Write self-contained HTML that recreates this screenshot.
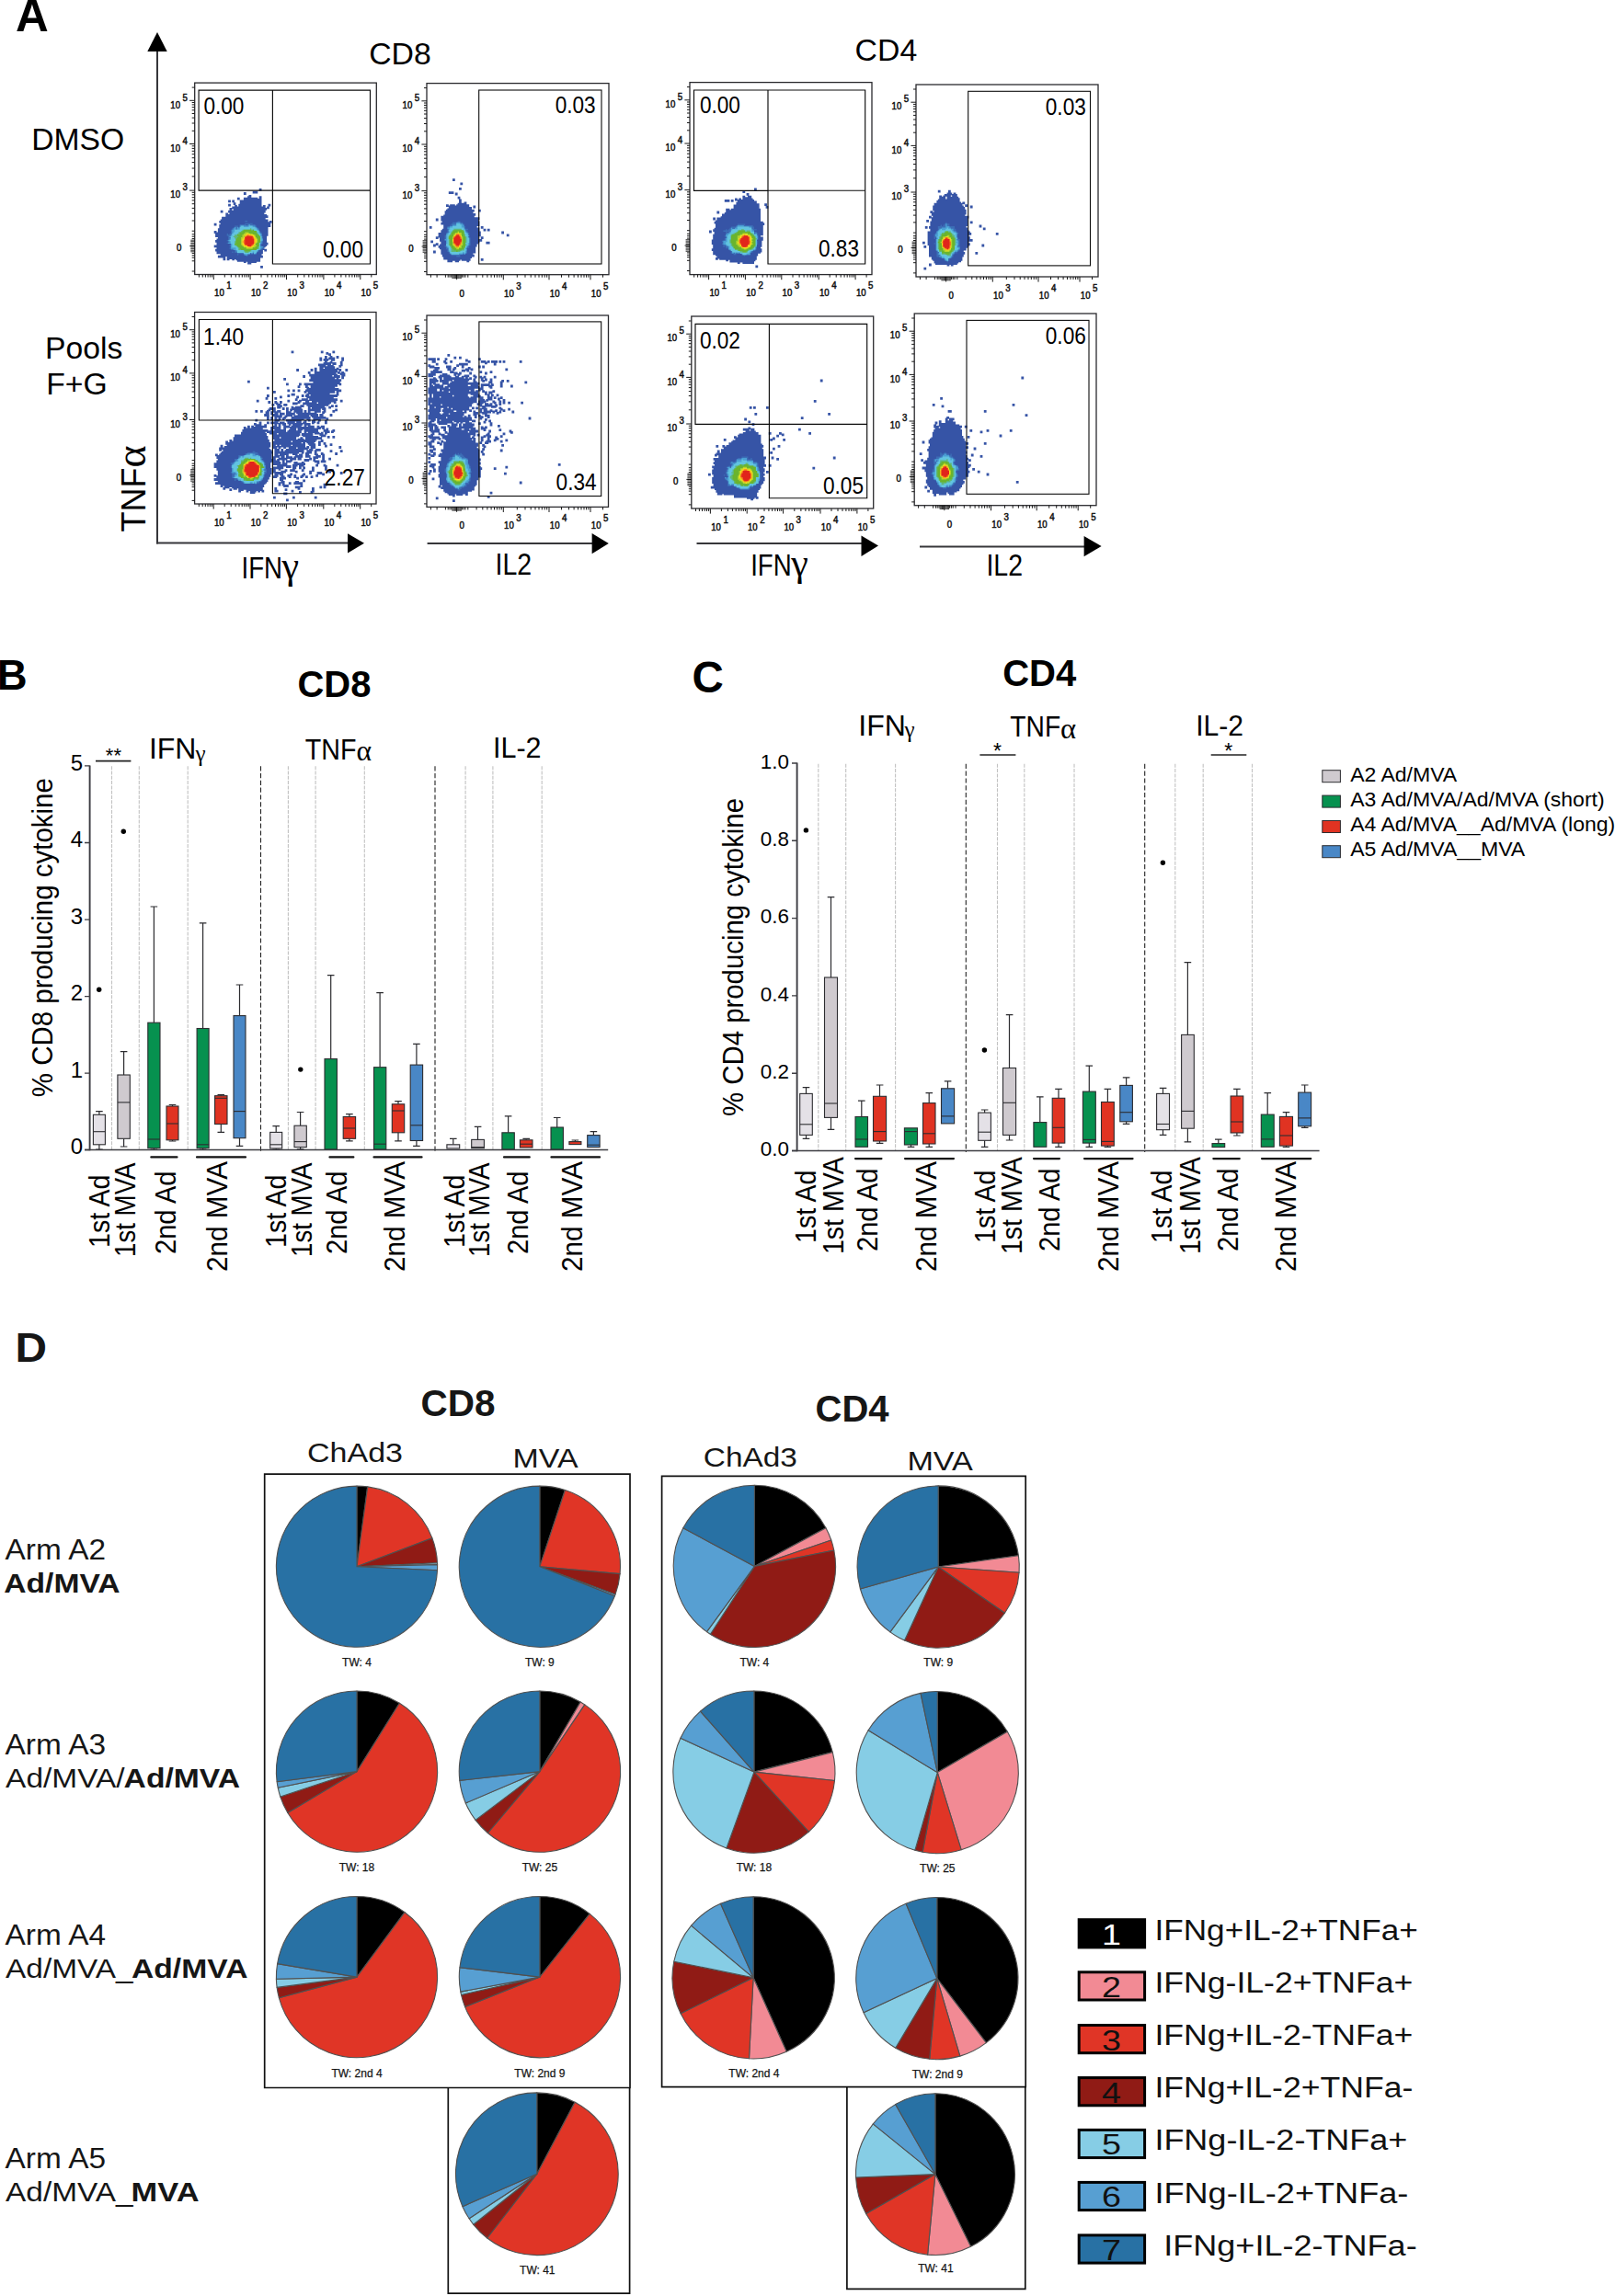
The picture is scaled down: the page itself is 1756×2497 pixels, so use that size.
<!DOCTYPE html>
<html lang="en"><head><meta charset="utf-8"><title>Figure</title>
<style>html,body{margin:0;padding:0;background:#fff}svg{display:block}</style>
</head><body>
<svg width="1756" height="2497" viewBox="0 0 1756 2497" font-family='"Liberation Sans", sans-serif' fill="#000">
<g>
<path fill="#3654a6" d="M281.7 204.9h2.8v2.8h-2.8zM274.7 207.7h5.6v2.8h-5.6zM264.9 209.1h2.8v2.8h-2.8zM270.5 211.9h2.8v1.4h-2.8zM269.1 213.3h4.2v1.4h-4.2zM281.7 213.3h2.8v2.8h-2.8zM257.9 214.7h2.8v2.8h-2.8zM264.9 214.7h15.4v1.4h-15.4zM264.9 216.1h19.6v1.4h-19.6zM248.1 217.5h2.8v2.8h-2.8zM252.3 217.5h2.8v2.8h-2.8zM260.7 217.5h23.8v4.2h-23.8zM253.7 220.3h2.8v2.8h-2.8zM248.1 221.7h2.8v2.8h-2.8zM259.3 221.7h25.2v2.8h-25.2zM291.5 221.7h2.8v2.8h-2.8zM255.1 223.1h2.8v1.4h-2.8zM285.9 223.1h2.8v1.4h-2.8zM252.3 224.5h36.4v1.4h-36.4zM290.1 224.5h2.8v1.4h-2.8zM249.5 225.9h43.4v1.4h-43.4zM249.5 227.3h2.8v1.4h-2.8zM253.7 227.3h36.4v1.4h-36.4zM239.7 228.7h2.8v2.8h-2.8zM248.1 228.7h40.6v2.8h-40.6zM245.3 231.5h2.8v1.4h-2.8zM249.5 231.5h37.8v1.4h-37.8zM245.3 232.9h44.8v1.4h-44.8zM245.3 234.3h46.2v1.4h-46.2zM241.1 235.7h50.4v1.4h-50.4zM241.1 237.1h47.6v1.4h-47.6zM239.7 238.5h51.8v1.4h-51.8zM238.3 239.9h53.2v1.4h-53.2zM292.9 239.9h2.8v1.4h-2.8zM238.3 241.3h57.4v1.4h-57.4zM232.7 242.7h2.8v2.8h-2.8zM239.7 242.7h54.6v1.4h-54.6zM238.3 244.1h56v2.8h-56zM238.3 246.9h53.2v1.4h-53.2zM236.9 248.3h54.6v4.2h-54.6zM232.7 251.1h2.8v1.4h-2.8zM232.7 252.5h58.8v1.4h-58.8zM234.1 253.9h57.4v2.8h-57.4zM234.1 256.7h56v1.4h-56zM236.9 258.1h53.2v1.4h-53.2zM235.5 259.5h54.6v1.4h-54.6zM234.1 260.9h56v2.8h-56zM235.5 263.7h56v2.8h-56zM232.7 266.5h57.4v1.4h-57.4zM232.7 267.9h56v1.4h-56zM235.5 269.3h51.8v1.4h-51.8zM234.1 270.7h56v1.4h-56zM234.1 272.1h51.8v1.4h-51.8zM287.3 272.1h2.8v1.4h-2.8zM235.5 273.5h50.4v2.8h-50.4zM239.7 276.3h44.8v1.4h-44.8zM236.9 277.7h49v1.4h-49zM236.9 279.1h8.4v1.4h-8.4zM246.7 279.1h39.2v1.4h-39.2zM242.5 280.5h2.8v2.8h-2.8zM246.7 280.5h36.4v1.4h-36.4zM246.7 281.9h2.8v1.4h-2.8zM252.3 281.9h2.8v1.4h-2.8zM256.5 281.9h26.6v1.4h-26.6zM257.9 283.3h25.2v1.4h-25.2zM264.9 284.7h2.8v1.4h-2.8zM269.1 284.7h9.8v1.4h-9.8zM269.1 286.1h4.2v1.4h-4.2zM283.1 288.9h2.8v2.8h-2.8z"/>
<path fill="#3c6db6" d="M266.3 239.9h2.8v1.4h-2.8zM266.3 242.7h8.4v1.4h-8.4zM260.7 244.1h7v1.4h-7zM269.1 244.1h8.4v1.4h-8.4zM255.1 245.5h4.2v1.4h-4.2zM260.7 245.5h18.2v1.4h-18.2zM253.7 246.9h26.6v1.4h-26.6zM252.3 248.3h29.4v1.4h-29.4zM250.9 249.7h30.8v1.4h-30.8zM250.9 251.1h32.2v1.4h-32.2zM250.9 252.5h33.6v1.4h-33.6zM246.7 253.9h1.4v1.4h-1.4zM249.5 253.9h35v1.4h-35zM246.7 255.3h37.8v1.4h-37.8zM248.1 256.7h37.8v4.2h-37.8zM246.7 260.9h39.2v1.4h-39.2zM248.1 262.3h37.8v1.4h-37.8zM246.7 263.7h39.2v1.4h-39.2zM250.9 265.1h33.6v1.4h-33.6zM249.5 266.5h35v1.4h-35zM250.9 267.9h36.4v1.4h-36.4zM249.5 269.3h37.8v1.4h-37.8zM250.9 270.7h33.6v1.4h-33.6zM255.1 272.1h26.6v1.4h-26.6zM252.3 273.5h1.4v1.4h-1.4zM255.1 273.5h25.2v1.4h-25.2zM257.9 274.9h21v1.4h-21zM257.9 276.3h1.4v1.4h-1.4zM264.9 276.3h5.6v1.4h-5.6zM267.7 277.7h1.4v1.4h-1.4z"/>
<path fill="#4a9fd4" d="M270.5 244.1h1.4v1.4h-1.4zM260.7 245.5h16.8v1.4h-16.8zM255.1 246.9h1.4v1.4h-1.4zM257.9 246.9h1.4v1.4h-1.4zM260.7 246.9h18.2v1.4h-18.2zM253.7 248.3h2.8v1.4h-2.8zM257.9 248.3h22.4v1.4h-22.4zM252.3 249.7h29.4v2.8h-29.4zM252.3 252.5h30.8v1.4h-30.8zM252.3 253.9h32.2v1.4h-32.2zM250.9 255.3h33.6v1.4h-33.6zM249.5 256.7h35v1.4h-35zM250.9 258.1h33.6v1.4h-33.6zM249.5 259.5h36.4v1.4h-36.4zM248.1 260.9h37.8v1.4h-37.8zM249.5 262.3h35v1.4h-35zM248.1 263.7h36.4v1.4h-36.4zM250.9 265.1h32.2v2.8h-32.2zM250.9 267.9h35v1.4h-35zM250.9 269.3h33.6v1.4h-33.6zM253.7 270.7h29.4v1.4h-29.4zM256.5 272.1h23.8v1.4h-23.8zM257.9 273.5h21v1.4h-21zM264.9 274.9h7v1.4h-7zM273.3 274.9h1.4v1.4h-1.4zM276.1 274.9h2.8v1.4h-2.8zM266.3 276.3h2.8v1.4h-2.8z"/>
<path fill="#62c4e0" d="M262.1 245.5h2.8v1.4h-2.8zM270.5 245.5h4.2v1.4h-4.2zM260.7 246.9h16.8v1.4h-16.8zM260.7 248.3h18.2v1.4h-18.2zM255.1 249.7h25.2v1.4h-25.2zM255.1 251.1h26.6v1.4h-26.6zM253.7 252.5h28v1.4h-28zM252.3 253.9h30.8v2.8h-30.8zM250.9 256.7h33.6v4.2h-33.6zM249.5 260.9h35v1.4h-35zM250.9 262.3h32.2v2.8h-32.2zM252.3 265.1h30.8v4.2h-30.8zM256.5 269.3h26.6v1.4h-26.6zM256.5 270.7h25.2v1.4h-25.2zM257.9 272.1h22.4v1.4h-22.4zM257.9 273.5h16.8v1.4h-16.8zM276.1 273.5h2.8v1.4h-2.8zM264.9 274.9h7v1.4h-7zM276.1 274.9h1.4v1.4h-1.4z"/>
<path fill="#5fb878" d="M271.9 248.3h1.4v1.4h-1.4zM263.5 249.7h12.6v1.4h-12.6zM262.1 251.1h16.8v1.4h-16.8zM259.3 252.5h21v1.4h-21zM257.9 253.9h22.4v1.4h-22.4zM255.1 255.3h26.6v1.4h-26.6zM253.7 256.7h29.4v1.4h-29.4zM255.1 258.1h28v1.4h-28zM256.5 259.5h26.6v2.8h-26.6zM255.1 262.3h28v1.4h-28zM255.1 263.7h26.6v2.8h-26.6zM256.5 266.5h25.2v1.4h-25.2zM257.9 267.9h23.8v1.4h-23.8zM259.3 269.3h22.4v1.4h-22.4zM259.3 270.7h19.6v1.4h-19.6zM264.9 272.1h8.4v1.4h-8.4zM266.3 273.5h4.2v1.4h-4.2z"/>
<path fill="#6ab42d" d="M264.9 249.7h8.4v1.4h-8.4zM274.7 249.7h1.4v1.4h-1.4zM263.5 251.1h15.4v1.4h-15.4zM260.7 252.5h18.2v1.4h-18.2zM260.7 253.9h19.6v1.4h-19.6zM257.9 255.3h23.8v1.4h-23.8zM259.3 256.7h23.8v1.4h-23.8zM257.9 258.1h25.2v1.4h-25.2zM256.5 259.5h26.6v4.2h-26.6zM256.5 263.7h25.2v1.4h-25.2zM255.1 265.1h26.6v1.4h-26.6zM257.9 266.5h23.8v1.4h-23.8zM259.3 267.9h21v1.4h-21zM260.7 269.3h19.6v1.4h-19.6zM262.1 270.7h16.8v1.4h-16.8zM266.3 272.1h5.6v1.4h-5.6z"/>
<path fill="#b5d22b" d="M266.3 252.5h4.2v1.4h-4.2zM264.9 253.9h9.8v1.4h-9.8zM263.5 255.3h14v2.8h-14zM262.1 258.1h16.8v1.4h-16.8zM262.1 259.5h18.2v4.2h-18.2zM262.1 263.7h16.8v1.4h-16.8zM262.1 265.1h15.4v1.4h-15.4zM263.5 266.5h15.4v1.4h-15.4zM264.9 267.9h12.6v1.4h-12.6zM267.7 269.3h7v1.4h-7z"/>
<path fill="#f6e21c" d="M267.7 253.9h4.2v1.4h-4.2zM266.3 255.3h9.8v1.4h-9.8zM266.3 256.7h11.2v1.4h-11.2zM264.9 258.1h12.6v1.4h-12.6zM263.5 259.5h15.4v4.2h-15.4zM263.5 263.7h14v2.8h-14zM264.9 266.5h11.2v1.4h-11.2zM267.7 267.9h7v1.4h-7z"/>
<path fill="#f5a81e" d="M267.7 255.3h5.6v1.4h-5.6zM266.3 256.7h9.8v2.8h-9.8zM264.9 259.5h12.6v2.8h-12.6zM263.5 262.3h14v1.4h-14zM264.9 263.7h12.6v1.4h-12.6zM264.9 265.1h11.2v1.4h-11.2zM267.7 266.5h7v1.4h-7zM270.5 267.9h2.8v1.4h-2.8z"/>
<path fill="#ee6c1e" d="M269.1 255.3h1.4v1.4h-1.4zM266.3 256.7h8.4v1.4h-8.4zM266.3 258.1h9.8v2.8h-9.8zM264.9 260.9h11.2v4.2h-11.2zM266.3 265.1h9.8v1.4h-9.8zM269.1 266.5h4.2v1.4h-4.2z"/>
<path fill="#e1251b" d="M267.7 256.7h7v1.4h-7zM266.3 258.1h8.4v1.4h-8.4zM266.3 259.5h9.8v5.6h-9.8zM266.3 265.1h8.4v1.4h-8.4zM269.1 266.5h4.2v1.4h-4.2z"/>
</g>
<rect x="211.7" y="90.1" width="197.6" height="208.4" fill="none" stroke="#2a2a2e" stroke-width="1.3" />
<path d="M216.1 98.1H402.5V287H296.4V207.1H216.1Z M296.4 98.1V207.1" fill="none" stroke="#0c0c0c" stroke-width="1.15"/>
<line x1="296.4" y1="207.1" x2="402.5" y2="207.1" stroke="#0c0c0c" stroke-width="1.1" />
<path d="M211.7 109.3h-5.6M211.7 156.5h-5.6M211.7 207.1h-5.6M211.7 142.3h-3M211.7 191.9h-3M211.7 134h-3M211.7 183h-3M211.7 128.1h-3M211.7 176.6h-3M211.7 123.5h-3M211.7 171.7h-3M211.7 119.8h-3M211.7 167.7h-3M211.7 116.6h-3M211.7 164.3h-3M211.7 113.9h-3M211.7 161.4h-3M211.7 111.5h-3M211.7 158.8h-3M211.7 95.1h-3M211.7 251.2h-3M211.7 240h-3M211.7 232.2h-3M211.7 226.4h-3M211.7 221.7h-3M211.7 217.9h-3M211.7 214.7h-3M211.7 211.8h-3M211.7 209.3h-3M211.7 283.8h-3M211.7 295h-3M211.7 259.6h-3M211.7 257.2h-3M211.7 254.8h-3M211.7 275.4h-3M211.7 277.8h-3M211.7 280.2h-3" stroke="#1a1a1a" stroke-width="1" fill="none"/>
<path d="M211.7 273.8h-4.4M211.7 272.3h-4.4M211.7 270.7h-4.4M211.7 269.1h-4.4M211.7 267.5h-4.4M211.7 265.9h-4.4M211.7 264.3h-4.4M211.7 262.7h-4.4M211.7 261.2h-4.4M211.7 267.5h-5.5" stroke="#000" stroke-width="0.8" fill="none"/>
<text x="185.3" y="117.5" font-size="10.8" textLength="10.7" lengthAdjust="spacingAndGlyphs" fill="#111" stroke="#111" stroke-width="0.5">10</text>
<text x="198.5" y="109.5" font-size="10.8" textLength="5.4" lengthAdjust="spacingAndGlyphs" fill="#111" stroke="#111" stroke-width="0.5">5</text>
<text x="185.3" y="164.7" font-size="10.8" textLength="10.7" lengthAdjust="spacingAndGlyphs" fill="#111" stroke="#111" stroke-width="0.5">10</text>
<text x="198.5" y="156.7" font-size="10.8" textLength="5.4" lengthAdjust="spacingAndGlyphs" fill="#111" stroke="#111" stroke-width="0.5">4</text>
<text x="185.3" y="215.3" font-size="10.8" textLength="10.7" lengthAdjust="spacingAndGlyphs" fill="#111" stroke="#111" stroke-width="0.5">10</text>
<text x="198.5" y="207.3" font-size="10.8" textLength="5.4" lengthAdjust="spacingAndGlyphs" fill="#111" stroke="#111" stroke-width="0.5">3</text>
<text x="191.9" y="273.4" font-size="10.8" textLength="5.4" lengthAdjust="spacingAndGlyphs" fill="#111" stroke="#111" stroke-width="0.5">0</text>
<path d="M232.3 298.5v5.6M272.1 298.5v5.6M311.5 298.5v5.6M351.9 298.5v5.6M391.8 298.5v5.6M244.3 298.5v3M251.3 298.5v3M256.3 298.5v3M260.1 298.5v3M263.3 298.5v3M265.9 298.5v3M268.2 298.5v3M270.3 298.5v3M284 298.5v3M290.9 298.5v3M295.8 298.5v3M299.6 298.5v3M302.8 298.5v3M305.4 298.5v3M307.7 298.5v3M309.7 298.5v3M323.7 298.5v3M330.8 298.5v3M335.8 298.5v3M339.7 298.5v3M342.9 298.5v3M345.6 298.5v3M348 298.5v3M350.1 298.5v3M363.9 298.5v3M370.9 298.5v3M375.9 298.5v3M379.8 298.5v3M382.9 298.5v3M385.6 298.5v3M387.9 298.5v3M390 298.5v3M403.8 298.5v3M216.4 298.5v3M220.3 298.5v3M223.4 298.5v3M226.1 298.5v3M228.4 298.5v3M230.5 298.5v3" stroke="#1a1a1a" stroke-width="1" fill="none"/>
<text x="233.1" y="322.1" font-size="10.8" textLength="10.7" lengthAdjust="spacingAndGlyphs" fill="#111" stroke="#111" stroke-width="0.5">10</text>
<text x="246.3" y="314.1" font-size="10.8" textLength="5.4" lengthAdjust="spacingAndGlyphs" fill="#111" stroke="#111" stroke-width="0.5">1</text>
<text x="272.9" y="322.1" font-size="10.8" textLength="10.7" lengthAdjust="spacingAndGlyphs" fill="#111" stroke="#111" stroke-width="0.5">10</text>
<text x="286.1" y="314.1" font-size="10.8" textLength="5.4" lengthAdjust="spacingAndGlyphs" fill="#111" stroke="#111" stroke-width="0.5">2</text>
<text x="312.3" y="322.1" font-size="10.8" textLength="10.7" lengthAdjust="spacingAndGlyphs" fill="#111" stroke="#111" stroke-width="0.5">10</text>
<text x="325.5" y="314.1" font-size="10.8" textLength="5.4" lengthAdjust="spacingAndGlyphs" fill="#111" stroke="#111" stroke-width="0.5">3</text>
<text x="352.7" y="322.1" font-size="10.8" textLength="10.7" lengthAdjust="spacingAndGlyphs" fill="#111" stroke="#111" stroke-width="0.5">10</text>
<text x="365.9" y="314.1" font-size="10.8" textLength="5.4" lengthAdjust="spacingAndGlyphs" fill="#111" stroke="#111" stroke-width="0.5">4</text>
<text x="392.6" y="322.1" font-size="10.8" textLength="10.7" lengthAdjust="spacingAndGlyphs" fill="#111" stroke="#111" stroke-width="0.5">10</text>
<text x="405.8" y="314.1" font-size="10.8" textLength="5.4" lengthAdjust="spacingAndGlyphs" fill="#111" stroke="#111" stroke-width="0.5">5</text>
<text x="221.4" y="123.5" font-size="25.5" textLength="44" lengthAdjust="spacingAndGlyphs">0.00</text>
<text x="395" y="280.3" font-size="25.5" text-anchor="end" textLength="44" lengthAdjust="spacingAndGlyphs">0.00</text>
<g>
<path fill="#3654a6" d="M492 194.2h2.8v2.8h-2.8zM500.4 198.4h2.8v2.8h-2.8zM499 204h2.8v2.8h-2.8zM487.8 208.2h5.6v2.8h-5.6zM494.8 209.6h2.8v2.8h-2.8zM497.6 213.8h2.8v2.8h-2.8zM499 216.6h2.8v4.2h-2.8zM504.6 219.4h2.8v1.4h-2.8zM497.6 220.8h9.8v1.4h-9.8zM485 222.2h2.8v1.4h-2.8zM489.2 222.2h5.6v1.4h-5.6zM496.2 222.2h14v1.4h-14zM485 223.6h25.2v1.4h-25.2zM514.4 223.6h2.8v2.8h-2.8zM487.8 225h25.2v1.4h-25.2zM486.4 226.4h26.6v1.4h-26.6zM485 227.8h30.8v1.4h-30.8zM520 227.8h2.8v2.8h-2.8zM483.6 229.2h32.2v1.4h-32.2zM483.6 230.6h30.8v1.4h-30.8zM483.6 232h33.6v1.4h-33.6zM482.2 233.4h35v1.4h-35zM479.4 234.8h36.4v1.4h-36.4zM479.4 236.2h42v2.8h-42zM473.8 237.6h2.8v2.8h-2.8zM479.4 239h40.6v1.4h-40.6zM480.8 240.4h40.6v1.4h-40.6zM479.4 241.8h42v2.8h-42zM482.2 244.6h39.2v1.4h-39.2zM466.8 246h2.8v2.8h-2.8zM482.2 246h36.4v1.4h-36.4zM522.8 246h2.8v2.8h-2.8zM482.2 247.4h39.2v1.4h-39.2zM480.8 248.8h40.6v1.4h-40.6zM525.6 248.8h2.8v2.8h-2.8zM529.8 248.8h2.8v2.8h-2.8zM479.4 250.2h42v1.4h-42zM479.4 251.6h43.4v1.4h-43.4zM545.2 251.6h2.8v2.8h-2.8zM476.6 253h46.2v4.2h-46.2zM550.8 254.4h2.8v2.8h-2.8zM473.8 257.2h46.2v1.4h-46.2zM522.8 257.2h2.8v2.8h-2.8zM473.8 258.6h2.8v1.4h-2.8zM478 258.6h42v1.4h-42zM478 260h46.2v2.8h-46.2zM468.2 261.4h2.8v2.8h-2.8zM479.4 262.8h42v1.4h-42zM528.4 262.8h4.2v2.8h-4.2zM473.8 264.2h2.8v1.4h-2.8zM479.4 264.2h40.6v1.4h-40.6zM471 265.6h5.6v1.4h-5.6zM478 265.6h40.6v1.4h-40.6zM471 267h2.8v1.4h-2.8zM476.6 267h42v1.4h-42zM476.6 268.4h40.6v1.4h-40.6zM478 269.8h39.2v1.4h-39.2zM479.4 271.2h37.8v4.2h-37.8zM471 272.6h2.8v2.8h-2.8zM479.4 275.4h35v1.4h-35zM480.8 276.8h35v2.8h-35zM482.2 279.6h30.8v1.4h-30.8zM482.2 281h29.4v1.4h-29.4zM522.8 281h2.8v2.8h-2.8zM486.4 282.4h14v1.4h-14zM501.8 282.4h9.8v1.4h-9.8zM486.4 283.8h5.6v1.4h-5.6zM494.8 283.8h4.2v1.4h-4.2zM507.4 283.8h2.8v1.4h-2.8z"/>
<path fill="#3c6db6" d="M497.6 240.4h2.8v1.4h-2.8zM492 241.8h11.2v1.4h-11.2zM490.6 243.2h14v1.4h-14zM489.2 244.6h15.4v1.4h-15.4zM486.4 246h19.6v2.8h-19.6zM486.4 248.8h22.4v1.4h-22.4zM486.4 250.2h21v1.4h-21zM486.4 251.6h22.4v1.4h-22.4zM485 253h25.2v2.8h-25.2zM483.6 255.8h26.6v2.8h-26.6zM483.6 258.6h28v2.8h-28zM485 261.4h26.6v5.6h-26.6zM483.6 267h26.6v1.4h-26.6zM485 268.4h25.2v1.4h-25.2zM485 269.8h22.4v1.4h-22.4zM486.4 271.2h21v2.8h-21zM487.8 274h19.6v1.4h-19.6zM489.2 275.4h16.8v1.4h-16.8zM490.6 276.8h9.8v1.4h-9.8zM496.2 278.2h4.2v1.4h-4.2z"/>
<path fill="#4a9fd4" d="M496.2 241.8h4.2v1.4h-4.2zM496.2 243.2h7v1.4h-7zM492 244.6h12.6v1.4h-12.6zM489.2 246h15.4v1.4h-15.4zM486.4 247.4h18.2v1.4h-18.2zM487.8 248.8h18.2v2.8h-18.2zM487.8 251.6h19.6v1.4h-19.6zM486.4 253h22.4v1.4h-22.4zM485 254.4h23.8v1.4h-23.8zM485 255.8h25.2v1.4h-25.2zM485 257.2h23.8v1.4h-23.8zM485 258.6h25.2v1.4h-25.2zM483.6 260h26.6v1.4h-26.6zM485 261.4h25.2v5.6h-25.2zM485 267h23.8v1.4h-23.8zM486.4 268.4h21v1.4h-21zM487.8 269.8h19.6v4.2h-19.6zM489.2 274h18.2v1.4h-18.2zM490.6 275.4h12.6v1.4h-12.6zM504.6 275.4h1.4v1.4h-1.4z"/>
<path fill="#62c4e0" d="M496.2 243.2h4.2v1.4h-4.2zM496.2 244.6h5.6v1.4h-5.6zM492 246h9.8v1.4h-9.8zM489.2 247.4h15.4v2.8h-15.4zM487.8 250.2h18.2v1.4h-18.2zM489.2 251.6h16.8v1.4h-16.8zM487.8 253h19.6v1.4h-19.6zM486.4 254.4h22.4v4.2h-22.4zM486.4 258.6h23.8v5.6h-23.8zM486.4 264.2h22.4v1.4h-22.4zM485 265.6h23.8v1.4h-23.8zM486.4 267h21v1.4h-21zM487.8 268.4h19.6v1.4h-19.6zM487.8 269.8h18.2v1.4h-18.2zM487.8 271.2h19.6v1.4h-19.6zM489.2 272.6h16.8v1.4h-16.8zM489.2 274h14v1.4h-14zM504.6 274h1.4v1.4h-1.4zM490.6 275.4h8.4v1.4h-8.4z"/>
<path fill="#5fb878" d="M493.4 248.8h8.4v1.4h-8.4zM492 250.2h12.6v1.4h-12.6zM490.6 251.6h14v2.8h-14zM489.2 254.4h16.8v1.4h-16.8zM487.8 255.8h18.2v1.4h-18.2zM487.8 257.2h19.6v7h-19.6zM487.8 264.2h18.2v1.4h-18.2zM487.8 265.6h19.6v1.4h-19.6zM489.2 267h16.8v1.4h-16.8zM490.6 268.4h15.4v1.4h-15.4zM490.6 269.8h14v2.8h-14zM490.6 272.6h9.8v1.4h-9.8z"/>
<path fill="#6ab42d" d="M493.4 250.2h9.8v1.4h-9.8zM492 251.6h12.6v1.4h-12.6zM490.6 253h14v2.8h-14zM489.2 255.8h15.4v1.4h-15.4zM487.8 257.2h18.2v2.8h-18.2zM489.2 260h16.8v7h-16.8zM490.6 267h15.4v1.4h-15.4zM490.6 268.4h14v1.4h-14zM492 269.8h12.6v1.4h-12.6zM493.4 271.2h8.4v1.4h-8.4zM496.2 272.6h1.4v1.4h-1.4z"/>
<path fill="#b5d22b" d="M497.6 251.6h1.4v1.4h-1.4zM494.8 253h7v1.4h-7zM493.4 254.4h8.4v2.8h-8.4zM492 257.2h11.2v9.8h-11.2zM493.4 267h8.4v1.4h-8.4zM494.8 268.4h7v1.4h-7zM496.2 269.8h2.8v1.4h-2.8z"/>
<path fill="#f6e21c" d="M497.6 253h1.4v1.4h-1.4zM494.8 254.4h5.6v1.4h-5.6zM493.4 255.8h8.4v4.2h-8.4zM492 260h9.8v2.8h-9.8zM493.4 262.8h8.4v2.8h-8.4zM493.4 265.6h7v1.4h-7zM494.8 267h5.6v1.4h-5.6zM497.6 268.4h1.4v1.4h-1.4z"/>
<path fill="#f5a81e" d="M496.2 254.4h4.2v1.4h-4.2zM494.8 255.8h5.6v1.4h-5.6zM493.4 257.2h8.4v8.4h-8.4zM494.8 265.6h5.6v1.4h-5.6zM494.8 267h4.2v1.4h-4.2z"/>
<path fill="#ee6c1e" d="M496.2 254.4h2.8v1.4h-2.8zM494.8 255.8h5.6v1.4h-5.6zM493.4 257.2h7v1.4h-7zM493.4 258.6h8.4v5.6h-8.4zM493.4 264.2h7v1.4h-7zM494.8 265.6h5.6v1.4h-5.6zM496.2 267h2.8v1.4h-2.8z"/>
<path fill="#e1251b" d="M496.2 255.8h2.8v1.4h-2.8zM494.8 257.2h5.6v1.4h-5.6zM493.4 258.6h7v1.4h-7zM493.4 260h8.4v2.8h-8.4zM493.4 262.8h7v1.4h-7zM494.8 264.2h5.6v1.4h-5.6zM496.2 265.6h2.8v1.4h-2.8z"/>
</g>
<rect x="464" y="90.6" width="198" height="208.1" fill="none" stroke="#2a2a2e" stroke-width="1.3" />
<rect x="520.7" y="98" width="133.3" height="189" fill="none" stroke="#0c0c0c" stroke-width="1.1" />
<path d="M464 109.8h-5.6M464 157h-5.6M464 207.6h-5.6M464 142.8h-3M464 192.4h-3M464 134.5h-3M464 183.5h-3M464 128.6h-3M464 177.1h-3M464 124h-3M464 172.2h-3M464 120.3h-3M464 168.2h-3M464 117.1h-3M464 164.8h-3M464 114.4h-3M464 161.9h-3M464 112h-3M464 159.3h-3M464 95.6h-3M464 251.7h-3M464 240.5h-3M464 232.7h-3M464 226.9h-3M464 222.2h-3M464 218.4h-3M464 215.2h-3M464 212.3h-3M464 209.8h-3M464 284.3h-3M464 295.5h-3M464 260.1h-3M464 257.7h-3M464 255.3h-3M464 275.9h-3M464 278.3h-3M464 280.7h-3" stroke="#1a1a1a" stroke-width="1" fill="none"/>
<path d="M464 274.3h-4.4M464 272.8h-4.4M464 271.2h-4.4M464 269.6h-4.4M464 268h-4.4M464 266.4h-4.4M464 264.8h-4.4M464 263.2h-4.4M464 261.7h-4.4M464 268h-5.5" stroke="#000" stroke-width="0.8" fill="none"/>
<text x="437.6" y="118" font-size="10.8" textLength="10.7" lengthAdjust="spacingAndGlyphs" fill="#111" stroke="#111" stroke-width="0.5">10</text>
<text x="450.8" y="110" font-size="10.8" textLength="5.4" lengthAdjust="spacingAndGlyphs" fill="#111" stroke="#111" stroke-width="0.5">5</text>
<text x="437.6" y="165.2" font-size="10.8" textLength="10.7" lengthAdjust="spacingAndGlyphs" fill="#111" stroke="#111" stroke-width="0.5">10</text>
<text x="450.8" y="157.2" font-size="10.8" textLength="5.4" lengthAdjust="spacingAndGlyphs" fill="#111" stroke="#111" stroke-width="0.5">4</text>
<text x="437.6" y="215.8" font-size="10.8" textLength="10.7" lengthAdjust="spacingAndGlyphs" fill="#111" stroke="#111" stroke-width="0.5">10</text>
<text x="450.8" y="207.8" font-size="10.8" textLength="5.4" lengthAdjust="spacingAndGlyphs" fill="#111" stroke="#111" stroke-width="0.5">3</text>
<text x="444.2" y="273.9" font-size="10.8" textLength="5.4" lengthAdjust="spacingAndGlyphs" fill="#111" stroke="#111" stroke-width="0.5">0</text>
<path d="M547.3 298.7v5.6M597 298.7v5.6M642 298.7v5.6M562.3 298.7v3M610.5 298.7v3M571 298.7v3M618.5 298.7v3M577.2 298.7v3M624.1 298.7v3M582 298.7v3M628.5 298.7v3M586 298.7v3M632 298.7v3M589.3 298.7v3M635 298.7v3M592.2 298.7v3M637.6 298.7v3M594.7 298.7v3M639.9 298.7v3M655.5 298.7v3M508.8 298.7v3M518.1 298.7v3M524.8 298.7v3M529.9 298.7v3M534.1 298.7v3M537.5 298.7v3M540.4 298.7v3M543 298.7v3M545.3 298.7v3M484.4 298.7v3M475.1 298.7v3M468.4 298.7v3M502.4 298.7v3M504.2 298.7v3M506 298.7v3M490.8 298.7v3M489 298.7v3M487.2 298.7v3" stroke="#1a1a1a" stroke-width="1" fill="none"/>
<path d="M492 298.7v4.4M493.1 298.7v4.4M494.3 298.7v4.4M495.4 298.7v4.4M496.6 298.7v4.4M497.8 298.7v4.4M498.9 298.7v4.4M500.1 298.7v4.4M501.2 298.7v4.4M496.6 298.7v5.5" stroke="#000" stroke-width="0.8" fill="none"/>
<text x="499.6" y="322.5" font-size="10.8" textLength="5.4" lengthAdjust="spacingAndGlyphs" fill="#111" stroke="#111" stroke-width="0.5">0</text>
<text x="548.1" y="322.5" font-size="10.8" textLength="10.7" lengthAdjust="spacingAndGlyphs" fill="#111" stroke="#111" stroke-width="0.5">10</text>
<text x="561.3" y="314.5" font-size="10.8" textLength="5.4" lengthAdjust="spacingAndGlyphs" fill="#111" stroke="#111" stroke-width="0.5">3</text>
<text x="597.8" y="322.5" font-size="10.8" textLength="10.7" lengthAdjust="spacingAndGlyphs" fill="#111" stroke="#111" stroke-width="0.5">10</text>
<text x="611" y="314.5" font-size="10.8" textLength="5.4" lengthAdjust="spacingAndGlyphs" fill="#111" stroke="#111" stroke-width="0.5">4</text>
<text x="642.8" y="322.5" font-size="10.8" textLength="10.7" lengthAdjust="spacingAndGlyphs" fill="#111" stroke="#111" stroke-width="0.5">10</text>
<text x="656" y="314.5" font-size="10.8" textLength="5.4" lengthAdjust="spacingAndGlyphs" fill="#111" stroke="#111" stroke-width="0.5">5</text>
<text x="647.7" y="122.8" font-size="25.5" text-anchor="end" textLength="44" lengthAdjust="spacingAndGlyphs">0.03</text>
<g>
<path fill="#3654a6" d="M316.6 381.5h2.8v2.8h-2.8zM348.8 381.5h2.8v2.8h-2.8zM361.4 381.5h2.8v2.8h-2.8zM354.4 382.9h2.8v1.4h-2.8zM354.4 384.3h5.6v1.4h-5.6zM357.2 385.7h2.8v1.4h-2.8zM353 387.1h2.8v2.8h-2.8zM358.6 387.1h2.8v1.4h-2.8zM365.6 387.1h2.8v2.8h-2.8zM347.4 388.5h2.8v4.2h-2.8zM357.2 388.5h7v1.4h-7zM371.2 388.5h2.8v4.2h-2.8zM351.6 389.9h12.6v1.4h-12.6zM351.6 391.3h5.6v1.4h-5.6zM360 391.3h4.2v1.4h-4.2zM353 392.7h2.8v1.4h-2.8zM358.6 392.7h2.8v1.4h-2.8zM369.8 392.7h2.8v4.2h-2.8zM351.6 394.1h14v1.4h-14zM346 395.5h14v1.4h-14zM361.4 395.5h4.2v1.4h-4.2zM346 396.9h8.4v1.4h-8.4zM355.8 396.9h7v1.4h-7zM368.4 396.9h4.2v1.4h-4.2zM347.4 398.3h16.8v1.4h-16.8zM368.4 398.3h2.8v1.4h-2.8zM341.8 399.7h2.8v4.2h-2.8zM347.4 399.7h4.2v1.4h-4.2zM353 399.7h11.2v1.4h-11.2zM365.6 399.7h2.8v1.4h-2.8zM322.2 401.1h2.8v2.8h-2.8zM337.6 401.1h2.8v2.8h-2.8zM347.4 401.1h23.8v1.4h-23.8zM375.4 401.1h2.8v2.8h-2.8zM347.4 402.5h19.6v1.4h-19.6zM368.4 402.5h2.8v1.4h-2.8zM334.8 403.9h2.8v2.8h-2.8zM341.8 403.9h28v1.4h-28zM371.2 403.9h2.8v1.4h-2.8zM341.8 405.3h23.8v1.4h-23.8zM367 405.3h8.4v1.4h-8.4zM336.2 406.7h30.8v1.4h-30.8zM369.8 406.7h5.6v1.4h-5.6zM329.2 408.1h2.8v2.8h-2.8zM336.2 408.1h25.2v1.4h-25.2zM362.8 408.1h7v1.4h-7zM371.2 408.1h4.2v1.4h-4.2zM337.6 409.5h32.2v1.4h-32.2zM371.2 409.5h2.8v2.8h-2.8zM308.2 410.9h2.8v2.8h-2.8zM337.6 410.9h26.6v1.4h-26.6zM365.6 410.9h2.8v1.4h-2.8zM336.2 412.3h35v2.8h-35zM269 413.7h2.8v2.8h-2.8zM340.4 415.1h29.4v1.4h-29.4zM311 416.5h2.8v2.8h-2.8zM325 416.5h2.8v2.8h-2.8zM330.6 416.5h40.6v1.4h-40.6zM330.6 417.9h36.4v1.4h-36.4zM368.4 417.9h2.8v1.4h-2.8zM323.6 419.3h2.8v2.8h-2.8zM332 419.3h2.8v1.4h-2.8zM337.6 419.3h29.4v1.4h-29.4zM290 420.7h2.8v2.8h-2.8zM332 420.7h4.2v1.4h-4.2zM337.6 420.7h26.6v1.4h-26.6zM333.4 422.1h35v1.4h-35zM312.4 423.5h2.8v2.8h-2.8zM318 423.5h2.8v2.8h-2.8zM323.6 423.5h2.8v2.8h-2.8zM332 423.5h39.2v1.4h-39.2zM297 424.9h2.8v2.8h-2.8zM330.6 424.9h33.6v1.4h-33.6zM365.6 424.9h5.6v1.4h-5.6zM330.6 426.3h2.8v1.4h-2.8zM334.8 426.3h29.4v1.4h-29.4zM365.6 426.3h2.8v2.8h-2.8zM316.6 427.7h4.2v2.8h-4.2zM333.4 427.7h25.2v1.4h-25.2zM290 429.1h2.8v2.8h-2.8zM312.4 429.1h2.8v2.8h-2.8zM327.8 429.1h2.8v2.8h-2.8zM332 429.1h4.2v1.4h-4.2zM337.6 429.1h30.8v1.4h-30.8zM304 430.5h2.8v2.8h-2.8zM322.2 430.5h2.8v2.8h-2.8zM332 430.5h35v1.4h-35zM288.6 431.9h2.8v2.8h-2.8zM298.4 431.9h2.8v2.8h-2.8zM333.4 431.9h29.4v1.4h-29.4zM320.8 433.3h2.8v2.8h-2.8zM327.8 433.3h7v1.4h-7zM336.2 433.3h30.8v1.4h-30.8zM278.8 434.7h2.8v2.8h-2.8zM312.4 434.7h2.8v2.8h-2.8zM325 434.7h42v1.4h-42zM369.8 434.7h2.8v2.8h-2.8zM291.4 436.1h2.8v2.8h-2.8zM298.4 436.1h2.8v1.4h-2.8zM304 436.1h2.8v2.8h-2.8zM323.6 436.1h4.2v1.4h-4.2zM332 436.1h4.2v1.4h-4.2zM339 436.1h26.6v1.4h-26.6zM298.4 437.5h4.2v1.4h-4.2zM318 437.5h8.4v1.4h-8.4zM329.2 437.5h15.4v1.4h-15.4zM346 437.5h14v1.4h-14zM362.8 437.5h2.8v1.4h-2.8zM295.6 438.9h2.8v2.8h-2.8zM299.8 438.9h5.6v1.4h-5.6zM308.2 438.9h4.2v2.8h-4.2zM318 438.9h5.6v1.4h-5.6zM329.2 438.9h29.4v1.4h-29.4zM301.2 440.3h5.6v2.8h-5.6zM326.4 440.3h4.2v1.4h-4.2zM333.4 440.3h23.8v1.4h-23.8zM360 440.3h2.8v1.4h-2.8zM364.2 440.3h2.8v2.8h-2.8zM316.6 441.7h2.8v1.4h-2.8zM320.8 441.7h9.8v1.4h-9.8zM334.8 441.7h18.2v1.4h-18.2zM357.2 441.7h5.6v1.4h-5.6zM292.8 443.1h7v1.4h-7zM301.2 443.1h4.2v1.4h-4.2zM306.8 443.1h2.8v2.8h-2.8zM311 443.1h2.8v4.2h-2.8zM316.6 443.1h11.2v1.4h-11.2zM334.8 443.1h2.8v1.4h-2.8zM339 443.1h15.4v1.4h-15.4zM357.2 443.1h2.8v1.4h-2.8zM291.4 444.5h8.4v1.4h-8.4zM315.2 444.5h14v1.4h-14zM334.8 444.5h14v2.8h-14zM350.2 444.5h4.2v1.4h-4.2zM364.2 444.5h2.8v1.4h-2.8zM277.4 445.9h2.8v2.8h-2.8zM283 445.9h2.8v2.8h-2.8zM290 445.9h4.2v1.4h-4.2zM297 445.9h2.8v1.4h-2.8zM301.2 445.9h4.2v1.4h-4.2zM315.2 445.9h2.8v1.4h-2.8zM319.4 445.9h9.8v2.8h-9.8zM330.6 445.9h2.8v2.8h-2.8zM351.6 445.9h2.8v1.4h-2.8zM361.4 445.9h5.6v1.4h-5.6zM288.6 447.3h4.2v2.8h-4.2zM294.2 447.3h11.2v1.4h-11.2zM311 447.3h5.6v1.4h-5.6zM334.8 447.3h2.8v1.4h-2.8zM341.8 447.3h7v1.4h-7zM350.2 447.3h4.2v1.4h-4.2zM361.4 447.3h2.8v1.4h-2.8zM294.2 448.7h2.8v1.4h-2.8zM298.4 448.7h4.2v1.4h-4.2zM304 448.7h5.6v2.8h-5.6zM311 448.7h9.8v2.8h-9.8zM322.2 448.7h22.4v1.4h-22.4zM350.2 448.7h2.8v1.4h-2.8zM287.2 450.1h5.6v2.8h-5.6zM294.2 450.1h8.4v1.4h-8.4zM323.6 450.1h22.4v1.4h-22.4zM347.4 450.1h4.2v2.8h-4.2zM358.6 450.1h2.8v2.8h-2.8zM297 451.5h9.8v1.4h-9.8zM309.6 451.5h8.4v1.4h-8.4zM319.4 451.5h16.8v1.4h-16.8zM337.6 451.5h8.4v1.4h-8.4zM290 452.9h2.8v4.2h-2.8zM294.2 452.9h2.8v4.2h-2.8zM298.4 452.9h8.4v1.4h-8.4zM308.2 452.9h4.2v1.4h-4.2zM316.6 452.9h21v2.8h-21zM339 452.9h15.4v1.4h-15.4zM298.4 454.3h2.8v1.4h-2.8zM302.6 454.3h2.8v1.4h-2.8zM306.8 454.3h4.2v1.4h-4.2zM340.4 454.3h16.8v1.4h-16.8zM277.4 455.7h2.8v2.8h-2.8zM298.4 455.7h7v1.4h-7zM306.8 455.7h2.8v1.4h-2.8zM311 455.7h19.6v1.4h-19.6zM333.4 455.7h4.2v1.4h-4.2zM340.4 455.7h8.4v1.4h-8.4zM354.4 455.7h2.8v1.4h-2.8zM298.4 457.1h5.6v1.4h-5.6zM311 457.1h16.8v1.4h-16.8zM330.6 457.1h2.8v1.4h-2.8zM334.8 457.1h2.8v1.4h-2.8zM339 457.1h4.2v2.8h-4.2zM346 457.1h2.8v1.4h-2.8zM353 457.1h2.8v4.2h-2.8zM281.6 458.5h2.8v2.8h-2.8zM290 458.5h2.8v2.8h-2.8zM294.2 458.5h8.4v1.4h-8.4zM304 458.5h5.6v1.4h-5.6zM312.4 458.5h8.4v1.4h-8.4zM322.2 458.5h5.6v1.4h-5.6zM329.2 458.5h4.2v1.4h-4.2zM344.6 458.5h2.8v2.8h-2.8zM276 459.9h2.8v1.4h-2.8zM294.2 459.9h16.8v1.4h-16.8zM312.4 459.9h25.2v1.4h-25.2zM339 459.9h2.8v1.4h-2.8zM276 461.3h8.4v1.4h-8.4zM287.2 461.3h2.8v1.4h-2.8zM298.4 461.3h2.8v1.4h-2.8zM302.6 461.3h2.8v2.8h-2.8zM306.8 461.3h4.2v1.4h-4.2zM313.8 461.3h2.8v1.4h-2.8zM318 461.3h11.2v1.4h-11.2zM330.6 461.3h7v1.4h-7zM269 462.7h2.8v2.8h-2.8zM273.2 462.7h2.8v1.4h-2.8zM277.4 462.7h12.6v1.4h-12.6zM297 462.7h4.2v1.4h-4.2zM308.2 462.7h7v1.4h-7zM316.6 462.7h11.2v1.4h-11.2zM330.6 462.7h2.8v1.4h-2.8zM334.8 462.7h7v1.4h-7zM344.6 462.7h2.8v1.4h-2.8zM348.8 462.7h4.2v1.4h-4.2zM264.8 464.1h2.8v1.4h-2.8zM273.2 464.1h16.8v1.4h-16.8zM294.2 464.1h11.2v2.8h-11.2zM308.2 464.1h33.6v1.4h-33.6zM344.6 464.1h8.4v1.4h-8.4zM264.8 465.5h21v1.4h-21zM308.2 465.5h2.8v1.4h-2.8zM315.2 465.5h7v1.4h-7zM323.6 465.5h25.2v1.4h-25.2zM350.2 465.5h2.8v1.4h-2.8zM354.4 465.5h2.8v1.4h-2.8zM263.4 466.9h28v1.4h-28zM294.2 466.9h2.8v1.4h-2.8zM298.4 466.9h12.6v1.4h-12.6zM313.8 466.9h8.4v1.4h-8.4zM323.6 466.9h5.6v1.4h-5.6zM330.6 466.9h15.4v2.8h-15.4zM351.6 466.9h5.6v1.4h-5.6zM361.4 466.9h2.8v1.4h-2.8zM263.4 468.3h47.6v1.4h-47.6zM312.4 468.3h15.4v1.4h-15.4zM351.6 468.3h7v1.4h-7zM360 468.3h4.2v1.4h-4.2zM262 469.7h26.6v1.4h-26.6zM290 469.7h37.8v1.4h-37.8zM330.6 469.7h2.8v1.4h-2.8zM334.8 469.7h12.6v1.4h-12.6zM348.8 469.7h2.8v1.4h-2.8zM353 469.7h5.6v1.4h-5.6zM360 469.7h2.8v1.4h-2.8zM262 471.1h28v1.4h-28zM292.8 471.1h8.4v1.4h-8.4zM302.6 471.1h23.8v1.4h-23.8zM327.8 471.1h12.6v2.8h-12.6zM341.8 471.1h9.8v1.4h-9.8zM353 471.1h2.8v1.4h-2.8zM255 472.5h35v1.4h-35zM297 472.5h29.4v1.4h-29.4zM347.4 472.5h7v1.4h-7zM255 473.9h36.4v1.4h-36.4zM297 473.9h28v1.4h-28zM329.2 473.9h16.8v1.4h-16.8zM348.8 473.9h5.6v1.4h-5.6zM355.8 473.9h2.8v2.8h-2.8zM361.4 473.9h2.8v2.8h-2.8zM253.6 475.3h37.8v2.8h-37.8zM297 475.3h7v1.4h-7zM305.4 475.3h16.8v1.4h-16.8zM326.4 475.3h2.8v1.4h-2.8zM332 475.3h18.2v2.8h-18.2zM297 476.7h25.2v1.4h-25.2zM323.6 476.7h7v1.4h-7zM249.4 478.1h2.8v1.4h-2.8zM253.6 478.1h39.2v1.4h-39.2zM298.4 478.1h46.2v1.4h-46.2zM348.8 478.1h2.8v1.4h-2.8zM245.2 479.5h2.8v1.4h-2.8zM249.4 479.5h43.4v1.4h-43.4zM297 479.5h19.6v1.4h-19.6zM318 479.5h25.2v1.4h-25.2zM346 479.5h5.6v1.4h-5.6zM245.2 480.9h49v2.8h-49zM297 480.9h30.8v1.4h-30.8zM329.2 480.9h2.8v1.4h-2.8zM333.4 480.9h8.4v1.4h-8.4zM346 480.9h2.8v4.2h-2.8zM351.6 480.9h2.8v2.8h-2.8zM297 482.3h35v1.4h-35zM334.8 482.3h8.4v1.4h-8.4zM358.6 482.3h2.8v2.8h-2.8zM239.6 483.7h2.8v2.8h-2.8zM246.6 483.7h47.6v1.4h-47.6zM297 483.7h2.8v1.4h-2.8zM301.2 483.7h2.8v1.4h-2.8zM305.4 483.7h11.2v1.4h-11.2zM318 483.7h14v1.4h-14zM336.2 483.7h7v1.4h-7zM353 483.7h2.8v2.8h-2.8zM243.8 485.1h50.4v1.4h-50.4zM297 485.1h35v1.4h-35zM333.4 485.1h2.8v1.4h-2.8zM337.6 485.1h5.6v2.8h-5.6zM368.4 485.1h2.8v2.8h-2.8zM238.2 486.5h54.6v1.4h-54.6zM297 486.5h4.2v1.4h-4.2zM302.6 486.5h2.8v1.4h-2.8zM308.2 486.5h2.8v1.4h-2.8zM313.8 486.5h8.4v1.4h-8.4zM323.6 486.5h12.6v1.4h-12.6zM238.2 487.9h56v1.4h-56zM298.4 487.9h5.6v2.8h-5.6zM305.4 487.9h2.8v2.8h-2.8zM311 487.9h23.8v1.4h-23.8zM336.2 487.9h4.2v1.4h-4.2zM343.2 487.9h5.6v1.4h-5.6zM238.2 489.3h2.8v1.4h-2.8zM242.4 489.3h53.2v1.4h-53.2zM309.6 489.3h21v1.4h-21zM333.4 489.3h7v1.4h-7zM341.8 489.3h7v1.4h-7zM358.6 489.3h2.8v2.8h-2.8zM369.8 489.3h2.8v2.8h-2.8zM241 490.7h56v1.4h-56zM298.4 490.7h32.2v1.4h-32.2zM333.4 490.7h5.6v1.4h-5.6zM341.8 490.7h2.8v2.8h-2.8zM239.6 492.1h57.4v1.4h-57.4zM298.4 492.1h26.6v1.4h-26.6zM327.8 492.1h2.8v1.4h-2.8zM332 492.1h7v1.4h-7zM348.8 492.1h2.8v1.4h-2.8zM364.2 492.1h2.8v2.8h-2.8zM234 493.5h2.8v1.4h-2.8zM238.2 493.5h57.4v1.4h-57.4zM298.4 493.5h4.2v1.4h-4.2zM304 493.5h9.8v1.4h-9.8zM318 493.5h5.6v1.4h-5.6zM325 493.5h4.2v1.4h-4.2zM332 493.5h4.2v1.4h-4.2zM341.8 493.5h4.2v1.4h-4.2zM348.8 493.5h4.2v1.4h-4.2zM234 494.9h61.6v1.4h-61.6zM298.4 494.9h11.2v1.4h-11.2zM311 494.9h2.8v1.4h-2.8zM320.8 494.9h8.4v1.4h-8.4zM332 494.9h5.6v2.8h-5.6zM343.2 494.9h5.6v1.4h-5.6zM350.2 494.9h2.8v5.6h-2.8zM235.4 496.3h60.2v2.8h-60.2zM297 496.3h7v1.4h-7zM305.4 496.3h4.2v1.4h-4.2zM311 496.3h7v1.4h-7zM319.4 496.3h9.8v1.4h-9.8zM340.4 496.3h8.4v1.4h-8.4zM297 497.7h2.8v1.4h-2.8zM302.6 497.7h19.6v1.4h-19.6zM323.6 497.7h4.2v2.8h-4.2zM336.2 497.7h2.8v1.4h-2.8zM340.4 497.7h5.6v1.4h-5.6zM357.2 497.7h2.8v2.8h-2.8zM236.8 499.1h63v1.4h-63zM301.2 499.1h11.2v1.4h-11.2zM315.2 499.1h7v1.4h-7zM330.6 499.1h8.4v1.4h-8.4zM340.4 499.1h2.8v1.4h-2.8zM235.4 500.5h68.6v1.4h-68.6zM306.8 500.5h2.8v2.8h-2.8zM311 500.5h7v1.4h-7zM330.6 500.5h5.6v1.4h-5.6zM340.4 500.5h7v1.4h-7zM348.8 500.5h5.6v2.8h-5.6zM235.4 501.9h60.2v1.4h-60.2zM297 501.9h8.4v2.8h-8.4zM311 501.9h5.6v1.4h-5.6zM319.4 501.9h4.2v1.4h-4.2zM327.8 501.9h2.8v1.4h-2.8zM341.8 501.9h5.6v1.4h-5.6zM232.6 503.3h61.6v5.6h-61.6zM306.8 503.3h5.6v1.4h-5.6zM319.4 503.3h12.6v1.4h-12.6zM344.6 503.3h2.8v1.4h-2.8zM297 504.7h15.4v1.4h-15.4zM318 504.7h14v1.4h-14zM343.2 504.7h2.8v2.8h-2.8zM351.6 504.7h2.8v1.4h-2.8zM365.6 504.7h2.8v2.8h-2.8zM301.2 506.1h15.4v1.4h-15.4zM318 506.1h5.6v1.4h-5.6zM325 506.1h5.6v1.4h-5.6zM351.6 506.1h4.2v1.4h-4.2zM297 507.5h11.2v2.8h-11.2zM311 507.5h5.6v1.4h-5.6zM318 507.5h4.2v2.8h-4.2zM325 507.5h2.8v2.8h-2.8zM329.2 507.5h2.8v2.8h-2.8zM339 507.5h2.8v4.2h-2.8zM353 507.5h2.8v4.2h-2.8zM235.4 508.9h60.2v2.8h-60.2zM297 510.3h2.8v2.8h-2.8zM302.6 510.3h2.8v1.4h-2.8zM309.6 510.3h2.8v1.4h-2.8zM315.2 510.3h5.6v1.4h-5.6zM327.8 510.3h2.8v2.8h-2.8zM360 510.3h2.8v1.4h-2.8zM236.8 511.7h58.8v4.2h-58.8zM305.4 511.7h7v1.4h-7zM315.2 511.7h8.4v1.4h-8.4zM336.2 511.7h5.6v1.4h-5.6zM357.2 511.7h5.6v1.4h-5.6zM297 513.1h14v1.4h-14zM320.8 513.1h2.8v1.4h-2.8zM336.2 513.1h2.8v2.8h-2.8zM344.6 513.1h5.6v1.4h-5.6zM357.2 513.1h2.8v1.4h-2.8zM369.8 513.1h2.8v2.8h-2.8zM298.4 514.5h9.8v1.4h-9.8zM315.2 514.5h2.8v1.4h-2.8zM329.2 514.5h2.8v1.4h-2.8zM344.6 514.5h8.4v1.4h-8.4zM232.6 515.9h2.8v1.4h-2.8zM236.8 515.9h57.4v1.4h-57.4zM298.4 515.9h4.2v1.4h-4.2zM304 515.9h4.2v1.4h-4.2zM312.4 515.9h5.6v1.4h-5.6zM319.4 515.9h2.8v2.8h-2.8zM327.8 515.9h4.2v1.4h-4.2zM343.2 515.9h2.8v2.8h-2.8zM350.2 515.9h2.8v1.4h-2.8zM232.6 517.3h61.6v1.4h-61.6zM297 517.3h5.6v1.4h-5.6zM305.4 517.3h4.2v1.4h-4.2zM312.4 517.3h4.2v1.4h-4.2zM326.4 517.3h4.2v1.4h-4.2zM332 517.3h2.8v2.8h-2.8zM337.6 517.3h2.8v2.8h-2.8zM235.4 518.7h57.4v1.4h-57.4zM297 518.7h4.2v1.4h-4.2zM304 518.7h7v2.8h-7zM313.8 518.7h2.8v1.4h-2.8zM319.4 518.7h5.6v1.4h-5.6zM326.4 518.7h2.8v1.4h-2.8zM232.6 520.1h60.2v1.4h-60.2zM322.2 520.1h2.8v1.4h-2.8zM232.6 521.5h58.8v1.4h-58.8zM304 521.5h4.2v1.4h-4.2zM329.2 521.5h2.8v2.8h-2.8zM236.8 522.9h54.6v1.4h-54.6zM305.4 522.9h4.2v1.4h-4.2zM320.8 522.9h4.2v1.4h-4.2zM234 524.3h56v1.4h-56zM302.6 524.3h7v1.4h-7zM313.8 524.3h2.8v2.8h-2.8zM319.4 524.3h9.8v2.8h-9.8zM234 525.7h54.6v1.4h-54.6zM302.6 525.7h2.8v2.8h-2.8zM306.8 525.7h2.8v1.4h-2.8zM351.6 525.7h4.2v2.8h-4.2zM239.6 527.1h47.6v1.4h-47.6zM306.8 527.1h7v1.4h-7zM326.4 527.1h2.8v1.4h-2.8zM239.6 528.5h2.8v1.4h-2.8zM243.8 528.5h43.4v1.4h-43.4zM308.2 528.5h5.6v1.4h-5.6zM320.8 528.5h8.4v1.4h-8.4zM347.4 528.5h2.8v2.8h-2.8zM351.6 528.5h2.8v2.8h-2.8zM242.4 529.9h7v1.4h-7zM252.2 529.9h33.6v1.4h-33.6zM298.4 529.9h2.8v2.8h-2.8zM320.8 529.9h5.6v1.4h-5.6zM339 529.9h2.8v4.2h-2.8zM242.4 531.3h2.8v1.4h-2.8zM249.4 531.3h2.8v2.8h-2.8zM253.6 531.3h4.2v1.4h-4.2zM259.2 531.3h26.6v1.4h-26.6zM309.6 531.3h2.8v2.8h-2.8zM323.6 531.3h2.8v1.4h-2.8zM259.2 532.7h5.6v1.4h-5.6zM267.6 532.7h19.6v1.4h-19.6zM298.4 532.7h4.2v2.8h-4.2zM316.6 532.7h2.8v2.8h-2.8zM259.2 534.1h2.8v1.4h-2.8zM267.6 534.1h2.8v1.4h-2.8zM271.8 534.1h7v1.4h-7zM280.2 534.1h2.8v1.4h-2.8zM284.4 534.1h2.8v1.4h-2.8zM325 534.1h2.8v2.8h-2.8zM337.6 534.1h4.2v1.4h-4.2zM271.8 535.5h5.6v1.4h-5.6zM308.2 535.5h4.2v2.8h-4.2zM337.6 535.5h2.8v1.4h-2.8zM297 539.7h2.8v2.8h-2.8zM318 539.7h2.8v2.8h-2.8zM341.8 539.7h2.8v2.8h-2.8zM311 542.5h2.8v2.8h-2.8z"/>
<path fill="#3c6db6" d="M274.6 490.7h2.8v1.4h-2.8zM269 492.1h11.2v1.4h-11.2zM266.2 493.5h15.4v1.4h-15.4zM259.2 494.9h23.8v1.4h-23.8zM259.2 496.3h25.2v1.4h-25.2zM259.2 497.7h26.6v1.4h-26.6zM255 499.1h29.4v1.4h-29.4zM255 500.5h32.2v1.4h-32.2zM253.6 501.9h33.6v1.4h-33.6zM250.8 503.3h37.8v1.4h-37.8zM252.2 504.7h36.4v1.4h-36.4zM250.8 506.1h37.8v2.8h-37.8zM252.2 508.9h36.4v1.4h-36.4zM252.2 510.3h37.8v2.8h-37.8zM250.8 513.1h39.2v1.4h-39.2zM252.2 514.5h36.4v1.4h-36.4zM252.2 515.9h35v4.2h-35zM255 520.1h30.8v1.4h-30.8zM255 521.5h1.4v1.4h-1.4zM259.2 521.5h25.2v1.4h-25.2zM262 522.9h22.4v1.4h-22.4zM264.8 524.3h16.8v1.4h-16.8zM277.4 525.7h1.4v1.4h-1.4z"/>
<path fill="#4a9fd4" d="M267.6 493.5h9.8v1.4h-9.8zM264.8 494.9h16.8v1.4h-16.8zM260.6 496.3h22.4v1.4h-22.4zM259.2 497.7h25.2v1.4h-25.2zM257.8 499.1h26.6v1.4h-26.6zM256.4 500.5h29.4v1.4h-29.4zM255 501.9h32.2v1.4h-32.2zM253.6 503.3h33.6v1.4h-33.6zM252.2 504.7h35v1.4h-35zM252.2 506.1h36.4v4.2h-36.4zM252.2 510.3h35v1.4h-35zM252.2 511.7h36.4v1.4h-36.4zM252.2 513.1h35v1.4h-35zM256.4 514.5h30.8v1.4h-30.8zM255 515.9h32.2v2.8h-32.2zM253.6 518.7h32.2v1.4h-32.2zM257.8 520.1h28v1.4h-28zM259.2 521.5h25.2v1.4h-25.2zM263.4 522.9h18.2v1.4h-18.2zM264.8 524.3h14v1.4h-14z"/>
<path fill="#62c4e0" d="M271.8 493.5h2.8v1.4h-2.8zM266.2 494.9h8.4v1.4h-8.4zM278.8 494.9h1.4v1.4h-1.4zM262 496.3h1.4v1.4h-1.4zM264.8 496.3h18.2v1.4h-18.2zM260.6 497.7h22.4v1.4h-22.4zM259.2 499.1h23.8v1.4h-23.8zM259.2 500.5h25.2v1.4h-25.2zM256.4 501.9h29.4v1.4h-29.4zM255 503.3h32.2v1.4h-32.2zM253.6 504.7h33.6v1.4h-33.6zM252.2 506.1h35v2.8h-35zM253.6 508.9h33.6v1.4h-33.6zM253.6 510.3h32.2v1.4h-32.2zM253.6 511.7h33.6v1.4h-33.6zM256.4 513.1h30.8v1.4h-30.8zM257.8 514.5h29.4v1.4h-29.4zM257.8 515.9h28v1.4h-28zM256.4 517.3h29.4v1.4h-29.4zM255 518.7h30.8v1.4h-30.8zM259.2 520.1h25.2v1.4h-25.2zM262 521.5h21v1.4h-21zM264.8 522.9h14v1.4h-14zM266.2 524.3h5.6v1.4h-5.6zM274.6 524.3h1.4v1.4h-1.4zM277.4 524.3h1.4v1.4h-1.4z"/>
<path fill="#5fb878" d="M266.2 497.7h4.2v1.4h-4.2zM271.8 497.7h1.4v1.4h-1.4zM264.8 499.1h12.6v1.4h-12.6zM262 500.5h18.2v1.4h-18.2zM262 501.9h19.6v1.4h-19.6zM262 503.3h22.4v1.4h-22.4zM260.6 504.7h25.2v1.4h-25.2zM257.8 506.1h28v1.4h-28zM259.2 507.5h28v1.4h-28zM257.8 508.9h26.6v2.8h-26.6zM257.8 511.7h28v1.4h-28zM259.2 513.1h25.2v4.2h-25.2zM259.2 517.3h22.4v1.4h-22.4zM262 518.7h19.6v1.4h-19.6zM264.8 520.1h16.8v1.4h-16.8zM264.8 521.5h11.2v1.4h-11.2z"/>
<path fill="#6ab42d" d="M266.2 499.1h11.2v1.4h-11.2zM264.8 500.5h15.4v1.4h-15.4zM263.4 501.9h18.2v1.4h-18.2zM262 503.3h22.4v1.4h-22.4zM260.6 504.7h25.2v1.4h-25.2zM259.2 506.1h26.6v1.4h-26.6zM259.2 507.5h28v1.4h-28zM259.2 508.9h25.2v1.4h-25.2zM257.8 510.3h26.6v1.4h-26.6zM259.2 511.7h25.2v2.8h-25.2zM260.6 514.5h23.8v1.4h-23.8zM259.2 515.9h25.2v1.4h-25.2zM260.6 517.3h21v1.4h-21zM262 518.7h19.6v1.4h-19.6zM264.8 520.1h12.6v1.4h-12.6zM278.8 520.1h1.4v1.4h-1.4zM267.6 521.5h8.4v1.4h-8.4z"/>
<path fill="#b5d22b" d="M269 500.5h8.4v1.4h-8.4zM267.6 501.9h11.2v1.4h-11.2zM266.2 503.3h14v1.4h-14zM264.8 504.7h16.8v1.4h-16.8zM264.8 506.1h18.2v4.2h-18.2zM263.4 510.3h19.6v4.2h-19.6zM264.8 514.5h16.8v1.4h-16.8zM264.8 515.9h15.4v1.4h-15.4zM264.8 517.3h1.4v1.4h-1.4zM267.6 517.3h12.6v1.4h-12.6zM269 518.7h7v1.4h-7zM271.8 520.1h2.8v1.4h-2.8z"/>
<path fill="#f6e21c" d="M271.8 500.5h4.2v1.4h-4.2zM269 501.9h9.8v1.4h-9.8zM267.6 503.3h12.6v1.4h-12.6zM264.8 504.7h16.8v1.4h-16.8zM264.8 506.1h18.2v7h-18.2zM264.8 513.1h16.8v2.8h-16.8zM266.2 515.9h14v1.4h-14zM267.6 517.3h12.6v1.4h-12.6zM269 518.7h5.6v1.4h-5.6z"/>
<path fill="#f5a81e" d="M270.4 501.9h7v1.4h-7zM269 503.3h9.8v1.4h-9.8zM266.2 504.7h15.4v1.4h-15.4zM264.8 506.1h18.2v2.8h-18.2zM264.8 508.9h16.8v5.6h-16.8zM266.2 514.5h14v1.4h-14zM267.6 515.9h12.6v1.4h-12.6zM269 517.3h9.8v1.4h-9.8zM270.4 518.7h4.2v1.4h-4.2z"/>
<path fill="#ee6c1e" d="M270.4 501.9h7v1.4h-7zM270.4 503.3h8.4v1.4h-8.4zM267.6 504.7h12.6v1.4h-12.6zM266.2 506.1h15.4v4.2h-15.4zM264.8 510.3h16.8v2.8h-16.8zM266.2 513.1h15.4v1.4h-15.4zM267.6 514.5h12.6v2.8h-12.6zM270.4 517.3h7v1.4h-7zM270.4 518.7h2.8v1.4h-2.8z"/>
<path fill="#e1251b" d="M271.8 501.9h4.2v1.4h-4.2zM270.4 503.3h7v1.4h-7zM267.6 504.7h11.2v1.4h-11.2zM267.6 506.1h14v1.4h-14zM266.2 507.5h15.4v5.6h-15.4zM267.6 513.1h12.6v2.8h-12.6zM267.6 515.9h11.2v1.4h-11.2zM270.4 517.3h7v1.4h-7z"/>
</g>
<rect x="211.6" y="339.5" width="197.4" height="208.5" fill="none" stroke="#2a2a2e" stroke-width="1.3" />
<path d="M216.4 347.5H402.5V536.7H296.4V457H216.4Z M296.4 347.5V457" fill="none" stroke="#0c0c0c" stroke-width="1.15"/>
<line x1="296.4" y1="457" x2="402.5" y2="457" stroke="#0c0c0c" stroke-width="1.1" />
<path d="M211.6 358.7h-5.6M211.6 405.9h-5.6M211.6 456.5h-5.6M211.6 391.7h-3M211.6 441.3h-3M211.6 383.4h-3M211.6 432.4h-3M211.6 377.5h-3M211.6 426h-3M211.6 372.9h-3M211.6 421.1h-3M211.6 369.2h-3M211.6 417.1h-3M211.6 366h-3M211.6 413.7h-3M211.6 363.3h-3M211.6 410.8h-3M211.6 360.9h-3M211.6 408.2h-3M211.6 344.5h-3M211.6 500.6h-3M211.6 489.4h-3M211.6 481.6h-3M211.6 475.8h-3M211.6 471.1h-3M211.6 467.3h-3M211.6 464.1h-3M211.6 461.2h-3M211.6 458.7h-3M211.6 533.2h-3M211.6 544.4h-3M211.6 509h-3M211.6 506.6h-3M211.6 504.2h-3M211.6 524.8h-3M211.6 527.2h-3M211.6 529.6h-3" stroke="#1a1a1a" stroke-width="1" fill="none"/>
<path d="M211.6 523.2h-4.4M211.6 521.7h-4.4M211.6 520.1h-4.4M211.6 518.5h-4.4M211.6 516.9h-4.4M211.6 515.3h-4.4M211.6 513.7h-4.4M211.6 512.1h-4.4M211.6 510.6h-4.4M211.6 516.9h-5.5" stroke="#000" stroke-width="0.8" fill="none"/>
<text x="185.2" y="366.9" font-size="10.8" textLength="10.7" lengthAdjust="spacingAndGlyphs" fill="#111" stroke="#111" stroke-width="0.5">10</text>
<text x="198.4" y="358.9" font-size="10.8" textLength="5.4" lengthAdjust="spacingAndGlyphs" fill="#111" stroke="#111" stroke-width="0.5">5</text>
<text x="185.2" y="414.1" font-size="10.8" textLength="10.7" lengthAdjust="spacingAndGlyphs" fill="#111" stroke="#111" stroke-width="0.5">10</text>
<text x="198.4" y="406.1" font-size="10.8" textLength="5.4" lengthAdjust="spacingAndGlyphs" fill="#111" stroke="#111" stroke-width="0.5">4</text>
<text x="185.2" y="464.7" font-size="10.8" textLength="10.7" lengthAdjust="spacingAndGlyphs" fill="#111" stroke="#111" stroke-width="0.5">10</text>
<text x="198.4" y="456.7" font-size="10.8" textLength="5.4" lengthAdjust="spacingAndGlyphs" fill="#111" stroke="#111" stroke-width="0.5">3</text>
<text x="191.8" y="522.8" font-size="10.8" textLength="5.4" lengthAdjust="spacingAndGlyphs" fill="#111" stroke="#111" stroke-width="0.5">0</text>
<path d="M232.2 548v5.6M272 548v5.6M311.4 548v5.6M351.8 548v5.6M391.7 548v5.6M244.2 548v3M251.2 548v3M256.2 548v3M260 548v3M263.2 548v3M265.8 548v3M268.1 548v3M270.2 548v3M283.9 548v3M290.8 548v3M295.7 548v3M299.5 548v3M302.7 548v3M305.3 548v3M307.6 548v3M309.6 548v3M323.6 548v3M330.7 548v3M335.7 548v3M339.6 548v3M342.8 548v3M345.5 548v3M347.9 548v3M350 548v3M363.8 548v3M370.8 548v3M375.8 548v3M379.7 548v3M382.8 548v3M385.5 548v3M387.8 548v3M389.9 548v3M403.7 548v3M216.3 548v3M220.2 548v3M223.3 548v3M226 548v3M228.3 548v3M230.4 548v3" stroke="#1a1a1a" stroke-width="1" fill="none"/>
<text x="233" y="571.6" font-size="10.8" textLength="10.7" lengthAdjust="spacingAndGlyphs" fill="#111" stroke="#111" stroke-width="0.5">10</text>
<text x="246.2" y="563.6" font-size="10.8" textLength="5.4" lengthAdjust="spacingAndGlyphs" fill="#111" stroke="#111" stroke-width="0.5">1</text>
<text x="272.8" y="571.6" font-size="10.8" textLength="10.7" lengthAdjust="spacingAndGlyphs" fill="#111" stroke="#111" stroke-width="0.5">10</text>
<text x="286" y="563.6" font-size="10.8" textLength="5.4" lengthAdjust="spacingAndGlyphs" fill="#111" stroke="#111" stroke-width="0.5">2</text>
<text x="312.2" y="571.6" font-size="10.8" textLength="10.7" lengthAdjust="spacingAndGlyphs" fill="#111" stroke="#111" stroke-width="0.5">10</text>
<text x="325.4" y="563.6" font-size="10.8" textLength="5.4" lengthAdjust="spacingAndGlyphs" fill="#111" stroke="#111" stroke-width="0.5">3</text>
<text x="352.6" y="571.6" font-size="10.8" textLength="10.7" lengthAdjust="spacingAndGlyphs" fill="#111" stroke="#111" stroke-width="0.5">10</text>
<text x="365.8" y="563.6" font-size="10.8" textLength="5.4" lengthAdjust="spacingAndGlyphs" fill="#111" stroke="#111" stroke-width="0.5">4</text>
<text x="392.5" y="571.6" font-size="10.8" textLength="10.7" lengthAdjust="spacingAndGlyphs" fill="#111" stroke="#111" stroke-width="0.5">10</text>
<text x="405.7" y="563.6" font-size="10.8" textLength="5.4" lengthAdjust="spacingAndGlyphs" fill="#111" stroke="#111" stroke-width="0.5">5</text>
<text x="221.1" y="374.6" font-size="25.5" textLength="44" lengthAdjust="spacingAndGlyphs">1.40</text>
<text x="396.8" y="527.9" font-size="25.5" text-anchor="end" textLength="44" lengthAdjust="spacingAndGlyphs">2.27</text>
<g>
<path fill="#3654a6" d="M486.4 385h2.8v2.8h-2.8zM493.4 387.8h2.8v2.8h-2.8zM499 387.8h2.8v2.8h-2.8zM465.4 389.2h8.4v2.8h-8.4zM475.2 389.2h2.8v2.8h-2.8zM483.6 389.2h2.8v2.8h-2.8zM520 389.2h2.8v2.8h-2.8zM506 390.6h2.8v1.4h-2.8zM469.6 392h4.2v2.8h-4.2zM482.2 392h2.8v1.4h-2.8zM489.2 392h2.8v2.8h-2.8zM506 392h5.6v1.4h-5.6zM522.8 392h5.6v1.4h-5.6zM529.8 392h2.8v1.4h-2.8zM534 392h7v2.8h-7zM542.4 392h2.8v2.8h-2.8zM546.6 392h2.8v2.8h-2.8zM564.8 392h2.8v2.8h-2.8zM482.2 393.4h4.2v1.4h-4.2zM508.8 393.4h2.8v1.4h-2.8zM522.8 393.4h9.8v1.4h-9.8zM473.8 394.8h2.8v2.8h-2.8zM483.6 394.8h2.8v1.4h-2.8zM499 394.8h9.8v1.4h-9.8zM527 394.8h2.8v1.4h-2.8zM536.8 394.8h2.8v2.8h-2.8zM465.4 396.2h2.8v1.4h-2.8zM496.2 396.2h12.6v1.4h-12.6zM465.4 397.6h7v1.4h-7zM485 397.6h5.6v2.8h-5.6zM496.2 397.6h2.8v1.4h-2.8zM501.8 397.6h2.8v2.8h-2.8zM520 397.6h2.8v2.8h-2.8zM524.2 397.6h2.8v2.8h-2.8zM466.8 399h11.2v1.4h-11.2zM493.4 399h2.8v1.4h-2.8zM508.8 399h2.8v1.4h-2.8zM472.4 400.4h5.6v1.4h-5.6zM486.4 400.4h4.2v2.8h-4.2zM492 400.4h4.2v1.4h-4.2zM506 400.4h8.4v1.4h-8.4zM549.4 400.4h2.8v2.8h-2.8zM471 401.8h5.6v1.4h-5.6zM492 401.8h2.8v1.4h-2.8zM501.8 401.8h8.4v1.4h-8.4zM511.6 401.8h2.8v1.4h-2.8zM468.2 403.2h12.6v2.8h-12.6zM489.2 403.2h4.2v1.4h-4.2zM501.8 403.2h4.2v1.4h-4.2zM507.4 403.2h2.8v1.4h-2.8zM521.4 403.2h2.8v2.8h-2.8zM532.6 403.2h2.8v2.8h-2.8zM489.2 404.6h8.4v1.4h-8.4zM499 404.6h2.8v1.4h-2.8zM510.2 404.6h2.8v2.8h-2.8zM527 404.6h2.8v2.8h-2.8zM465.4 406h8.4v2.8h-8.4zM480.8 406h5.6v1.4h-5.6zM493.4 406h8.4v1.4h-8.4zM478 407.4h11.2v1.4h-11.2zM493.4 407.4h2.8v1.4h-2.8zM497.6 407.4h2.8v1.4h-2.8zM504.6 407.4h5.6v1.4h-5.6zM514.4 407.4h2.8v1.4h-2.8zM465.4 408.8h5.6v1.4h-5.6zM476.6 408.8h14v1.4h-14zM494.8 408.8h4.2v1.4h-4.2zM501.8 408.8h8.4v1.4h-8.4zM514.4 408.8h4.2v1.4h-4.2zM521.4 408.8h2.8v1.4h-2.8zM525.6 408.8h2.8v1.4h-2.8zM536.8 408.8h2.8v2.8h-2.8zM471 410.2h2.8v1.4h-2.8zM476.6 410.2h4.2v1.4h-4.2zM482.2 410.2h22.4v1.4h-22.4zM506 410.2h2.8v1.4h-2.8zM510.2 410.2h2.8v1.4h-2.8zM515.8 410.2h2.8v1.4h-2.8zM521.4 410.2h7v1.4h-7zM466.8 411.6h8.4v1.4h-8.4zM478 411.6h2.8v1.4h-2.8zM482.2 411.6h30.8v1.4h-30.8zM514.4 411.6h2.8v2.8h-2.8zM522.8 411.6h2.8v1.4h-2.8zM527 411.6h2.8v1.4h-2.8zM532.6 411.6h2.8v2.8h-2.8zM466.8 413h9.8v2.8h-9.8zM478 413h14v1.4h-14zM493.4 413h16.8v1.4h-16.8zM522.8 413h7v1.4h-7zM545.2 413h2.8v1.4h-2.8zM550.8 413h2.8v2.8h-2.8zM478 414.4h9.8v1.4h-9.8zM490.6 414.4h18.2v1.4h-18.2zM514.4 414.4h4.2v1.4h-4.2zM524.2 414.4h2.8v1.4h-2.8zM531.2 414.4h4.2v2.8h-4.2zM543.8 414.4h4.2v1.4h-4.2zM570.4 414.4h2.8v2.8h-2.8zM466.8 415.8h7v1.4h-7zM480.8 415.8h7v1.4h-7zM489.2 415.8h32.2v1.4h-32.2zM543.8 415.8h2.8v5.6h-2.8zM466.8 417.2h2.8v1.4h-2.8zM471 417.2h7v1.4h-7zM480.8 417.2h40.6v1.4h-40.6zM522.8 417.2h9.8v1.4h-9.8zM534 417.2h2.8v1.4h-2.8zM466.8 418.6h4.2v1.4h-4.2zM472.4 418.6h9.8v1.4h-9.8zM486.4 418.6h22.4v1.4h-22.4zM511.6 418.6h8.4v1.4h-8.4zM522.8 418.6h14v1.4h-14zM555 418.6h2.8v2.8h-2.8zM466.8 420h15.4v1.4h-15.4zM483.6 420h37.8v1.4h-37.8zM522.8 420h2.8v1.4h-2.8zM531.2 420h4.2v1.4h-4.2zM465.4 421.4h22.4v1.4h-22.4zM489.2 421.4h36.4v1.4h-36.4zM532.6 421.4h2.8v1.4h-2.8zM465.4 422.8h9.8v2.8h-9.8zM478 422.8h37.8v1.4h-37.8zM520 422.8h5.6v1.4h-5.6zM478 424.2h2.8v1.4h-2.8zM482.2 424.2h28v1.4h-28zM511.6 424.2h4.2v1.4h-4.2zM517.2 424.2h5.6v1.4h-5.6zM524.2 424.2h2.8v1.4h-2.8zM535.4 424.2h2.8v1.4h-2.8zM465.4 425.6h22.4v1.4h-22.4zM489.2 425.6h30.8v1.4h-30.8zM524.2 425.6h5.6v1.4h-5.6zM531.2 425.6h7v1.4h-7zM465.4 427h54.6v1.4h-54.6zM527 427h2.8v1.4h-2.8zM531.2 427h4.2v1.4h-4.2zM466.8 428.4h2.8v4.2h-2.8zM471 428.4h37.8v1.4h-37.8zM511.6 428.4h9.8v1.4h-9.8zM527 428.4h5.6v1.4h-5.6zM534 428.4h2.8v2.8h-2.8zM539.6 428.4h2.8v2.8h-2.8zM471 429.8h21v1.4h-21zM493.4 429.8h15.4v1.4h-15.4zM514.4 429.8h8.4v1.4h-8.4zM529.8 429.8h2.8v1.4h-2.8zM471 431.2h7v1.4h-7zM479.4 431.2h30.8v1.4h-30.8zM511.6 431.2h14v1.4h-14zM529.8 431.2h5.6v2.8h-5.6zM536.8 431.2h2.8v2.8h-2.8zM543.8 431.2h2.8v1.4h-2.8zM465.4 432.6h53.2v5.6h-53.2zM521.4 432.6h4.2v1.4h-4.2zM541 432.6h5.6v1.4h-5.6zM521.4 434h5.6v1.4h-5.6zM528.4 434h7v1.4h-7zM541 434h2.8v1.4h-2.8zM546.6 434h2.8v5.6h-2.8zM520 435.4h11.2v1.4h-11.2zM535.4 435.4h2.8v1.4h-2.8zM542.4 435.4h2.8v5.6h-2.8zM520 436.8h8.4v1.4h-8.4zM535.4 436.8h4.2v1.4h-4.2zM552.2 436.8h2.8v2.8h-2.8zM566.2 436.8h2.8v2.8h-2.8zM465.4 438.2h2.8v1.4h-2.8zM469.6 438.2h44.8v1.4h-44.8zM518.6 438.2h7v1.4h-7zM527 438.2h4.2v1.4h-4.2zM532.6 438.2h2.8v1.4h-2.8zM536.8 438.2h2.8v1.4h-2.8zM465.4 439.6h14v1.4h-14zM480.8 439.6h32.2v1.4h-32.2zM518.6 439.6h5.6v1.4h-5.6zM527 439.6h8.4v1.4h-8.4zM538.2 439.6h2.8v1.4h-2.8zM466.8 441h46.2v1.4h-46.2zM521.4 441h19.6v1.4h-19.6zM466.8 442.4h5.6v1.4h-5.6zM473.8 442.4h12.6v1.4h-12.6zM487.8 442.4h22.4v1.4h-22.4zM513 442.4h2.8v2.8h-2.8zM517.2 442.4h2.8v2.8h-2.8zM524.2 442.4h4.2v1.4h-4.2zM534 442.4h5.6v1.4h-5.6zM542.4 442.4h2.8v1.4h-2.8zM466.8 443.8h12.6v1.4h-12.6zM482.2 443.8h8.4v1.4h-8.4zM492 443.8h18.2v1.4h-18.2zM521.4 443.8h8.4v1.4h-8.4zM542.4 443.8h4.2v1.4h-4.2zM552.2 443.8h2.8v2.8h-2.8zM465.4 445.2h14v2.8h-14zM480.8 445.2h32.2v1.4h-32.2zM521.4 445.2h2.8v2.8h-2.8zM525.6 445.2h4.2v1.4h-4.2zM532.6 445.2h2.8v1.4h-2.8zM538.2 445.2h2.8v1.4h-2.8zM543.8 445.2h5.6v1.4h-5.6zM480.8 446.6h12.6v1.4h-12.6zM496.2 446.6h7v1.4h-7zM504.6 446.6h2.8v1.4h-2.8zM510.2 446.6h2.8v1.4h-2.8zM514.4 446.6h2.8v1.4h-2.8zM525.6 446.6h15.4v1.4h-15.4zM542.4 446.6h2.8v1.4h-2.8zM546.6 446.6h2.8v1.4h-2.8zM556.4 446.6h2.8v2.8h-2.8zM466.8 448h11.2v1.4h-11.2zM482.2 448h25.2v1.4h-25.2zM514.4 448h5.6v2.8h-5.6zM521.4 448h12.6v1.4h-12.6zM535.4 448h2.8v1.4h-2.8zM539.6 448h5.6v1.4h-5.6zM466.8 449.4h12.6v1.4h-12.6zM480.8 449.4h7v1.4h-7zM489.2 449.4h15.4v1.4h-15.4zM524.2 449.4h5.6v1.4h-5.6zM539.6 449.4h2.8v1.4h-2.8zM465.4 450.8h39.2v1.4h-39.2zM508.8 450.8h2.8v2.8h-2.8zM514.4 450.8h4.2v1.4h-4.2zM520 450.8h2.8v1.4h-2.8zM527 450.8h5.6v2.8h-5.6zM465.4 452.2h37.8v1.4h-37.8zM504.6 452.2h2.8v1.4h-2.8zM515.8 452.2h2.8v2.8h-2.8zM520 452.2h5.6v1.4h-5.6zM465.4 453.6h19.6v1.4h-19.6zM486.4 453.6h26.6v1.4h-26.6zM521.4 453.6h4.2v1.4h-4.2zM529.8 453.6h2.8v1.4h-2.8zM574.6 453.6h2.8v2.8h-2.8zM465.4 455h8.4v1.4h-8.4zM475.2 455h37.8v1.4h-37.8zM521.4 455h2.8v1.4h-2.8zM527 455h2.8v2.8h-2.8zM468.2 456.4h5.6v1.4h-5.6zM475.2 456.4h2.8v1.4h-2.8zM479.4 456.4h37.8v1.4h-37.8zM531.2 456.4h2.8v2.8h-2.8zM466.8 457.8h5.6v1.4h-5.6zM475.2 457.8h16.8v1.4h-16.8zM493.4 457.8h16.8v1.4h-16.8zM513 457.8h4.2v1.4h-4.2zM525.6 457.8h2.8v2.8h-2.8zM465.4 459.2h4.2v1.4h-4.2zM475.2 459.2h18.2v1.4h-18.2zM496.2 459.2h2.8v1.4h-2.8zM500.4 459.2h2.8v1.4h-2.8zM506 459.2h7v1.4h-7zM520 459.2h2.8v2.8h-2.8zM532.6 459.2h2.8v4.2h-2.8zM465.4 460.6h8.4v1.4h-8.4zM476.6 460.6h9.8v1.4h-9.8zM490.6 460.6h7v2.8h-7zM499 460.6h2.8v2.8h-2.8zM503.2 460.6h12.6v2.8h-12.6zM465.4 462h9.8v1.4h-9.8zM486.4 462h2.8v1.4h-2.8zM541 462h2.8v2.8h-2.8zM465.4 463.4h5.6v1.4h-5.6zM472.4 463.4h4.2v2.8h-4.2zM479.4 463.4h5.6v2.8h-5.6zM486.4 463.4h9.8v1.4h-9.8zM499 463.4h15.4v1.4h-15.4zM522.8 463.4h2.8v1.4h-2.8zM527 463.4h2.8v1.4h-2.8zM466.8 464.8h4.2v2.8h-4.2zM487.8 464.8h29.4v1.4h-29.4zM522.8 464.8h7v1.4h-7zM472.4 466.2h5.6v1.4h-5.6zM482.2 466.2h2.8v2.8h-2.8zM487.8 466.2h14v1.4h-14zM504.6 466.2h5.6v1.4h-5.6zM511.6 466.2h5.6v1.4h-5.6zM522.8 466.2h5.6v1.4h-5.6zM542.4 466.2h2.8v2.8h-2.8zM466.8 467.6h11.2v1.4h-11.2zM487.8 467.6h32.2v1.4h-32.2zM525.6 467.6h2.8v1.4h-2.8zM531.2 467.6h2.8v2.8h-2.8zM553.6 467.6h2.8v1.4h-2.8zM468.2 469h9.8v1.4h-9.8zM483.6 469h2.8v1.4h-2.8zM487.8 469h21v1.4h-21zM510.2 469h9.8v1.4h-9.8zM553.6 469h4.2v1.4h-4.2zM469.6 470.4h2.8v1.4h-2.8zM476.6 470.4h2.8v1.4h-2.8zM483.6 470.4h33.6v1.4h-33.6zM529.8 470.4h2.8v1.4h-2.8zM546.6 470.4h2.8v2.8h-2.8zM555 470.4h2.8v1.4h-2.8zM468.2 471.8h4.2v1.4h-4.2zM476.6 471.8h7v1.4h-7zM486.4 471.8h30.8v1.4h-30.8zM518.6 471.8h2.8v2.8h-2.8zM528.4 471.8h4.2v1.4h-4.2zM465.4 473.2h5.6v1.4h-5.6zM479.4 473.2h32.2v1.4h-32.2zM514.4 473.2h2.8v1.4h-2.8zM525.6 473.2h8.4v1.4h-8.4zM543.8 473.2h2.8v2.8h-2.8zM465.4 474.6h12.6v1.4h-12.6zM480.8 474.6h30.8v1.4h-30.8zM513 474.6h2.8v1.4h-2.8zM522.8 474.6h5.6v1.4h-5.6zM529.8 474.6h4.2v1.4h-4.2zM538.2 474.6h2.8v1.4h-2.8zM466.8 476h12.6v1.4h-12.6zM480.8 476h36.4v1.4h-36.4zM522.8 476h2.8v4.2h-2.8zM529.8 476h2.8v2.8h-2.8zM538.2 476h4.2v1.4h-4.2zM469.6 477.4h4.2v1.4h-4.2zM476.6 477.4h2.8v1.4h-2.8zM483.6 477.4h29.4v1.4h-29.4zM514.4 477.4h2.8v1.4h-2.8zM536.8 477.4h5.6v1.4h-5.6zM549.4 477.4h2.8v2.8h-2.8zM468.2 478.8h4.2v1.4h-4.2zM479.4 478.8h2.8v1.4h-2.8zM485 478.8h32.2v1.4h-32.2zM528.4 478.8h5.6v1.4h-5.6zM536.8 478.8h2.8v1.4h-2.8zM543.8 478.8h2.8v2.8h-2.8zM465.4 480.2h7v1.4h-7zM475.2 480.2h2.8v1.4h-2.8zM479.4 480.2h37.8v1.4h-37.8zM521.4 480.2h2.8v2.8h-2.8zM527 480.2h7v1.4h-7zM465.4 481.6h4.2v2.8h-4.2zM475.2 481.6h5.6v1.4h-5.6zM482.2 481.6h37.8v4.2h-37.8zM527 481.6h4.2v1.4h-4.2zM478 483h2.8v1.4h-2.8zM524.2 483h2.8v1.4h-2.8zM545.2 483h2.8v2.8h-2.8zM466.8 484.4h5.6v2.8h-5.6zM524.2 484.4h4.2v1.4h-4.2zM482.2 485.8h36.4v1.4h-36.4zM525.6 485.8h2.8v1.4h-2.8zM471 487.2h2.8v1.4h-2.8zM482.2 487.2h37.8v1.4h-37.8zM524.2 487.2h2.8v2.8h-2.8zM466.8 488.6h7v1.4h-7zM479.4 488.6h42v2.8h-42zM543.8 488.6h2.8v2.8h-2.8zM466.8 490h4.2v1.4h-4.2zM522.8 490h2.8v2.8h-2.8zM468.2 491.4h5.6v1.4h-5.6zM480.8 491.4h40.6v1.4h-40.6zM465.4 492.8h2.8v1.4h-2.8zM471 492.8h2.8v1.4h-2.8zM478 492.8h43.4v1.4h-43.4zM524.2 492.8h2.8v2.8h-2.8zM465.4 494.2h8.4v1.4h-8.4zM476.6 494.2h44.8v2.8h-44.8zM468.2 495.6h4.2v1.4h-4.2zM465.4 497h2.8v2.8h-2.8zM479.4 497h42v1.4h-42zM479.4 498.4h43.4v2.8h-43.4zM465.4 501.2h2.8v2.8h-2.8zM476.6 501.2h44.8v1.4h-44.8zM476.6 502.6h46.2v1.4h-46.2zM468.2 504h5.6v1.4h-5.6zM478 504h44.8v1.4h-44.8zM606.8 504h2.8v2.8h-2.8zM466.8 505.4h7v1.4h-7zM478 505.4h43.4v1.4h-43.4zM466.8 506.8h5.6v1.4h-5.6zM476.6 506.8h46.2v1.4h-46.2zM549.4 506.8h2.8v2.8h-2.8zM469.6 508.2h2.8v1.4h-2.8zM476.6 508.2h47.6v2.8h-47.6zM536.8 508.2h2.8v2.8h-2.8zM471 509.6h2.8v4.2h-2.8zM466.8 511h2.8v2.8h-2.8zM476.6 511h46.2v2.8h-46.2zM465.4 513.8h2.8v2.8h-2.8zM478 513.8h44.8v1.4h-44.8zM548 513.8h2.8v2.8h-2.8zM476.6 515.2h46.2v4.2h-46.2zM469.6 519.4h2.8v2.8h-2.8zM478 519.4h42v2.8h-42zM478 522.2h40.6v5.6h-40.6zM564.8 523.6h2.8v2.8h-2.8zM476.6 527.8h2.8v1.4h-2.8zM480.8 527.8h36.4v1.4h-36.4zM476.6 529.2h39.2v1.4h-39.2zM479.4 530.6h36.4v1.4h-36.4zM482.2 532h33.6v1.4h-33.6zM482.2 533.4h30.8v1.4h-30.8zM483.6 534.8h25.2v1.4h-25.2zM532.6 534.8h2.8v2.8h-2.8zM486.4 536.2h22.4v1.4h-22.4zM487.8 537.6h7v1.4h-7zM496.2 537.6h7v1.4h-7zM506 537.6h2.8v1.4h-2.8zM492 539h2.8v1.4h-2.8zM529.8 539h2.8v2.8h-2.8zM473.8 540.4h2.8v2.8h-2.8zM492 543.2h2.8v2.8h-2.8z"/>
<path fill="#3c6db6" d="M494.8 492.8h1.4v1.4h-1.4zM497.6 492.8h1.4v1.4h-1.4zM500.4 492.8h1.4v1.4h-1.4zM493.4 494.2h9.8v1.4h-9.8zM492 495.6h12.6v1.4h-12.6zM489.2 497h16.8v1.4h-16.8zM487.8 498.4h21v1.4h-21zM489.2 499.8h19.6v1.4h-19.6zM487.8 501.2h21v1.4h-21zM486.4 502.6h22.4v1.4h-22.4zM486.4 504h23.8v1.4h-23.8zM485 505.4h25.2v1.4h-25.2zM485 506.8h26.6v2.8h-26.6zM483.6 509.6h28v2.8h-28zM483.6 512.4h29.4v1.4h-29.4zM485 513.8h26.6v9.8h-26.6zM486.4 523.6h23.8v1.4h-23.8zM487.8 525h22.4v1.4h-22.4zM489.2 526.4h18.2v1.4h-18.2zM490.6 527.8h16.8v1.4h-16.8zM493.4 529.2h11.2v1.4h-11.2zM494.8 530.6h7v1.4h-7zM497.6 532h2.8v1.4h-2.8z"/>
<path fill="#4a9fd4" d="M494.8 494.2h1.4v1.4h-1.4zM494.8 495.6h5.6v1.4h-5.6zM492 497h9.8v1.4h-9.8zM492 498.4h15.4v1.4h-15.4zM490.6 499.8h18.2v1.4h-18.2zM489.2 501.2h19.6v1.4h-19.6zM487.8 502.6h21v1.4h-21zM486.4 504h22.4v1.4h-22.4zM486.4 505.4h23.8v2.8h-23.8zM485 508.2h25.2v1.4h-25.2zM485 509.6h26.6v4.2h-26.6zM485 513.8h25.2v1.4h-25.2zM486.4 515.2h25.2v4.2h-25.2zM485 519.4h25.2v2.8h-25.2zM486.4 522.2h23.8v1.4h-23.8zM486.4 523.6h22.4v1.4h-22.4zM489.2 525h16.8v1.4h-16.8zM490.6 526.4h15.4v1.4h-15.4zM493.4 527.8h11.2v1.4h-11.2zM494.8 529.2h5.6v1.4h-5.6zM497.6 530.6h1.4v1.4h-1.4z"/>
<path fill="#62c4e0" d="M494.8 495.6h2.8v1.4h-2.8zM494.8 497h4.2v1.4h-4.2zM494.8 498.4h7v1.4h-7zM492 499.8h14v1.4h-14zM490.6 501.2h15.4v1.4h-15.4zM489.2 502.6h16.8v1.4h-16.8zM487.8 504h18.2v1.4h-18.2zM487.8 505.4h19.6v2.8h-19.6zM486.4 508.2h21v1.4h-21zM486.4 509.6h22.4v2.8h-22.4zM486.4 512.4h23.8v1.4h-23.8zM486.4 513.8h22.4v1.4h-22.4zM486.4 515.2h23.8v5.6h-23.8zM486.4 520.8h22.4v1.4h-22.4zM486.4 522.2h21v1.4h-21zM489.2 523.6h16.8v1.4h-16.8zM490.6 525h14v1.4h-14zM492 526.4h11.2v1.4h-11.2zM493.4 527.8h8.4v1.4h-8.4zM494.8 529.2h4.2v1.4h-4.2z"/>
<path fill="#5fb878" d="M493.4 501.2h9.8v1.4h-9.8zM493.4 502.6h11.2v1.4h-11.2zM490.6 504h14v1.4h-14zM490.6 505.4h15.4v1.4h-15.4zM489.2 506.8h16.8v4.2h-16.8zM487.8 511h18.2v1.4h-18.2zM486.4 512.4h21v1.4h-21zM487.8 513.8h19.6v2.8h-19.6zM487.8 516.6h21v1.4h-21zM487.8 518h19.6v1.4h-19.6zM489.2 519.4h16.8v2.8h-16.8zM490.6 522.2h14v1.4h-14zM492 523.6h11.2v1.4h-11.2zM493.4 525h8.4v1.4h-8.4zM494.8 526.4h5.6v1.4h-5.6z"/>
<path fill="#6ab42d" d="M499 501.2h1.4v1.4h-1.4zM493.4 502.6h9.8v1.4h-9.8zM493.4 504h11.2v1.4h-11.2zM492 505.4h12.6v1.4h-12.6zM490.6 506.8h14v2.8h-14zM489.2 509.6h16.8v2.8h-16.8zM487.8 512.4h18.2v1.4h-18.2zM487.8 513.8h19.6v1.4h-19.6zM489.2 515.2h18.2v2.8h-18.2zM489.2 518h16.8v1.4h-16.8zM490.6 519.4h15.4v1.4h-15.4zM490.6 520.8h14v1.4h-14zM492 522.2h11.2v1.4h-11.2zM493.4 523.6h8.4v1.4h-8.4zM494.8 525h5.6v1.4h-5.6z"/>
<path fill="#b5d22b" d="M496.2 504h4.2v1.4h-4.2zM494.8 505.4h7v1.4h-7zM493.4 506.8h9.8v1.4h-9.8zM492 508.2h11.2v4.2h-11.2zM492 512.4h12.6v5.6h-12.6zM492 518h11.2v1.4h-11.2zM493.4 519.4h9.8v1.4h-9.8zM493.4 520.8h8.4v1.4h-8.4zM496.2 522.2h4.2v1.4h-4.2z"/>
<path fill="#f6e21c" d="M496.2 505.4h4.2v1.4h-4.2zM494.8 506.8h7v1.4h-7zM493.4 508.2h9.8v2.8h-9.8zM492 511h11.2v4.2h-11.2zM493.4 515.2h9.8v4.2h-9.8zM494.8 519.4h7v1.4h-7zM494.8 520.8h5.6v1.4h-5.6z"/>
<path fill="#f5a81e" d="M494.8 506.8h5.6v1.4h-5.6zM494.8 508.2h7v1.4h-7zM493.4 509.6h8.4v1.4h-8.4zM493.4 511h9.8v7h-9.8zM493.4 518h8.4v1.4h-8.4zM494.8 519.4h7v1.4h-7z"/>
<path fill="#ee6c1e" d="M496.2 506.8h4.2v1.4h-4.2zM494.8 508.2h7v2.8h-7zM493.4 511h8.4v2.8h-8.4zM493.4 513.8h9.8v4.2h-9.8zM494.8 518h7v1.4h-7zM496.2 519.4h4.2v1.4h-4.2z"/>
<path fill="#e1251b" d="M496.2 506.8h1.4v1.4h-1.4zM494.8 508.2h5.6v1.4h-5.6zM494.8 509.6h7v2.8h-7zM493.4 512.4h8.4v1.4h-8.4zM493.4 513.8h9.8v1.4h-9.8zM493.4 515.2h8.4v1.4h-8.4zM494.8 516.6h7v1.4h-7zM494.8 518h5.6v1.4h-5.6zM497.6 519.4h1.4v1.4h-1.4z"/>
</g>
<rect x="464" y="343" width="197.5" height="208.4" fill="none" stroke="#2a2a2e" stroke-width="1.3" />
<rect x="520.9" y="349.9" width="132.8" height="189.6" fill="none" stroke="#0c0c0c" stroke-width="1.1" />
<path d="M464 362.2h-5.6M464 409.4h-5.6M464 460h-5.6M464 395.2h-3M464 444.8h-3M464 386.9h-3M464 435.9h-3M464 381h-3M464 429.5h-3M464 376.4h-3M464 424.6h-3M464 372.7h-3M464 420.6h-3M464 369.5h-3M464 417.2h-3M464 366.8h-3M464 414.3h-3M464 364.4h-3M464 411.7h-3M464 348h-3M464 504.1h-3M464 492.9h-3M464 485.1h-3M464 479.3h-3M464 474.6h-3M464 470.8h-3M464 467.6h-3M464 464.7h-3M464 462.2h-3M464 536.7h-3M464 547.9h-3M464 512.5h-3M464 510.1h-3M464 507.7h-3M464 528.3h-3M464 530.7h-3M464 533.1h-3" stroke="#1a1a1a" stroke-width="1" fill="none"/>
<path d="M464 526.7h-4.4M464 525.2h-4.4M464 523.6h-4.4M464 522h-4.4M464 520.4h-4.4M464 518.8h-4.4M464 517.2h-4.4M464 515.6h-4.4M464 514.1h-4.4M464 520.4h-5.5" stroke="#000" stroke-width="0.8" fill="none"/>
<text x="437.6" y="370.4" font-size="10.8" textLength="10.7" lengthAdjust="spacingAndGlyphs" fill="#111" stroke="#111" stroke-width="0.5">10</text>
<text x="450.8" y="362.4" font-size="10.8" textLength="5.4" lengthAdjust="spacingAndGlyphs" fill="#111" stroke="#111" stroke-width="0.5">5</text>
<text x="437.6" y="417.6" font-size="10.8" textLength="10.7" lengthAdjust="spacingAndGlyphs" fill="#111" stroke="#111" stroke-width="0.5">10</text>
<text x="450.8" y="409.6" font-size="10.8" textLength="5.4" lengthAdjust="spacingAndGlyphs" fill="#111" stroke="#111" stroke-width="0.5">4</text>
<text x="437.6" y="468.2" font-size="10.8" textLength="10.7" lengthAdjust="spacingAndGlyphs" fill="#111" stroke="#111" stroke-width="0.5">10</text>
<text x="450.8" y="460.2" font-size="10.8" textLength="5.4" lengthAdjust="spacingAndGlyphs" fill="#111" stroke="#111" stroke-width="0.5">3</text>
<text x="444.2" y="526.3" font-size="10.8" textLength="5.4" lengthAdjust="spacingAndGlyphs" fill="#111" stroke="#111" stroke-width="0.5">0</text>
<path d="M547.3 551.4v5.6M597 551.4v5.6M642 551.4v5.6M562.3 551.4v3M610.5 551.4v3M571 551.4v3M618.5 551.4v3M577.2 551.4v3M624.1 551.4v3M582 551.4v3M628.5 551.4v3M586 551.4v3M632 551.4v3M589.3 551.4v3M635 551.4v3M592.2 551.4v3M637.6 551.4v3M594.7 551.4v3M639.9 551.4v3M655.5 551.4v3M508.8 551.4v3M518.1 551.4v3M524.8 551.4v3M529.9 551.4v3M534.1 551.4v3M537.5 551.4v3M540.4 551.4v3M543 551.4v3M545.3 551.4v3M484.4 551.4v3M475.1 551.4v3M468.4 551.4v3M502.4 551.4v3M504.2 551.4v3M506 551.4v3M490.8 551.4v3M489 551.4v3M487.2 551.4v3" stroke="#1a1a1a" stroke-width="1" fill="none"/>
<path d="M492 551.4v4.4M493.1 551.4v4.4M494.3 551.4v4.4M495.4 551.4v4.4M496.6 551.4v4.4M497.8 551.4v4.4M498.9 551.4v4.4M500.1 551.4v4.4M501.2 551.4v4.4M496.6 551.4v5.5" stroke="#000" stroke-width="0.8" fill="none"/>
<text x="499.6" y="575.2" font-size="10.8" textLength="5.4" lengthAdjust="spacingAndGlyphs" fill="#111" stroke="#111" stroke-width="0.5">0</text>
<text x="548.1" y="575.2" font-size="10.8" textLength="10.7" lengthAdjust="spacingAndGlyphs" fill="#111" stroke="#111" stroke-width="0.5">10</text>
<text x="561.3" y="567.2" font-size="10.8" textLength="5.4" lengthAdjust="spacingAndGlyphs" fill="#111" stroke="#111" stroke-width="0.5">3</text>
<text x="597.8" y="575.2" font-size="10.8" textLength="10.7" lengthAdjust="spacingAndGlyphs" fill="#111" stroke="#111" stroke-width="0.5">10</text>
<text x="611" y="567.2" font-size="10.8" textLength="5.4" lengthAdjust="spacingAndGlyphs" fill="#111" stroke="#111" stroke-width="0.5">4</text>
<text x="642.8" y="575.2" font-size="10.8" textLength="10.7" lengthAdjust="spacingAndGlyphs" fill="#111" stroke="#111" stroke-width="0.5">10</text>
<text x="656" y="567.2" font-size="10.8" textLength="5.4" lengthAdjust="spacingAndGlyphs" fill="#111" stroke="#111" stroke-width="0.5">5</text>
<text x="648.6" y="532.9" font-size="25.5" text-anchor="end" textLength="44" lengthAdjust="spacingAndGlyphs">0.34</text>
<g>
<path fill="#3654a6" d="M820 204.4h2.8v2.8h-2.8zM807.4 207.2h2.8v2.8h-2.8zM811.6 210h2.8v2.8h-2.8zM807.4 212.8h2.8v1.4h-2.8zM813 212.8h4.2v1.4h-4.2zM807.4 214.2h9.8v1.4h-9.8zM799 215.6h2.8v1.4h-2.8zM803.2 215.6h2.8v1.4h-2.8zM807.4 215.6h11.2v1.4h-11.2zM787.8 217h5.6v2.8h-5.6zM794.8 217h2.8v2.8h-2.8zM799 217h21v1.4h-21zM801.8 218.4h21v1.4h-21zM800.4 219.8h22.4v1.4h-22.4zM800.4 221.2h25.2v1.4h-25.2zM831.2 221.2h2.8v2.8h-2.8zM797.6 222.6h28v4.2h-28zM832.6 224h2.8v2.8h-2.8zM789.2 226.8h4.2v1.4h-4.2zM794.8 226.8h32.2v1.4h-32.2zM789.2 228.2h37.8v2.8h-37.8zM779.4 229.6h2.8v2.8h-2.8zM787.8 231h39.2v1.4h-39.2zM785 232.4h42v2.8h-42zM783.6 235.2h43.4v1.4h-43.4zM775.2 236.6h2.8v2.8h-2.8zM779.4 236.6h47.6v2.8h-47.6zM778 239.4h49v1.4h-49zM776.6 240.8h53.2v1.4h-53.2zM776.6 242.2h54.6v1.4h-54.6zM778 243.6h53.2v1.4h-53.2zM778 245h51.8v2.8h-51.8zM776.6 247.8h53.2v1.4h-53.2zM775.2 249.2h54.6v2.8h-54.6zM771 250.6h2.8v2.8h-2.8zM776.6 252h53.2v2.8h-53.2zM775.2 254.8h54.6v1.4h-54.6zM775.2 256.2h51.8v1.4h-51.8zM775.2 257.6h54.6v2.8h-54.6zM773.8 260.4h56v1.4h-56zM773.8 261.8h54.6v4.2h-54.6zM775.2 266h53.2v2.8h-53.2zM775.2 268.8h51.8v1.4h-51.8zM773.8 270.2h54.6v2.8h-54.6zM775.2 273h53.2v1.4h-53.2zM775.2 274.4h51.8v1.4h-51.8zM775.2 275.8h49v1.4h-49zM778 277.2h46.2v1.4h-46.2zM779.4 278.6h43.4v1.4h-43.4zM778 280h44.8v1.4h-44.8zM778 281.4h2.8v1.4h-2.8zM782.2 281.4h40.6v1.4h-40.6zM789.2 282.8h2.8v1.4h-2.8zM793.4 282.8h28v1.4h-28zM793.4 284.2h26.6v1.4h-26.6zM801.8 285.6h2.8v1.4h-2.8zM807.4 285.6h12.6v1.4h-12.6zM821.4 288.4h2.8v2.8h-2.8z"/>
<path fill="#3c6db6" d="M801.8 243.6h8.4v1.4h-8.4zM800.4 245h18.2v1.4h-18.2zM794.8 246.4h25.2v1.4h-25.2zM793.4 247.8h26.6v1.4h-26.6zM789.2 249.2h1.4v1.4h-1.4zM792 249.2h30.8v1.4h-30.8zM786.4 250.6h33.6v1.4h-33.6zM789.2 252h1.4v1.4h-1.4zM792 252h30.8v1.4h-30.8zM789.2 253.4h35v2.8h-35zM787.8 256.2h36.4v1.4h-36.4zM789.2 257.6h35v1.4h-35zM787.8 259h36.4v1.4h-36.4zM787.8 260.4h35v1.4h-35zM785 261.8h39.2v1.4h-39.2zM786.4 263.2h37.8v1.4h-37.8zM785 264.6h39.2v1.4h-39.2zM786.4 266h36.4v1.4h-36.4zM786.4 267.4h1.4v1.4h-1.4zM789.2 267.4h33.6v2.8h-33.6zM792 270.2h30.8v1.4h-30.8zM793.4 271.6h28v1.4h-28zM794.8 273h23.8v1.4h-23.8zM794.8 274.4h21v1.4h-21zM797.6 275.8h2.8v1.4h-2.8zM806 275.8h9.8v1.4h-9.8zM808.8 277.2h1.4v1.4h-1.4z"/>
<path fill="#4a9fd4" d="M801.8 245h7v1.4h-7zM800.4 246.4h16.8v1.4h-16.8zM794.8 247.8h1.4v1.4h-1.4zM799 247.8h18.2v1.4h-18.2zM794.8 249.2h23.8v1.4h-23.8zM794.8 250.6h25.2v1.4h-25.2zM793.4 252h26.6v1.4h-26.6zM790.6 253.4h29.4v1.4h-29.4zM821.4 253.4h1.4v1.4h-1.4zM789.2 254.8h33.6v1.4h-33.6zM789.2 256.2h35v1.4h-35zM790.6 257.6h33.6v1.4h-33.6zM789.2 259h35v1.4h-35zM789.2 260.4h33.6v1.4h-33.6zM786.4 261.8h36.4v4.2h-36.4zM789.2 266h33.6v1.4h-33.6zM792 267.4h30.8v1.4h-30.8zM792 268.8h29.4v2.8h-29.4zM794.8 271.6h23.8v1.4h-23.8zM796.2 273h21v1.4h-21zM796.2 274.4h1.4v1.4h-1.4zM799 274.4h1.4v1.4h-1.4zM801.8 274.4h1.4v1.4h-1.4zM804.6 274.4h11.2v1.4h-11.2zM807.4 275.8h8.4v1.4h-8.4z"/>
<path fill="#62c4e0" d="M801.8 246.4h12.6v1.4h-12.6zM801.8 247.8h15.4v1.4h-15.4zM796.2 249.2h21v1.4h-21zM794.8 250.6h22.4v1.4h-22.4zM794.8 252h25.2v1.4h-25.2zM793.4 253.4h26.6v1.4h-26.6zM792 254.8h30.8v1.4h-30.8zM790.6 256.2h32.2v7h-32.2zM789.2 263.2h33.6v2.8h-33.6zM790.6 266h32.2v1.4h-32.2zM793.4 267.4h28v4.2h-28zM794.8 271.6h23.8v1.4h-23.8zM796.2 273h19.6v1.4h-19.6zM804.6 274.4h9.8v1.4h-9.8zM807.4 275.8h4.2v1.4h-4.2z"/>
<path fill="#5fb878" d="M806 249.2h2.8v1.4h-2.8zM801.8 250.6h8.4v1.4h-8.4zM811.6 250.6h4.2v1.4h-4.2zM800.4 252h15.4v1.4h-15.4zM797.6 253.4h21v1.4h-21zM794.8 254.8h25.2v1.4h-25.2zM794.8 256.2h26.6v2.8h-26.6zM794.8 259h28v1.4h-28zM793.4 260.4h28v4.2h-28zM794.8 264.6h26.6v2.8h-26.6zM796.2 267.4h25.2v1.4h-25.2zM797.6 268.8h22.4v1.4h-22.4zM799 270.2h19.6v1.4h-19.6zM801.8 271.6h12.6v1.4h-12.6zM804.6 273h8.4v1.4h-8.4z"/>
<path fill="#6ab42d" d="M803.2 250.6h7v1.4h-7zM801.8 252h14v1.4h-14zM799 253.4h18.2v1.4h-18.2zM796.2 254.8h22.4v1.4h-22.4zM794.8 256.2h25.2v1.4h-25.2zM794.8 257.6h26.6v7h-26.6zM796.2 264.6h25.2v2.8h-25.2zM797.6 267.4h22.4v1.4h-22.4zM797.6 268.8h21v1.4h-21zM799 270.2h18.2v1.4h-18.2zM803.2 271.6h9.8v1.4h-9.8zM807.4 273h4.2v1.4h-4.2z"/>
<path fill="#b5d22b" d="M807.4 253.4h5.6v1.4h-5.6zM804.6 254.8h11.2v1.4h-11.2zM801.8 256.2h15.4v2.8h-15.4zM801.8 259h16.8v1.4h-16.8zM801.8 260.4h15.4v1.4h-15.4zM800.4 261.8h18.2v1.4h-18.2zM800.4 263.2h16.8v1.4h-16.8zM800.4 264.6h18.2v1.4h-18.2zM801.8 266h15.4v1.4h-15.4zM803.2 267.4h12.6v1.4h-12.6zM806 268.8h8.4v1.4h-8.4zM808.8 270.2h2.8v1.4h-2.8z"/>
<path fill="#f6e21c" d="M807.4 254.8h5.6v1.4h-5.6zM804.6 256.2h11.2v1.4h-11.2zM804.6 257.6h12.6v1.4h-12.6zM803.2 259h14v4.2h-14zM801.8 263.2h15.4v1.4h-15.4zM803.2 264.6h14v1.4h-14zM804.6 266h11.2v1.4h-11.2zM806 267.4h9.8v1.4h-9.8zM807.4 268.8h5.6v1.4h-5.6z"/>
<path fill="#f5a81e" d="M808.8 254.8h1.4v1.4h-1.4zM807.4 256.2h7v1.4h-7zM806 257.6h9.8v1.4h-9.8zM804.6 259h11.2v1.4h-11.2zM803.2 260.4h12.6v4.2h-12.6zM804.6 264.6h11.2v1.4h-11.2zM806 266h8.4v1.4h-8.4zM806 267.4h7v1.4h-7z"/>
<path fill="#ee6c1e" d="M807.4 256.2h5.6v1.4h-5.6zM806 257.6h8.4v1.4h-8.4zM804.6 259h9.8v2.8h-9.8zM804.6 261.8h11.2v2.8h-11.2zM804.6 264.6h9.8v1.4h-9.8zM806 266h7v1.4h-7zM807.4 267.4h5.6v1.4h-5.6z"/>
<path fill="#e1251b" d="M808.8 256.2h4.2v1.4h-4.2zM807.4 257.6h7v1.4h-7zM806 259h8.4v1.4h-8.4zM804.6 260.4h9.8v4.2h-9.8zM806 264.6h8.4v1.4h-8.4zM806 266h7v1.4h-7zM807.4 267.4h4.2v1.4h-4.2z"/>
</g>
<rect x="750" y="89.6" width="198" height="209" fill="none" stroke="#2a2a2e" stroke-width="1.3" />
<path d="M754.5 98H940.7V287H835V207.3H754.5Z M835 98V207.3" fill="none" stroke="#0c0c0c" stroke-width="1.15"/>
<line x1="835" y1="207.3" x2="940.7" y2="207.3" stroke="#0c0c0c" stroke-width="1.1" />
<path d="M750 108.8h-5.6M750 156h-5.6M750 206.6h-5.6M750 141.8h-3M750 191.4h-3M750 133.5h-3M750 182.5h-3M750 127.6h-3M750 176.1h-3M750 123h-3M750 171.2h-3M750 119.3h-3M750 167.2h-3M750 116.1h-3M750 163.8h-3M750 113.4h-3M750 160.9h-3M750 111h-3M750 158.3h-3M750 94.6h-3M750 250.7h-3M750 239.5h-3M750 231.7h-3M750 225.9h-3M750 221.2h-3M750 217.4h-3M750 214.2h-3M750 211.3h-3M750 208.8h-3M750 283.3h-3M750 294.5h-3M750 259.1h-3M750 256.7h-3M750 254.3h-3M750 274.9h-3M750 277.3h-3M750 279.7h-3" stroke="#1a1a1a" stroke-width="1" fill="none"/>
<path d="M750 273.3h-4.4M750 271.8h-4.4M750 270.2h-4.4M750 268.6h-4.4M750 267h-4.4M750 265.4h-4.4M750 263.8h-4.4M750 262.2h-4.4M750 260.7h-4.4M750 267h-5.5" stroke="#000" stroke-width="0.8" fill="none"/>
<text x="723.6" y="117" font-size="10.8" textLength="10.7" lengthAdjust="spacingAndGlyphs" fill="#111" stroke="#111" stroke-width="0.5">10</text>
<text x="736.8" y="109" font-size="10.8" textLength="5.4" lengthAdjust="spacingAndGlyphs" fill="#111" stroke="#111" stroke-width="0.5">5</text>
<text x="723.6" y="164.2" font-size="10.8" textLength="10.7" lengthAdjust="spacingAndGlyphs" fill="#111" stroke="#111" stroke-width="0.5">10</text>
<text x="736.8" y="156.2" font-size="10.8" textLength="5.4" lengthAdjust="spacingAndGlyphs" fill="#111" stroke="#111" stroke-width="0.5">4</text>
<text x="723.6" y="214.8" font-size="10.8" textLength="10.7" lengthAdjust="spacingAndGlyphs" fill="#111" stroke="#111" stroke-width="0.5">10</text>
<text x="736.8" y="206.8" font-size="10.8" textLength="5.4" lengthAdjust="spacingAndGlyphs" fill="#111" stroke="#111" stroke-width="0.5">3</text>
<text x="730.2" y="272.9" font-size="10.8" textLength="5.4" lengthAdjust="spacingAndGlyphs" fill="#111" stroke="#111" stroke-width="0.5">0</text>
<path d="M770.6 298.6v5.6M810.4 298.6v5.6M849.8 298.6v5.6M890.2 298.6v5.6M930.1 298.6v5.6M782.6 298.6v3M789.6 298.6v3M794.6 298.6v3M798.4 298.6v3M801.6 298.6v3M804.2 298.6v3M806.5 298.6v3M808.6 298.6v3M822.3 298.6v3M829.2 298.6v3M834.1 298.6v3M837.9 298.6v3M841.1 298.6v3M843.7 298.6v3M846 298.6v3M848 298.6v3M862 298.6v3M869.1 298.6v3M874.1 298.6v3M878 298.6v3M881.2 298.6v3M883.9 298.6v3M886.3 298.6v3M888.4 298.6v3M902.2 298.6v3M909.2 298.6v3M914.2 298.6v3M918.1 298.6v3M921.2 298.6v3M923.9 298.6v3M926.2 298.6v3M928.3 298.6v3M942.1 298.6v3M754.7 298.6v3M758.6 298.6v3M761.7 298.6v3M764.4 298.6v3M766.7 298.6v3M768.8 298.6v3" stroke="#1a1a1a" stroke-width="1" fill="none"/>
<text x="771.4" y="322.2" font-size="10.8" textLength="10.7" lengthAdjust="spacingAndGlyphs" fill="#111" stroke="#111" stroke-width="0.5">10</text>
<text x="784.6" y="314.2" font-size="10.8" textLength="5.4" lengthAdjust="spacingAndGlyphs" fill="#111" stroke="#111" stroke-width="0.5">1</text>
<text x="811.2" y="322.2" font-size="10.8" textLength="10.7" lengthAdjust="spacingAndGlyphs" fill="#111" stroke="#111" stroke-width="0.5">10</text>
<text x="824.4" y="314.2" font-size="10.8" textLength="5.4" lengthAdjust="spacingAndGlyphs" fill="#111" stroke="#111" stroke-width="0.5">2</text>
<text x="850.6" y="322.2" font-size="10.8" textLength="10.7" lengthAdjust="spacingAndGlyphs" fill="#111" stroke="#111" stroke-width="0.5">10</text>
<text x="863.8" y="314.2" font-size="10.8" textLength="5.4" lengthAdjust="spacingAndGlyphs" fill="#111" stroke="#111" stroke-width="0.5">3</text>
<text x="891" y="322.2" font-size="10.8" textLength="10.7" lengthAdjust="spacingAndGlyphs" fill="#111" stroke="#111" stroke-width="0.5">10</text>
<text x="904.2" y="314.2" font-size="10.8" textLength="5.4" lengthAdjust="spacingAndGlyphs" fill="#111" stroke="#111" stroke-width="0.5">4</text>
<text x="930.9" y="322.2" font-size="10.8" textLength="10.7" lengthAdjust="spacingAndGlyphs" fill="#111" stroke="#111" stroke-width="0.5">10</text>
<text x="944.1" y="314.2" font-size="10.8" textLength="5.4" lengthAdjust="spacingAndGlyphs" fill="#111" stroke="#111" stroke-width="0.5">5</text>
<text x="760.9" y="123" font-size="25.5" textLength="44" lengthAdjust="spacingAndGlyphs">0.00</text>
<text x="934" y="279.2" font-size="25.5" text-anchor="end" textLength="44" lengthAdjust="spacingAndGlyphs">0.83</text>
<g>
<path fill="#3654a6" d="M1019.8 206.8h2.8v2.8h-2.8zM1031 206.8h2.8v2.8h-2.8zM1029.6 209.6h5.6v1.4h-5.6zM1036.6 209.6h2.8v1.4h-2.8zM1026.8 211h14v1.4h-14zM1021.2 212.4h2.8v1.4h-2.8zM1025.4 212.4h8.4v1.4h-8.4zM1035.2 212.4h5.6v1.4h-5.6zM1021.2 213.8h7v2.8h-7zM1029.6 213.8h12.6v1.4h-12.6zM1029.6 215.2h14v1.4h-14zM1019.8 216.6h23.8v1.4h-23.8zM1018.4 218h25.2v1.4h-25.2zM1018.4 219.4h26.6v1.4h-26.6zM1046.4 219.4h2.8v1.4h-2.8zM1015.6 220.8h33.6v1.4h-33.6zM1015.6 222.2h30.8v1.4h-30.8zM1049.2 222.2h2.8v2.8h-2.8zM1014.2 223.6h33.6v1.4h-33.6zM1054.8 223.6h2.8v2.8h-2.8zM1014.2 225h35v2.8h-35zM1014.2 227.8h36.4v1.4h-36.4zM1011.4 229.2h2.8v1.4h-2.8zM1015.6 229.2h35v1.4h-35zM1011.4 230.6h39.2v1.4h-39.2zM1012.8 232h37.8v1.4h-37.8zM1012.8 233.4h36.4v1.4h-36.4zM1010 234.8h2.8v1.4h-2.8zM1014.2 234.8h39.2v1.4h-39.2zM1010 236.2h43.4v1.4h-43.4zM1012.8 237.6h39.2v2.8h-39.2zM1007.2 239h2.8v2.8h-2.8zM1011.4 240.4h40.6v5.6h-40.6zM1054.8 240.4h2.8v2.8h-2.8zM1064.6 244.6h2.8v2.8h-2.8zM1005.8 246h2.8v2.8h-2.8zM1010 246h40.6v1.4h-40.6zM1010 247.4h42v1.4h-42zM1068.8 247.4h2.8v2.8h-2.8zM1011.4 248.8h40.6v1.4h-40.6zM1011.4 250.2h42v1.4h-42zM1008.6 251.6h46.2v1.4h-46.2zM1008.6 253h47.6v2.8h-47.6zM1082.8 253h2.8v2.8h-2.8zM1008.6 255.8h44.8v1.4h-44.8zM1008.6 257.2h46.2v2.8h-46.2zM1008.6 260h49v2.8h-49zM1003 262.8h2.8v2.8h-2.8zM1008.6 262.8h44.8v1.4h-44.8zM1008.6 264.2h46.2v2.8h-46.2zM1067.4 265.6h2.8v2.8h-2.8zM1004.4 267h2.8v2.8h-2.8zM1010 267h43.4v1.4h-43.4zM1010 268.4h42v1.4h-42zM1010 269.8h40.6v2.8h-40.6zM1010 272.6h37.8v1.4h-37.8zM1010 274h39.2v2.8h-39.2zM1060.4 274h2.8v2.8h-2.8zM1010 276.8h37.8v2.8h-37.8zM1012.8 279.6h33.6v2.8h-33.6zM1014.2 282.4h32.2v1.4h-32.2zM1015.6 283.8h29.4v1.4h-29.4zM1015.6 285.2h26.6v1.4h-26.6zM1010 286.6h2.8v2.8h-2.8zM1017 286.6h23.8v1.4h-23.8zM1029.6 288h2.8v1.4h-2.8zM1033.8 288h2.8v1.4h-2.8zM1004.4 290.8h2.8v2.8h-2.8z"/>
<path fill="#3c6db6" d="M1028.2 241.8h1.4v1.4h-1.4zM1026.8 243.2h5.6v1.4h-5.6zM1022.6 244.6h1.4v1.4h-1.4zM1025.4 244.6h7v1.4h-7zM1019.8 246h18.2v2.8h-18.2zM1019.8 248.8h19.6v2.8h-19.6zM1018.4 251.6h22.4v1.4h-22.4zM1017 253h25.2v1.4h-25.2zM1015.6 254.4h25.2v4.2h-25.2zM1015.6 258.6h1.4v1.4h-1.4zM1018.4 258.6h23.8v1.4h-23.8zM1017 260h26.6v4.2h-26.6zM1015.6 264.2h28v1.4h-28zM1017 265.6h26.6v7h-26.6zM1018.4 272.6h23.8v1.4h-23.8zM1018.4 274h22.4v1.4h-22.4zM1018.4 275.4h19.6v1.4h-19.6zM1018.4 276.8h18.2v2.8h-18.2zM1022.6 279.6h12.6v1.4h-12.6zM1026.8 281h5.6v2.8h-5.6zM1029.6 283.8h1.4v1.4h-1.4z"/>
<path fill="#4a9fd4" d="M1028.2 243.2h1.4v2.8h-1.4zM1028.2 246h4.2v1.4h-4.2zM1024 247.4h9.8v1.4h-9.8zM1021.2 248.8h15.4v1.4h-15.4zM1019.8 250.2h16.8v1.4h-16.8zM1018.4 251.6h21v1.4h-21zM1018.4 253h22.4v1.4h-22.4zM1017 254.4h23.8v2.8h-23.8zM1018.4 257.2h22.4v4.2h-22.4zM1018.4 261.4h23.8v5.6h-23.8zM1018.4 267h22.4v1.4h-22.4zM1018.4 268.4h25.2v2.8h-25.2zM1018.4 271.2h23.8v1.4h-23.8zM1019.8 272.6h21v1.4h-21zM1021.2 274h16.8v1.4h-16.8zM1019.8 275.4h16.8v1.4h-16.8zM1022.6 276.8h12.6v1.4h-12.6zM1021.2 278.2h14v1.4h-14zM1024 279.6h9.8v1.4h-9.8zM1026.8 281h4.2v1.4h-4.2zM1028.2 282.4h2.8v1.4h-2.8z"/>
<path fill="#62c4e0" d="M1029.6 247.4h1.4v1.4h-1.4zM1022.6 248.8h1.4v1.4h-1.4zM1028.2 248.8h5.6v1.4h-5.6zM1021.2 250.2h14v1.4h-14zM1019.8 251.6h16.8v1.4h-16.8zM1019.8 253h19.6v4.2h-19.6zM1018.4 257.2h21v1.4h-21zM1019.8 258.6h21v1.4h-21zM1018.4 260h21v1.4h-21zM1018.4 261.4h22.4v1.4h-22.4zM1018.4 262.8h21v1.4h-21zM1018.4 264.2h22.4v5.6h-22.4zM1018.4 269.8h23.8v1.4h-23.8zM1018.4 271.2h22.4v1.4h-22.4zM1019.8 272.6h18.2v1.4h-18.2zM1021.2 274h15.4v1.4h-15.4zM1021.2 275.4h14v1.4h-14zM1022.6 276.8h12.6v1.4h-12.6zM1024 278.2h9.8v1.4h-9.8zM1026.8 279.6h5.6v1.4h-5.6zM1028.2 281h2.8v1.4h-2.8zM1029.6 282.4h1.4v1.4h-1.4z"/>
<path fill="#5fb878" d="M1026.8 251.6h7v1.4h-7zM1024 253h11.2v1.4h-11.2zM1022.6 254.4h14v1.4h-14zM1022.6 255.8h15.4v1.4h-15.4zM1021.2 257.2h16.8v1.4h-16.8zM1021.2 258.6h18.2v1.4h-18.2zM1019.8 260h19.6v7h-19.6zM1019.8 267h18.2v4.2h-18.2zM1021.2 271.2h16.8v1.4h-16.8zM1021.2 272.6h15.4v1.4h-15.4zM1024 274h11.2v1.4h-11.2zM1024 275.4h9.8v1.4h-9.8zM1029.6 276.8h4.2v1.4h-4.2z"/>
<path fill="#6ab42d" d="M1028.2 251.6h2.8v1.4h-2.8zM1026.8 253h7v1.4h-7zM1024 254.4h11.2v2.8h-11.2zM1022.6 257.2h14v1.4h-14zM1022.6 258.6h15.4v1.4h-15.4zM1021.2 260h16.8v2.8h-16.8zM1019.8 262.8h18.2v1.4h-18.2zM1021.2 264.2h16.8v7h-16.8zM1021.2 271.2h15.4v1.4h-15.4zM1024 272.6h11.2v1.4h-11.2zM1024 274h9.8v1.4h-9.8zM1028.2 275.4h4.2v1.4h-4.2z"/>
<path fill="#b5d22b" d="M1029.6 255.8h2.8v1.4h-2.8zM1025.4 257.2h7v1.4h-7zM1025.4 258.6h8.4v1.4h-8.4zM1024 260h11.2v2.8h-11.2zM1022.6 262.8h12.6v1.4h-12.6zM1024 264.2h11.2v5.6h-11.2zM1025.4 269.8h8.4v2.8h-8.4zM1026.8 272.6h5.6v1.4h-5.6z"/>
<path fill="#f6e21c" d="M1028.2 257.2h2.8v1.4h-2.8zM1025.4 258.6h8.4v2.8h-8.4zM1024 261.4h9.8v5.6h-9.8zM1025.4 267h8.4v2.8h-8.4zM1026.8 269.8h7v1.4h-7zM1028.2 271.2h4.2v1.4h-4.2z"/>
<path fill="#f5a81e" d="M1026.8 258.6h5.6v1.4h-5.6zM1025.4 260h7v1.4h-7zM1025.4 261.4h8.4v1.4h-8.4zM1024 262.8h9.8v1.4h-9.8zM1025.4 264.2h8.4v4.2h-8.4zM1026.8 268.4h7v1.4h-7zM1026.8 269.8h5.6v1.4h-5.6z"/>
<path fill="#ee6c1e" d="M1028.2 258.6h2.8v1.4h-2.8zM1026.8 260h5.6v1.4h-5.6zM1025.4 261.4h7v1.4h-7zM1025.4 262.8h8.4v4.2h-8.4zM1025.4 267h7v1.4h-7zM1026.8 268.4h5.6v1.4h-5.6zM1028.2 269.8h4.2v1.4h-4.2z"/>
<path fill="#e1251b" d="M1028.2 258.6h1.4v1.4h-1.4zM1026.8 260h5.6v1.4h-5.6zM1025.4 261.4h7v7h-7zM1026.8 268.4h5.6v1.4h-5.6zM1029.6 269.8h1.4v1.4h-1.4z"/>
</g>
<rect x="996" y="92" width="198" height="209" fill="none" stroke="#2a2a2e" stroke-width="1.3" />
<rect x="1052.7" y="99.3" width="132.8" height="189.6" fill="none" stroke="#0c0c0c" stroke-width="1.1" />
<path d="M996 111.2h-5.6M996 158.4h-5.6M996 209h-5.6M996 144.2h-3M996 193.8h-3M996 135.9h-3M996 184.9h-3M996 130h-3M996 178.5h-3M996 125.4h-3M996 173.6h-3M996 121.7h-3M996 169.6h-3M996 118.5h-3M996 166.2h-3M996 115.8h-3M996 163.3h-3M996 113.4h-3M996 160.7h-3M996 97h-3M996 253.1h-3M996 241.9h-3M996 234.1h-3M996 228.3h-3M996 223.6h-3M996 219.8h-3M996 216.6h-3M996 213.7h-3M996 211.2h-3M996 285.7h-3M996 296.9h-3M996 261.5h-3M996 259.1h-3M996 256.7h-3M996 277.3h-3M996 279.7h-3M996 282.1h-3" stroke="#1a1a1a" stroke-width="1" fill="none"/>
<path d="M996 275.7h-4.4M996 274.2h-4.4M996 272.6h-4.4M996 271h-4.4M996 269.4h-4.4M996 267.8h-4.4M996 266.2h-4.4M996 264.6h-4.4M996 263.1h-4.4M996 269.4h-5.5" stroke="#000" stroke-width="0.8" fill="none"/>
<text x="969.6" y="119.4" font-size="10.8" textLength="10.7" lengthAdjust="spacingAndGlyphs" fill="#111" stroke="#111" stroke-width="0.5">10</text>
<text x="982.8" y="111.4" font-size="10.8" textLength="5.4" lengthAdjust="spacingAndGlyphs" fill="#111" stroke="#111" stroke-width="0.5">5</text>
<text x="969.6" y="166.6" font-size="10.8" textLength="10.7" lengthAdjust="spacingAndGlyphs" fill="#111" stroke="#111" stroke-width="0.5">10</text>
<text x="982.8" y="158.6" font-size="10.8" textLength="5.4" lengthAdjust="spacingAndGlyphs" fill="#111" stroke="#111" stroke-width="0.5">4</text>
<text x="969.6" y="217.2" font-size="10.8" textLength="10.7" lengthAdjust="spacingAndGlyphs" fill="#111" stroke="#111" stroke-width="0.5">10</text>
<text x="982.8" y="209.2" font-size="10.8" textLength="5.4" lengthAdjust="spacingAndGlyphs" fill="#111" stroke="#111" stroke-width="0.5">3</text>
<text x="976.2" y="275.3" font-size="10.8" textLength="5.4" lengthAdjust="spacingAndGlyphs" fill="#111" stroke="#111" stroke-width="0.5">0</text>
<path d="M1079.3 301v5.6M1129 301v5.6M1174 301v5.6M1094.3 301v3M1142.5 301v3M1103 301v3M1150.5 301v3M1109.2 301v3M1156.1 301v3M1114 301v3M1160.5 301v3M1118 301v3M1164 301v3M1121.3 301v3M1167 301v3M1124.2 301v3M1169.6 301v3M1126.7 301v3M1171.9 301v3M1187.5 301v3M1040.8 301v3M1050.1 301v3M1056.8 301v3M1061.9 301v3M1066.1 301v3M1069.5 301v3M1072.4 301v3M1075 301v3M1077.3 301v3M1016.4 301v3M1007.1 301v3M1000.4 301v3M1034.4 301v3M1036.2 301v3M1038 301v3M1022.8 301v3M1021 301v3M1019.2 301v3" stroke="#1a1a1a" stroke-width="1" fill="none"/>
<path d="M1024 301v4.4M1025.1 301v4.4M1026.3 301v4.4M1027.4 301v4.4M1028.6 301v4.4M1029.8 301v4.4M1030.9 301v4.4M1032.1 301v4.4M1033.2 301v4.4M1028.6 301v5.5" stroke="#000" stroke-width="0.8" fill="none"/>
<text x="1031.6" y="324.8" font-size="10.8" textLength="5.4" lengthAdjust="spacingAndGlyphs" fill="#111" stroke="#111" stroke-width="0.5">0</text>
<text x="1080.1" y="324.8" font-size="10.8" textLength="10.7" lengthAdjust="spacingAndGlyphs" fill="#111" stroke="#111" stroke-width="0.5">10</text>
<text x="1093.3" y="316.8" font-size="10.8" textLength="5.4" lengthAdjust="spacingAndGlyphs" fill="#111" stroke="#111" stroke-width="0.5">3</text>
<text x="1129.8" y="324.8" font-size="10.8" textLength="10.7" lengthAdjust="spacingAndGlyphs" fill="#111" stroke="#111" stroke-width="0.5">10</text>
<text x="1143" y="316.8" font-size="10.8" textLength="5.4" lengthAdjust="spacingAndGlyphs" fill="#111" stroke="#111" stroke-width="0.5">4</text>
<text x="1174.8" y="324.8" font-size="10.8" textLength="10.7" lengthAdjust="spacingAndGlyphs" fill="#111" stroke="#111" stroke-width="0.5">10</text>
<text x="1188" y="316.8" font-size="10.8" textLength="5.4" lengthAdjust="spacingAndGlyphs" fill="#111" stroke="#111" stroke-width="0.5">5</text>
<text x="1180.8" y="125.4" font-size="25.5" text-anchor="end" textLength="44" lengthAdjust="spacingAndGlyphs">0.03</text>
<g>
<path fill="#3654a6" d="M891.8 412.6h2.8v2.8h-2.8zM884.8 435h2.8v2.8h-2.8zM814.8 442h2.8v2.8h-2.8zM819 442h2.8v2.8h-2.8zM833 442h2.8v2.8h-2.8zM820.4 449h2.8v2.8h-2.8zM900.2 449h2.8v2.8h-2.8zM870.8 453.2h2.8v2.8h-2.8zM809.2 454.6h2.8v2.8h-2.8zM813.4 457.4h2.8v2.8h-2.8zM817.6 460.2h2.8v2.8h-2.8zM813.4 464.4h2.8v1.4h-2.8zM807.8 465.8h12.6v1.4h-12.6zM868 465.8h2.8v2.8h-2.8zM807.8 467.2h7v1.4h-7zM816.2 467.2h4.2v1.4h-4.2zM810.6 468.6h11.2v1.4h-11.2zM807.8 470h16.8v1.4h-16.8zM835.8 470h2.8v2.8h-2.8zM847 470h2.8v1.4h-2.8zM879.2 470h2.8v2.8h-2.8zM803.6 471.4h21v1.4h-21zM847 471.4h5.6v1.4h-5.6zM802.2 472.8h25.2v2.8h-25.2zM844.2 472.8h2.8v2.8h-2.8zM849.8 472.8h2.8v1.4h-2.8zM798 474.2h2.8v1.4h-2.8zM798 475.6h29.4v1.4h-29.4zM840 475.6h2.8v1.4h-2.8zM786.8 477h2.8v2.8h-2.8zM799.4 477h28v1.4h-28zM837.2 477h5.6v1.4h-5.6zM851.2 477h2.8v2.8h-2.8zM796.6 478.4h30.8v1.4h-30.8zM837.2 478.4h2.8v1.4h-2.8zM795.2 479.8h32.2v1.4h-32.2zM792.4 481.2h35v1.4h-35zM792.4 482.6h36.4v1.4h-36.4zM778.4 484h2.8v2.8h-2.8zM785.4 484h2.8v1.4h-2.8zM789.6 484h40.6v1.4h-40.6zM845.6 484h2.8v2.8h-2.8zM785.4 485.4h44.8v1.4h-44.8zM786.8 486.8h42v1.4h-42zM840 486.8h2.8v2.8h-2.8zM784 488.2h46.2v4.2h-46.2zM779.8 489.6h2.8v2.8h-2.8zM837.2 491h2.8v2.8h-2.8zM778.4 492.4h51.8v1.4h-51.8zM777 493.8h53.2v1.4h-53.2zM777 495.2h2.8v1.4h-2.8zM781.2 495.2h49v1.4h-49zM781.2 496.6h51.8v1.4h-51.8zM838.6 496.6h2.8v2.8h-2.8zM905.8 496.6h2.8v2.8h-2.8zM775.6 498h57.4v1.4h-57.4zM844.2 498h2.8v2.8h-2.8zM775.6 499.4h56v1.4h-56zM777 500.8h54.6v1.4h-54.6zM775.6 502.2h56v2.8h-56zM777 505h56v1.4h-56zM835.8 505h2.8v2.8h-2.8zM774.2 506.4h58.8v1.4h-58.8zM774.2 507.8h56v1.4h-56zM883.4 507.8h2.8v2.8h-2.8zM775.6 509.2h56v1.4h-56zM774.2 510.6h57.4v2.8h-57.4zM833 512h2.8v2.8h-2.8zM774.2 513.4h56v1.4h-56zM770 514.8h2.8v2.8h-2.8zM774.2 514.8h57.4v1.4h-57.4zM775.6 516.2h56v1.4h-56zM775.6 517.6h54.6v1.4h-54.6zM774.2 519h57.4v4.2h-57.4zM774.2 523.2h56v2.8h-56zM775.6 526h53.2v1.4h-53.2zM775.6 527.4h51.8v1.4h-51.8zM772.8 528.8h54.6v2.8h-54.6zM777 531.6h49v1.4h-49zM778.4 533h46.2v2.8h-46.2zM779.8 535.8h43.4v1.4h-43.4zM779.8 537.2h5.6v1.4h-5.6zM786.8 537.2h36.4v1.4h-36.4zM798 538.6h25.2v1.4h-25.2zM798 540h26.6v1.4h-26.6zM812 541.4h8.4v1.4h-8.4zM821.8 541.4h2.8v1.4h-2.8zM816.2 542.8h2.8v1.4h-2.8z"/>
<path fill="#3c6db6" d="M806.4 496.6h7v1.4h-7zM802.2 498h11.2v1.4h-11.2zM816.2 498h1.4v1.4h-1.4zM800.8 499.4h16.8v1.4h-16.8zM799.4 500.8h19.6v1.4h-19.6zM793.8 502.2h29.4v1.4h-29.4zM793.8 503.6h30.8v1.4h-30.8zM795.2 505h29.4v2.8h-29.4zM792.4 506.4h1.4v1.4h-1.4zM789.6 507.8h35v1.4h-35zM791 509.2h35v1.4h-35zM789.6 510.6h36.4v2.8h-36.4zM789.6 513.4h37.8v4.2h-37.8zM786.8 516.2h1.4v1.4h-1.4zM791 517.6h36.4v1.4h-36.4zM788.2 519h39.2v2.8h-39.2zM789.6 521.8h36.4v1.4h-36.4zM791 523.2h33.6v2.8h-33.6zM791 526h32.2v1.4h-32.2zM791 527.4h4.2v1.4h-4.2zM796.6 527.4h23.8v1.4h-23.8zM799.4 528.8h19.6v1.4h-19.6zM803.6 530.2h12.6v1.4h-12.6zM805 531.6h9.8v1.4h-9.8z"/>
<path fill="#4a9fd4" d="M806.4 498h5.6v1.4h-5.6zM800.8 499.4h11.2v1.4h-11.2zM800.8 500.8h18.2v2.8h-18.2zM795.2 502.2h1.4v1.4h-1.4zM796.6 503.6h26.6v2.8h-26.6zM795.2 506.4h28v1.4h-28zM791 507.8h2.8v1.4h-2.8zM795.2 507.8h29.4v1.4h-29.4zM792.4 509.2h32.2v1.4h-32.2zM791 510.6h33.6v1.4h-33.6zM791 512h35v1.4h-35zM789.6 513.4h36.4v1.4h-36.4zM791 514.8h35v2.8h-35zM792.4 517.6h33.6v1.4h-33.6zM788.2 519h1.4v1.4h-1.4zM791 519h35v1.4h-35zM789.6 520.4h36.4v1.4h-36.4zM791 521.8h35v1.4h-35zM792.4 523.2h32.2v2.8h-32.2zM792.4 526h29.4v1.4h-29.4zM798 527.4h21v1.4h-21zM800.8 528.8h14v1.4h-14zM803.6 530.2h11.2v1.4h-11.2z"/>
<path fill="#62c4e0" d="M806.4 499.4h1.4v1.4h-1.4zM806.4 500.8h5.6v1.4h-5.6zM800.8 502.2h16.8v1.4h-16.8zM799.4 503.6h19.6v1.4h-19.6zM798 505h23.8v1.4h-23.8zM796.6 506.4h25.2v1.4h-25.2zM795.2 507.8h28v1.4h-28zM792.4 509.2h30.8v2.8h-30.8zM792.4 512h32.2v1.4h-32.2zM791 513.4h35v1.4h-35zM792.4 514.8h33.6v5.6h-33.6zM792.4 520.4h32.2v5.6h-32.2zM793.8 526h1.4v1.4h-1.4zM798 526h23.8v1.4h-23.8zM798 527.4h18.2v1.4h-18.2zM817.6 527.4h1.4v1.4h-1.4zM800.8 528.8h14v1.4h-14zM805 530.2h8.4v1.4h-8.4z"/>
<path fill="#5fb878" d="M810.6 503.6h2.8v1.4h-2.8zM803.6 505h11.2v1.4h-11.2zM799.4 506.4h21v1.4h-21zM799.4 507.8h22.4v1.4h-22.4zM798 509.2h23.8v1.4h-23.8zM796.6 510.6h25.2v1.4h-25.2zM796.6 512h26.6v1.4h-26.6zM795.2 513.4h28v1.4h-28zM796.6 514.8h28v1.4h-28zM795.2 516.2h29.4v1.4h-29.4zM793.8 517.6h30.8v1.4h-30.8zM793.8 519h28v1.4h-28zM795.2 520.4h26.6v1.4h-26.6zM796.6 521.8h25.2v1.4h-25.2zM798 523.2h23.8v1.4h-23.8zM798 524.6h22.4v1.4h-22.4zM800.8 526h14v1.4h-14zM805 527.4h8.4v1.4h-8.4z"/>
<path fill="#6ab42d" d="M805 505h1.4v1.4h-1.4zM809.2 505h4.2v1.4h-4.2zM802.2 506.4h16.8v1.4h-16.8zM800.8 507.8h21v1.4h-21zM799.4 509.2h22.4v1.4h-22.4zM798 510.6h23.8v1.4h-23.8zM798 512h25.2v2.8h-25.2zM798 514.8h26.6v1.4h-26.6zM796.6 516.2h28v2.8h-28zM796.6 519h25.2v2.8h-25.2zM798 521.8h23.8v1.4h-23.8zM799.4 523.2h21v1.4h-21zM799.4 524.6h19.6v1.4h-19.6zM805 526h9.8v1.4h-9.8zM806.4 527.4h1.4v1.4h-1.4zM809.2 527.4h4.2v1.4h-4.2z"/>
<path fill="#b5d22b" d="M807.8 507.8h4.2v1.4h-4.2zM805 509.2h11.2v1.4h-11.2zM805 510.6h12.6v1.4h-12.6zM803.6 512h14v1.4h-14zM803.6 513.4h15.4v4.2h-15.4zM802.2 517.6h16.8v4.2h-16.8zM803.6 521.8h14v1.4h-14zM806.4 523.2h9.8v1.4h-9.8zM807.8 524.6h7v1.4h-7z"/>
<path fill="#f6e21c" d="M807.8 509.2h4.2v1.4h-4.2zM806.4 510.6h9.8v1.4h-9.8zM805 512h12.6v4.2h-12.6zM803.6 516.2h14v4.2h-14zM805 520.4h12.6v1.4h-12.6zM806.4 521.8h9.8v1.4h-9.8zM807.8 523.2h7v1.4h-7zM810.6 524.6h1.4v1.4h-1.4z"/>
<path fill="#f5a81e" d="M807.8 510.6h5.6v1.4h-5.6zM806.4 512h9.8v2.8h-9.8zM805 514.8h12.6v5.6h-12.6zM806.4 520.4h9.8v1.4h-9.8zM807.8 521.8h7v1.4h-7zM809.2 523.2h2.8v1.4h-2.8z"/>
<path fill="#ee6c1e" d="M809.2 510.6h2.8v1.4h-2.8zM807.8 512h7v1.4h-7zM806.4 513.4h9.8v2.8h-9.8zM805 516.2h11.2v2.8h-11.2zM806.4 519h9.8v1.4h-9.8zM807.8 520.4h7v2.8h-7z"/>
<path fill="#e1251b" d="M807.8 512h7v2.8h-7zM806.4 514.8h9.8v4.2h-9.8zM807.8 519h8.4v1.4h-8.4zM807.8 520.4h7v1.4h-7zM809.2 521.8h4.2v1.4h-4.2z"/>
</g>
<rect x="751.8" y="344" width="197.9" height="209" fill="none" stroke="#2a2a2e" stroke-width="1.3" />
<path d="M756 352.4H942.7V541.7H836.4V461.4H756Z M836.4 352.4V461.4" fill="none" stroke="#0c0c0c" stroke-width="1.15"/>
<line x1="836.4" y1="461.4" x2="942.7" y2="461.4" stroke="#0c0c0c" stroke-width="1.1" />
<path d="M751.8 363.2h-5.6M751.8 410.4h-5.6M751.8 461h-5.6M751.8 396.2h-3M751.8 445.8h-3M751.8 387.9h-3M751.8 436.9h-3M751.8 382h-3M751.8 430.5h-3M751.8 377.4h-3M751.8 425.6h-3M751.8 373.7h-3M751.8 421.6h-3M751.8 370.5h-3M751.8 418.2h-3M751.8 367.8h-3M751.8 415.3h-3M751.8 365.4h-3M751.8 412.7h-3M751.8 349h-3M751.8 505.1h-3M751.8 493.9h-3M751.8 486.1h-3M751.8 480.3h-3M751.8 475.6h-3M751.8 471.8h-3M751.8 468.6h-3M751.8 465.7h-3M751.8 463.2h-3M751.8 537.7h-3M751.8 548.9h-3M751.8 513.5h-3M751.8 511.1h-3M751.8 508.7h-3M751.8 529.3h-3M751.8 531.7h-3M751.8 534.1h-3" stroke="#1a1a1a" stroke-width="1" fill="none"/>
<path d="M751.8 527.7h-4.4M751.8 526.2h-4.4M751.8 524.6h-4.4M751.8 523h-4.4M751.8 521.4h-4.4M751.8 519.8h-4.4M751.8 518.2h-4.4M751.8 516.6h-4.4M751.8 515.1h-4.4M751.8 521.4h-5.5" stroke="#000" stroke-width="0.8" fill="none"/>
<text x="725.4" y="371.4" font-size="10.8" textLength="10.7" lengthAdjust="spacingAndGlyphs" fill="#111" stroke="#111" stroke-width="0.5">10</text>
<text x="738.6" y="363.4" font-size="10.8" textLength="5.4" lengthAdjust="spacingAndGlyphs" fill="#111" stroke="#111" stroke-width="0.5">5</text>
<text x="725.4" y="418.6" font-size="10.8" textLength="10.7" lengthAdjust="spacingAndGlyphs" fill="#111" stroke="#111" stroke-width="0.5">10</text>
<text x="738.6" y="410.6" font-size="10.8" textLength="5.4" lengthAdjust="spacingAndGlyphs" fill="#111" stroke="#111" stroke-width="0.5">4</text>
<text x="725.4" y="469.2" font-size="10.8" textLength="10.7" lengthAdjust="spacingAndGlyphs" fill="#111" stroke="#111" stroke-width="0.5">10</text>
<text x="738.6" y="461.2" font-size="10.8" textLength="5.4" lengthAdjust="spacingAndGlyphs" fill="#111" stroke="#111" stroke-width="0.5">3</text>
<text x="732" y="527.3" font-size="10.8" textLength="5.4" lengthAdjust="spacingAndGlyphs" fill="#111" stroke="#111" stroke-width="0.5">0</text>
<path d="M772.4 553v5.6M812.2 553v5.6M851.6 553v5.6M892 553v5.6M931.9 553v5.6M784.4 553v3M791.4 553v3M796.4 553v3M800.2 553v3M803.4 553v3M806 553v3M808.3 553v3M810.4 553v3M824.1 553v3M831 553v3M835.9 553v3M839.7 553v3M842.9 553v3M845.5 553v3M847.8 553v3M849.8 553v3M863.8 553v3M870.9 553v3M875.9 553v3M879.8 553v3M883 553v3M885.7 553v3M888.1 553v3M890.2 553v3M904 553v3M911 553v3M916 553v3M919.9 553v3M923 553v3M925.7 553v3M928 553v3M930.1 553v3M943.9 553v3M756.5 553v3M760.4 553v3M763.5 553v3M766.2 553v3M768.5 553v3M770.6 553v3" stroke="#1a1a1a" stroke-width="1" fill="none"/>
<text x="773.2" y="576.6" font-size="10.8" textLength="10.7" lengthAdjust="spacingAndGlyphs" fill="#111" stroke="#111" stroke-width="0.5">10</text>
<text x="786.4" y="568.6" font-size="10.8" textLength="5.4" lengthAdjust="spacingAndGlyphs" fill="#111" stroke="#111" stroke-width="0.5">1</text>
<text x="813" y="576.6" font-size="10.8" textLength="10.7" lengthAdjust="spacingAndGlyphs" fill="#111" stroke="#111" stroke-width="0.5">10</text>
<text x="826.2" y="568.6" font-size="10.8" textLength="5.4" lengthAdjust="spacingAndGlyphs" fill="#111" stroke="#111" stroke-width="0.5">2</text>
<text x="852.4" y="576.6" font-size="10.8" textLength="10.7" lengthAdjust="spacingAndGlyphs" fill="#111" stroke="#111" stroke-width="0.5">10</text>
<text x="865.6" y="568.6" font-size="10.8" textLength="5.4" lengthAdjust="spacingAndGlyphs" fill="#111" stroke="#111" stroke-width="0.5">3</text>
<text x="892.8" y="576.6" font-size="10.8" textLength="10.7" lengthAdjust="spacingAndGlyphs" fill="#111" stroke="#111" stroke-width="0.5">10</text>
<text x="906" y="568.6" font-size="10.8" textLength="5.4" lengthAdjust="spacingAndGlyphs" fill="#111" stroke="#111" stroke-width="0.5">4</text>
<text x="932.7" y="576.6" font-size="10.8" textLength="10.7" lengthAdjust="spacingAndGlyphs" fill="#111" stroke="#111" stroke-width="0.5">10</text>
<text x="945.9" y="568.6" font-size="10.8" textLength="5.4" lengthAdjust="spacingAndGlyphs" fill="#111" stroke="#111" stroke-width="0.5">5</text>
<text x="760.9" y="378.5" font-size="25.5" textLength="44" lengthAdjust="spacingAndGlyphs">0.02</text>
<text x="939" y="536.7" font-size="25.5" text-anchor="end" textLength="44" lengthAdjust="spacingAndGlyphs">0.05</text>
<g>
<path fill="#3654a6" d="M1110.4 409.6h2.8v2.8h-2.8zM1022.2 432h2.8v2.8h-2.8zM1013.8 439h2.8v2.8h-2.8zM1100.6 439h2.8v2.8h-2.8zM1023.6 440.4h2.8v2.8h-2.8zM1030.6 446h4.2v2.8h-4.2zM1069.8 446h2.8v2.8h-2.8zM1114.6 450.2h2.8v2.8h-2.8zM1029.2 453h2.8v1.4h-2.8zM1027.8 454.4h9.8v1.4h-9.8zM1027.8 455.8h2.8v1.4h-2.8zM1032 455.8h5.6v1.4h-5.6zM1020.8 457.2h2.8v2.8h-2.8zM1027.8 457.2h8.4v1.4h-8.4zM1016.6 458.6h2.8v2.8h-2.8zM1027.8 458.6h11.2v1.4h-11.2zM1020.8 460h18.2v1.4h-18.2zM1015.2 461.4h2.8v1.4h-2.8zM1020.8 461.4h22.4v1.4h-22.4zM1015.2 462.8h30.8v1.4h-30.8zM1048.8 462.8h2.8v2.8h-2.8zM1015.2 464.2h5.6v1.4h-5.6zM1022.2 464.2h23.8v1.4h-23.8zM1016.6 465.6h28v1.4h-28zM1015.2 467h30.8v2.8h-30.8zM1054.4 467h2.8v2.8h-2.8zM1072.6 467h2.8v2.8h-2.8zM1097.8 467h2.8v2.8h-2.8zM1065.6 468.4h2.8v2.8h-2.8zM1013.8 469.8h32.2v4.2h-32.2zM1086.6 472.6h2.8v2.8h-2.8zM1013.8 474h33.6v1.4h-33.6zM1051.6 474h2.8v2.8h-2.8zM1012.4 475.4h35v1.4h-35zM1011 476.8h37.8v1.4h-37.8zM1009.6 478.2h39.2v1.4h-39.2zM1002.6 479.6h2.8v2.8h-2.8zM1009.6 479.6h40.6v1.4h-40.6zM1009.6 481h43.4v1.4h-43.4zM1069.8 481h2.8v2.8h-2.8zM1011 482.4h42v1.4h-42zM1011 483.8h39.2v1.4h-39.2zM1009.6 485.2h43.4v2.8h-43.4zM1058.6 486.6h2.8v2.8h-2.8zM1008.2 488h42v2.8h-42zM1009.6 490.8h42v2.8h-42zM999.8 492.2h2.8v2.8h-2.8zM1009.6 493.6h40.6v1.4h-40.6zM1055.8 493.6h2.8v2.8h-2.8zM1009.6 495h42v2.8h-42zM1065.6 495h2.8v2.8h-2.8zM1008.2 497.8h44.8v1.4h-44.8zM1001.2 499.2h2.8v2.8h-2.8zM1008.2 499.2h47.6v1.4h-47.6zM1005.4 500.6h46.2v1.4h-46.2zM1053 500.6h2.8v1.4h-2.8zM1004 502h49v2.8h-49zM1006.8 504.8h49v2.8h-49zM1002.6 507.6h51.8v1.4h-51.8zM1002.6 509h50.4v1.4h-50.4zM1057.2 509h2.8v2.8h-2.8zM1005.4 510.4h47.6v1.4h-47.6zM1005.4 511.8h49v1.4h-49zM1062.8 511.8h2.8v2.8h-2.8zM1006.8 513.2h47.6v1.4h-47.6zM1006.8 514.6h46.2v4.2h-46.2zM1072.6 514.6h2.8v2.8h-2.8zM1008.2 518.8h42v2.8h-42zM1006.8 521.6h40.6v1.4h-40.6zM1006.8 523h42v2.8h-42zM1104.8 523h2.8v2.8h-2.8zM1008.2 525.8h39.2v1.4h-39.2zM1008.2 527.2h37.8v1.4h-37.8zM1005.4 528.6h2.8v2.8h-2.8zM1009.6 528.6h36.4v1.4h-36.4zM1011 530h33.6v1.4h-33.6zM1011 531.4h32.2v1.4h-32.2zM1008.2 532.8h2.8v2.8h-2.8zM1013.8 532.8h29.4v1.4h-29.4zM1013.8 534.2h26.6v1.4h-26.6zM1013.8 535.6h15.4v1.4h-15.4zM1030.6 535.6h7v1.4h-7zM1015.2 537h2.8v2.8h-2.8zM1020.8 537h8.4v1.4h-8.4zM1032 537h5.6v1.4h-5.6z"/>
<path fill="#3c6db6" d="M1022.2 492.2h1.4v1.4h-1.4zM1026.4 492.2h2.8v1.4h-2.8zM1022.2 493.6h9.8v1.4h-9.8zM1033.4 493.6h1.4v1.4h-1.4zM1022.2 495h12.6v1.4h-12.6zM1018 496.4h18.2v1.4h-18.2zM1018 497.8h19.6v1.4h-19.6zM1015.2 499.2h23.8v2.8h-23.8zM1015.2 502h22.4v2.8h-22.4zM1016.6 504.8h22.4v1.4h-22.4zM1015.2 506.2h26.6v2.8h-26.6zM1015.2 509h28v1.4h-28zM1013.8 510.4h29.4v1.4h-29.4zM1013.8 511.8h26.6v2.8h-26.6zM1012.4 514.6h28v1.4h-28zM1013.8 516h28v2.8h-28zM1015.2 518.8h25.2v2.8h-25.2zM1016.6 521.6h23.8v1.4h-23.8zM1018 523h21v1.4h-21zM1019.4 524.4h19.6v1.4h-19.6zM1019.4 525.8h18.2v1.4h-18.2zM1020.8 527.2h15.4v1.4h-15.4zM1020.8 528.6h14v1.4h-14zM1025 530h4.2v1.4h-4.2z"/>
<path fill="#4a9fd4" d="M1026.4 493.6h2.8v1.4h-2.8zM1025 495h7v1.4h-7zM1023.6 496.4h9.8v1.4h-9.8zM1020.8 497.8h15.4v1.4h-15.4zM1016.6 499.2h21v1.4h-21zM1016.6 500.6h1.4v1.4h-1.4zM1019.4 500.6h18.2v1.4h-18.2zM1018 502h18.2v2.8h-18.2zM1016.6 504.8h21v1.4h-21zM1016.6 506.2h23.8v1.4h-23.8zM1016.6 507.6h25.2v2.8h-25.2zM1016.6 510.4h23.8v1.4h-23.8zM1016.6 511.8h22.4v1.4h-22.4zM1013.8 513.2h25.2v1.4h-25.2zM1013.8 514.6h26.6v1.4h-26.6zM1015.2 516h25.2v2.8h-25.2zM1015.2 518.8h23.8v2.8h-23.8zM1018 521.6h21v2.8h-21zM1019.4 524.4h16.8v2.8h-16.8zM1020.8 527.2h14v1.4h-14zM1022.2 528.6h7v1.4h-7zM1030.6 528.6h1.4v1.4h-1.4z"/>
<path fill="#62c4e0" d="M1025 496.4h7v1.4h-7zM1022.2 497.8h11.2v1.4h-11.2zM1020.8 499.2h12.6v1.4h-12.6zM1034.8 499.2h1.4v1.4h-1.4zM1020.8 500.6h15.4v1.4h-15.4zM1019.4 502h16.8v2.8h-16.8zM1018 504.8h18.2v1.4h-18.2zM1016.6 506.2h22.4v11.2h-22.4zM1015.2 517.4h23.8v1.4h-23.8zM1016.6 518.8h22.4v1.4h-22.4zM1016.6 520.2h21v1.4h-21zM1018 521.6h19.6v1.4h-19.6zM1019.4 523h18.2v1.4h-18.2zM1020.8 524.4h15.4v1.4h-15.4zM1020.8 525.8h14v1.4h-14zM1022.2 527.2h7v1.4h-7zM1030.6 527.2h1.4v1.4h-1.4zM1023.6 528.6h4.2v1.4h-4.2z"/>
<path fill="#5fb878" d="M1029.2 499.2h1.4v1.4h-1.4zM1022.2 500.6h8.4v1.4h-8.4zM1022.2 502h9.8v1.4h-9.8zM1022.2 503.4h12.6v1.4h-12.6zM1020.8 504.8h14v1.4h-14zM1019.4 506.2h15.4v1.4h-15.4zM1018 507.6h18.2v1.4h-18.2zM1018 509h19.6v9.8h-19.6zM1019.4 518.8h16.8v1.4h-16.8zM1020.8 520.2h15.4v1.4h-15.4zM1020.8 521.6h14v1.4h-14zM1022.2 523h11.2v1.4h-11.2zM1023.6 524.4h5.6v1.4h-5.6zM1023.6 525.8h2.8v1.4h-2.8z"/>
<path fill="#6ab42d" d="M1023.6 502h7v1.4h-7zM1022.2 503.4h9.8v1.4h-9.8zM1020.8 504.8h12.6v1.4h-12.6zM1020.8 506.2h14v1.4h-14zM1019.4 507.6h15.4v1.4h-15.4zM1019.4 509h16.8v9.8h-16.8zM1020.8 518.8h14v2.8h-14zM1022.2 521.6h9.8v1.4h-9.8zM1022.2 523h7v1.4h-7z"/>
<path fill="#b5d22b" d="M1026.4 503.4h1.4v1.4h-1.4zM1025 504.8h5.6v1.4h-5.6zM1023.6 506.2h7v1.4h-7zM1022.2 507.6h9.8v2.8h-9.8zM1022.2 510.4h11.2v7h-11.2zM1022.2 517.4h9.8v1.4h-9.8zM1023.6 518.8h8.4v1.4h-8.4zM1023.6 520.2h5.6v1.4h-5.6z"/>
<path fill="#f6e21c" d="M1026.4 504.8h1.4v1.4h-1.4zM1025 506.2h5.6v1.4h-5.6zM1023.6 507.6h7v1.4h-7zM1023.6 509h8.4v1.4h-8.4zM1022.2 510.4h9.8v1.4h-9.8zM1022.2 511.8h11.2v4.2h-11.2zM1022.2 516h9.8v1.4h-9.8zM1023.6 517.4h8.4v1.4h-8.4zM1025 518.8h5.6v1.4h-5.6z"/>
<path fill="#f5a81e" d="M1026.4 506.2h2.8v1.4h-2.8zM1025 507.6h5.6v1.4h-5.6zM1023.6 509h7v1.4h-7zM1023.6 510.4h8.4v1.4h-8.4zM1022.2 511.8h9.8v4.2h-9.8zM1023.6 516h8.4v1.4h-8.4zM1025 517.4h5.6v1.4h-5.6zM1025 518.8h4.2v1.4h-4.2z"/>
<path fill="#ee6c1e" d="M1025 507.6h4.2v1.4h-4.2zM1023.6 509h7v2.8h-7zM1023.6 511.8h8.4v4.2h-8.4zM1023.6 516h7v1.4h-7zM1025 517.4h5.6v1.4h-5.6z"/>
<path fill="#e1251b" d="M1026.4 507.6h2.8v1.4h-2.8zM1025 509h5.6v1.4h-5.6zM1023.6 510.4h7v1.4h-7zM1023.6 511.8h8.4v4.2h-8.4zM1023.6 516h7v1.4h-7zM1026.4 517.4h2.8v1.4h-2.8z"/>
</g>
<rect x="994.2" y="341" width="197.8" height="208.7" fill="none" stroke="#2a2a2e" stroke-width="1.3" />
<rect x="1051" y="348.4" width="133" height="188.9" fill="none" stroke="#0c0c0c" stroke-width="1.1" />
<path d="M994.2 360.2h-5.6M994.2 407.4h-5.6M994.2 458h-5.6M994.2 393.2h-3M994.2 442.8h-3M994.2 384.9h-3M994.2 433.9h-3M994.2 379h-3M994.2 427.5h-3M994.2 374.4h-3M994.2 422.6h-3M994.2 370.7h-3M994.2 418.6h-3M994.2 367.5h-3M994.2 415.2h-3M994.2 364.8h-3M994.2 412.3h-3M994.2 362.4h-3M994.2 409.7h-3M994.2 346h-3M994.2 502.1h-3M994.2 490.9h-3M994.2 483.1h-3M994.2 477.3h-3M994.2 472.6h-3M994.2 468.8h-3M994.2 465.6h-3M994.2 462.7h-3M994.2 460.2h-3M994.2 534.7h-3M994.2 545.9h-3M994.2 510.5h-3M994.2 508.1h-3M994.2 505.7h-3M994.2 526.3h-3M994.2 528.7h-3M994.2 531.1h-3" stroke="#1a1a1a" stroke-width="1" fill="none"/>
<path d="M994.2 524.7h-4.4M994.2 523.2h-4.4M994.2 521.6h-4.4M994.2 520h-4.4M994.2 518.4h-4.4M994.2 516.8h-4.4M994.2 515.2h-4.4M994.2 513.6h-4.4M994.2 512.1h-4.4M994.2 518.4h-5.5" stroke="#000" stroke-width="0.8" fill="none"/>
<text x="967.8" y="368.4" font-size="10.8" textLength="10.7" lengthAdjust="spacingAndGlyphs" fill="#111" stroke="#111" stroke-width="0.5">10</text>
<text x="981" y="360.4" font-size="10.8" textLength="5.4" lengthAdjust="spacingAndGlyphs" fill="#111" stroke="#111" stroke-width="0.5">5</text>
<text x="967.8" y="415.6" font-size="10.8" textLength="10.7" lengthAdjust="spacingAndGlyphs" fill="#111" stroke="#111" stroke-width="0.5">10</text>
<text x="981" y="407.6" font-size="10.8" textLength="5.4" lengthAdjust="spacingAndGlyphs" fill="#111" stroke="#111" stroke-width="0.5">4</text>
<text x="967.8" y="466.2" font-size="10.8" textLength="10.7" lengthAdjust="spacingAndGlyphs" fill="#111" stroke="#111" stroke-width="0.5">10</text>
<text x="981" y="458.2" font-size="10.8" textLength="5.4" lengthAdjust="spacingAndGlyphs" fill="#111" stroke="#111" stroke-width="0.5">3</text>
<text x="974.4" y="524.3" font-size="10.8" textLength="5.4" lengthAdjust="spacingAndGlyphs" fill="#111" stroke="#111" stroke-width="0.5">0</text>
<path d="M1077.5 549.7v5.6M1127.2 549.7v5.6M1172.2 549.7v5.6M1092.5 549.7v3M1140.7 549.7v3M1101.2 549.7v3M1148.7 549.7v3M1107.4 549.7v3M1154.3 549.7v3M1112.2 549.7v3M1158.7 549.7v3M1116.2 549.7v3M1162.2 549.7v3M1119.5 549.7v3M1165.2 549.7v3M1122.4 549.7v3M1167.8 549.7v3M1124.9 549.7v3M1170.1 549.7v3M1185.7 549.7v3M1039 549.7v3M1048.3 549.7v3M1055 549.7v3M1060.1 549.7v3M1064.3 549.7v3M1067.7 549.7v3M1070.6 549.7v3M1073.2 549.7v3M1075.5 549.7v3M1014.6 549.7v3M1005.3 549.7v3M998.6 549.7v3M1032.6 549.7v3M1034.4 549.7v3M1036.2 549.7v3M1021 549.7v3M1019.2 549.7v3M1017.4 549.7v3" stroke="#1a1a1a" stroke-width="1" fill="none"/>
<path d="M1022.2 549.7v4.4M1023.3 549.7v4.4M1024.5 549.7v4.4M1025.6 549.7v4.4M1026.8 549.7v4.4M1028 549.7v4.4M1029.1 549.7v4.4M1030.3 549.7v4.4M1031.4 549.7v4.4M1026.8 549.7v5.5" stroke="#000" stroke-width="0.8" fill="none"/>
<text x="1029.8" y="573.5" font-size="10.8" textLength="5.4" lengthAdjust="spacingAndGlyphs" fill="#111" stroke="#111" stroke-width="0.5">0</text>
<text x="1078.3" y="573.5" font-size="10.8" textLength="10.7" lengthAdjust="spacingAndGlyphs" fill="#111" stroke="#111" stroke-width="0.5">10</text>
<text x="1091.5" y="565.5" font-size="10.8" textLength="5.4" lengthAdjust="spacingAndGlyphs" fill="#111" stroke="#111" stroke-width="0.5">3</text>
<text x="1128" y="573.5" font-size="10.8" textLength="10.7" lengthAdjust="spacingAndGlyphs" fill="#111" stroke="#111" stroke-width="0.5">10</text>
<text x="1141.2" y="565.5" font-size="10.8" textLength="5.4" lengthAdjust="spacingAndGlyphs" fill="#111" stroke="#111" stroke-width="0.5">4</text>
<text x="1173" y="573.5" font-size="10.8" textLength="10.7" lengthAdjust="spacingAndGlyphs" fill="#111" stroke="#111" stroke-width="0.5">10</text>
<text x="1186.2" y="565.5" font-size="10.8" textLength="5.4" lengthAdjust="spacingAndGlyphs" fill="#111" stroke="#111" stroke-width="0.5">5</text>
<text x="1180.8" y="373.5" font-size="25.5" text-anchor="end" textLength="44" lengthAdjust="spacingAndGlyphs">0.06</text>
<line x1="171" y1="55" x2="171" y2="591.5" stroke="#36363a" stroke-width="2" />
<polygon points="171,35 160.3,56 181.7,56"/>
<line x1="170" y1="590.5" x2="378" y2="590.5" stroke="#36363a" stroke-width="2" />
<polygon points="396,590.8 378,580.2 378,601.6"/>
<line x1="464.6" y1="591" x2="644" y2="591" stroke="#36363a" stroke-width="2" />
<polygon points="661.8,591 643.6,580 643.6,602.2"/>
<line x1="757.5" y1="591" x2="937" y2="591" stroke="#36363a" stroke-width="2" />
<polygon points="955,593.5 936.5,582.5 936.5,605"/>
<line x1="1000" y1="594.5" x2="1179" y2="594.5" stroke="#36363a" stroke-width="2" />
<polygon points="1197.6,594 1178.6,583 1178.6,605.2"/>
<text x="17" y="34.2" font-size="49.5" font-weight="bold">A</text>
<text x="401.2" y="69.6" font-size="33.8">CD8</text>
<text x="929.6" y="66.2" font-size="33.8">CD4</text>
<text x="34.2" y="163.2" font-size="33.7">DMSO</text>
<text x="49" y="389.6" font-size="33.7">Pools</text>
<text x="50.2" y="428.9" font-size="33.7">F+G</text>
<text x="262.5" y="629" font-size="34"><tspan textLength="44.5" lengthAdjust="spacingAndGlyphs">IFN</tspan><tspan font-family='"Liberation Serif", serif' font-size="42" dx="-0.5">γ</tspan></text>
<text x="816.2" y="626" font-size="34"><tspan textLength="44.5" lengthAdjust="spacingAndGlyphs">IFN</tspan><tspan font-family='"Liberation Serif", serif' font-size="42" dx="-0.5">γ</tspan></text>
<text x="538.6" y="625.4" font-size="34" textLength="39.6" lengthAdjust="spacingAndGlyphs">IL2</text>
<text x="1072.4" y="626" font-size="34" textLength="39.6" lengthAdjust="spacingAndGlyphs">IL2</text>
<text x="158" y="578.5" font-size="36" transform="rotate(-90 158 578.5)">TNF<tspan font-family='"Liberation Serif", serif' font-size="46" dx="0">α</tspan></text>
<path d="M121.5 833.2V1250M151.3 833.2V1250M204.2 833.2V1250M313.4 833.2V1250M343.1 833.2V1250M396.3 833.2V1250M506.1 833.2V1250M535.9 833.2V1250M589.2 833.2V1250" stroke="#c2c2c2" stroke-width="1.1" stroke-dasharray="4 1.3" fill="none"/>
<path d="M283.5 833.2V1252M473 833.2V1252" stroke="#222" stroke-width="1.1" stroke-dasharray="5.2 2.6" fill="none"/>
<path d="M107.9 1212.3V1208.6M104.1 1208.6h7.6M107.9 1244.8V1250M104.1 1250h7.6" stroke="#2c2c30" stroke-width="1.2" fill="none"/>
<rect x="101.4" y="1212.3" width="13" height="32.5" fill="#e4e1e7" stroke="#2c2c30" stroke-width="1.1" />
<line x1="101.4" y1="1230.7" x2="114.4" y2="1230.7" stroke="#2c2c30" stroke-width="1.1" />
<path d="M134.6 1169V1143.6M130.8 1143.6h7.6M134.6 1238.3V1247M130.8 1247h7.6" stroke="#2c2c30" stroke-width="1.2" fill="none"/>
<rect x="127.9" y="1169" width="13.4" height="69.3" fill="#cfcacf" stroke="#2c2c30" stroke-width="1.1" />
<line x1="127.9" y1="1198.9" x2="141.3" y2="1198.9" stroke="#2c2c30" stroke-width="1.1" />
<path d="M167.4 1112.2V986M163.6 986h7.6M167.4 1248.7V1250M163.6 1250h7.6" stroke="#2c2c30" stroke-width="1.2" fill="none"/>
<rect x="160.8" y="1112.2" width="13.2" height="136.5" fill="#06914f" stroke="#2c2c30" stroke-width="1.1" />
<line x1="160.8" y1="1239" x2="174" y2="1239" stroke="#2c2c30" stroke-width="1.1" />
<path d="M187.5 1203V1201.5M183.7 1201.5h7.6M187.5 1239.8V1241M183.7 1241h7.6" stroke="#2c2c30" stroke-width="1.2" fill="none"/>
<rect x="181" y="1203" width="13" height="36.8" fill="#e03322" stroke="#2c2c30" stroke-width="1.1" />
<line x1="181" y1="1222" x2="194" y2="1222" stroke="#2c2c30" stroke-width="1.1" />
<path d="M220.6 1118.5V1003.9M216.8 1003.9h7.6M220.6 1248.7V1250M216.8 1250h7.6" stroke="#2c2c30" stroke-width="1.2" fill="none"/>
<rect x="214.1" y="1118.5" width="13" height="130.2" fill="#06914f" stroke="#2c2c30" stroke-width="1.1" />
<line x1="214.1" y1="1244.8" x2="227.1" y2="1244.8" stroke="#2c2c30" stroke-width="1.1" />
<path d="M240.3 1191.7V1190.6M236.5 1190.6h7.6M240.3 1222.5V1231.4M236.5 1231.4h7.6" stroke="#2c2c30" stroke-width="1.2" fill="none"/>
<rect x="233.6" y="1191.7" width="13.4" height="30.8" fill="#e03322" stroke="#2c2c30" stroke-width="1.1" />
<line x1="233.6" y1="1194.3" x2="247" y2="1194.3" stroke="#2c2c30" stroke-width="1.1" />
<path d="M260.5 1104.6V1071M256.7 1071h7.6M260.5 1237.7V1246.3M256.7 1246.3h7.6" stroke="#2c2c30" stroke-width="1.2" fill="none"/>
<rect x="254" y="1104.6" width="13" height="133.1" fill="#4987c6" stroke="#2c2c30" stroke-width="1.1" />
<line x1="254" y1="1208.6" x2="267" y2="1208.6" stroke="#2c2c30" stroke-width="1.1" />
<path d="M300.2 1231.4V1224.7M296.4 1224.7h7.6M300.2 1249V1250M296.4 1250h7.6" stroke="#2c2c30" stroke-width="1.2" fill="none"/>
<rect x="293.7" y="1231.4" width="13" height="17.6" fill="#e4e1e7" stroke="#2c2c30" stroke-width="1.1" />
<line x1="293.7" y1="1244.8" x2="306.7" y2="1244.8" stroke="#2c2c30" stroke-width="1.1" />
<path d="M326.6 1224.2V1209.5M322.8 1209.5h7.6M326.6 1247.6V1249.8M322.8 1249.8h7.6" stroke="#2c2c30" stroke-width="1.2" fill="none"/>
<rect x="320" y="1224.2" width="13.3" height="23.4" fill="#cfcacf" stroke="#2c2c30" stroke-width="1.1" />
<line x1="320" y1="1241.6" x2="333.3" y2="1241.6" stroke="#2c2c30" stroke-width="1.1" />
<path d="M359.7 1151.6V1060.6M355.9 1060.6h7.6" stroke="#2c2c30" stroke-width="1.2" fill="none"/>
<rect x="353" y="1151.6" width="13.4" height="98.4" fill="#06914f" stroke="#2c2c30" stroke-width="1.1" />
<path d="M379.9 1214.5V1211.7M376.1 1211.7h7.6M379.9 1238.3V1240.9M376.1 1240.9h7.6" stroke="#2c2c30" stroke-width="1.2" fill="none"/>
<rect x="373.2" y="1214.5" width="13.4" height="23.8" fill="#e03322" stroke="#2c2c30" stroke-width="1.1" />
<line x1="373.2" y1="1227" x2="386.6" y2="1227" stroke="#2c2c30" stroke-width="1.1" />
<path d="M413.1 1160.7V1079.7M409.3 1079.7h7.6" stroke="#2c2c30" stroke-width="1.2" fill="none"/>
<rect x="406.5" y="1160.7" width="13.3" height="89.3" fill="#06914f" stroke="#2c2c30" stroke-width="1.1" />
<line x1="406.5" y1="1244.2" x2="419.8" y2="1244.2" stroke="#2c2c30" stroke-width="1.1" />
<path d="M433 1200.8V1197.6M429.2 1197.6h7.6M433 1231.8V1240.9M429.2 1240.9h7.6" stroke="#2c2c30" stroke-width="1.2" fill="none"/>
<rect x="426.3" y="1200.8" width="13.4" height="31" fill="#e03322" stroke="#2c2c30" stroke-width="1.1" />
<line x1="426.3" y1="1208" x2="439.7" y2="1208" stroke="#2c2c30" stroke-width="1.1" />
<path d="M452.9 1158.1V1135.4M449.1 1135.4h7.6M452.9 1240.5V1246.3M449.1 1246.3h7.6" stroke="#2c2c30" stroke-width="1.2" fill="none"/>
<rect x="446.2" y="1158.1" width="13.4" height="82.4" fill="#4987c6" stroke="#2c2c30" stroke-width="1.1" />
<line x1="446.2" y1="1223.8" x2="459.6" y2="1223.8" stroke="#2c2c30" stroke-width="1.1" />
<path d="M492.8 1244.8V1238.3M489 1238.3h7.6" stroke="#2c2c30" stroke-width="1.2" fill="none"/>
<rect x="485.9" y="1244.8" width="13.8" height="4.2" fill="#e4e1e7" stroke="#2c2c30" stroke-width="1.1" />
<path d="M519.5 1239.4V1225.3M515.8 1225.3h7.6" stroke="#2c2c30" stroke-width="1.2" fill="none"/>
<rect x="512.7" y="1239.4" width="13.7" height="9.3" fill="#cfcacf" stroke="#2c2c30" stroke-width="1.1" />
<line x1="512.7" y1="1247.6" x2="526.4" y2="1247.6" stroke="#2c2c30" stroke-width="1.1" />
<path d="M552.6 1231.8V1213.8M548.8 1213.8h7.6" stroke="#2c2c30" stroke-width="1.2" fill="none"/>
<rect x="545.9" y="1231.8" width="13.4" height="18.2" fill="#06914f" stroke="#2c2c30" stroke-width="1.1" />
<path d="M572.2 1239.8V1238.3M568.4 1238.3h7.6" stroke="#2c2c30" stroke-width="1.2" fill="none"/>
<rect x="565.4" y="1239.8" width="13.6" height="8.2" fill="#e03322" stroke="#2c2c30" stroke-width="1.1" />
<line x1="565.4" y1="1244.2" x2="579" y2="1244.2" stroke="#2c2c30" stroke-width="1.1" />
<path d="M605.7 1226V1215.5M601.9 1215.5h7.6" stroke="#2c2c30" stroke-width="1.2" fill="none"/>
<rect x="599" y="1226" width="13.4" height="24" fill="#06914f" stroke="#2c2c30" stroke-width="1.1" />
<path d="M625.4 1241.6V1240M621.6 1240h7.6" stroke="#2c2c30" stroke-width="1.2" fill="none"/>
<rect x="618.9" y="1241.6" width="13" height="3" fill="#e03322" stroke="#2c2c30" stroke-width="1.1" />
<path d="M645.4 1234.6V1230.7M641.6 1230.7h7.6" stroke="#2c2c30" stroke-width="1.2" fill="none"/>
<rect x="638.7" y="1234.6" width="13.4" height="13" fill="#4987c6" stroke="#2c2c30" stroke-width="1.1" />
<line x1="638.7" y1="1245.2" x2="652.1" y2="1245.2" stroke="#2c2c30" stroke-width="1.1" />
<circle cx="107.7" cy="1076.2" r="2.7"/>
<circle cx="134.3" cy="904.2" r="2.7"/>
<circle cx="326.8" cy="1163.1" r="2.7"/>
<path d="M97.6 832.4V1251.2" stroke="#3c3c42" stroke-width="1.9" fill="none"/><path d="M92 1250.5H661.2" stroke="#3c3c42" stroke-width="1.4" fill="none"/>
<path d="M92 832.9H97.6M92 916.5H97.6M92 1000.1H97.6M92 1083.6H97.6M92 1167.1H97.6M92 1250.5H97.6" stroke="#3c3c42" stroke-width="1.4" fill="none"/>
<text x="90.2" y="837.5" font-size="24" text-anchor="end">5</text>
<text x="90.2" y="921.1" font-size="24" text-anchor="end">4</text>
<text x="90.2" y="1004.7" font-size="24" text-anchor="end">3</text>
<text x="90.2" y="1088.2" font-size="24" text-anchor="end">2</text>
<text x="90.2" y="1171.7" font-size="24" text-anchor="end">1</text>
<text x="90.2" y="1255.1" font-size="24" text-anchor="end">0</text>
<line x1="164.3" y1="1258.4" x2="192.5" y2="1258.4" stroke="#111" stroke-width="2.1" stroke-linecap="round"/>
<line x1="214" y1="1258.4" x2="267" y2="1258.4" stroke="#111" stroke-width="2.1" stroke-linecap="round"/>
<line x1="358.4" y1="1258.4" x2="384.4" y2="1258.4" stroke="#111" stroke-width="2.1" stroke-linecap="round"/>
<line x1="406.5" y1="1258.4" x2="458.6" y2="1258.4" stroke="#111" stroke-width="2.1" stroke-linecap="round"/>
<line x1="548" y1="1258.4" x2="575.8" y2="1258.4" stroke="#111" stroke-width="2.1" stroke-linecap="round"/>
<line x1="599.4" y1="1258.4" x2="652.1" y2="1258.4" stroke="#111" stroke-width="2.1" stroke-linecap="round"/>
<text x="118.8" y="1277.5" font-size="31" text-anchor="end" textLength="79.5" lengthAdjust="spacingAndGlyphs" transform="rotate(-90 118.8 1277.5)">1st Ad</text>
<text x="147.4" y="1264.5" font-size="31" text-anchor="end" textLength="102.5" lengthAdjust="spacingAndGlyphs" transform="rotate(-90 147.4 1264.5)">1st MVA</text>
<text x="190.7" y="1273.5" font-size="31" text-anchor="end" textLength="90.5" lengthAdjust="spacingAndGlyphs" transform="rotate(-90 190.7 1273.5)">2nd Ad</text>
<text x="247" y="1263" font-size="31" text-anchor="end" textLength="120" lengthAdjust="spacingAndGlyphs" transform="rotate(-90 247 1263)">2nd MVA</text>
<text x="311.4" y="1277.5" font-size="31" text-anchor="end" textLength="79.5" lengthAdjust="spacingAndGlyphs" transform="rotate(-90 311.4 1277.5)">1st Ad</text>
<text x="338.7" y="1264.5" font-size="31" text-anchor="end" textLength="102.5" lengthAdjust="spacingAndGlyphs" transform="rotate(-90 338.7 1264.5)">1st MVA</text>
<text x="376.8" y="1273.5" font-size="31" text-anchor="end" textLength="90.5" lengthAdjust="spacingAndGlyphs" transform="rotate(-90 376.8 1273.5)">2nd Ad</text>
<text x="439.7" y="1263" font-size="31" text-anchor="end" textLength="120" lengthAdjust="spacingAndGlyphs" transform="rotate(-90 439.7 1263)">2nd MVA</text>
<text x="504.7" y="1277.5" font-size="31" text-anchor="end" textLength="79.5" lengthAdjust="spacingAndGlyphs" transform="rotate(-90 504.7 1277.5)">1st Ad</text>
<text x="531.8" y="1264.5" font-size="31" text-anchor="end" textLength="102.5" lengthAdjust="spacingAndGlyphs" transform="rotate(-90 531.8 1264.5)">1st MVA</text>
<text x="573.6" y="1273.5" font-size="31" text-anchor="end" textLength="90.5" lengthAdjust="spacingAndGlyphs" transform="rotate(-90 573.6 1273.5)">2nd Ad</text>
<text x="632.6" y="1263" font-size="31" text-anchor="end" textLength="120" lengthAdjust="spacingAndGlyphs" transform="rotate(-90 632.6 1263)">2nd MVA</text>
<text x="57.2" y="1019.7" font-size="31.5" text-anchor="middle" textLength="347" lengthAdjust="spacingAndGlyphs" transform="rotate(-90 57.2 1019.7)">% CD8 producing cytokine</text>
<text x="161.9" y="825.4" font-size="32">IFN</text>
<text x="212.6" y="828" font-size="25" font-family='"Liberation Serif", serif'>γ</text>
<text x="331.7" y="825.6" font-size="32" textLength="55.7" lengthAdjust="spacingAndGlyphs">TNF</text>
<text x="387.4" y="827" font-size="31.5" font-family='"Liberation Serif", serif'>α</text>
<text x="536" y="824.4" font-size="32" textLength="52.6" lengthAdjust="spacingAndGlyphs">IL-2</text>
<line x1="104" y1="827.6" x2="142.4" y2="827.6" stroke="#222" stroke-width="1.6" />
<text x="123.4" y="829.4" font-size="22" text-anchor="middle">**</text>
<text x="-3.2" y="749.9" font-size="45.5" font-weight="bold">B</text>
<text x="323.4" y="758.4" font-size="40" font-weight="bold">CD8</text>
<path d="M889.8 830.8V1251M919.7 830.8V1251M973.6 830.8V1251M1084.5 830.8V1251M1113.8 830.8V1251M1168 830.8V1251M1277.8 830.8V1251M1308.2 830.8V1251M1361.5 830.8V1251" stroke="#c2c2c2" stroke-width="1.1" stroke-dasharray="4 1.3" fill="none"/>
<path d="M1050.3 830.8V1253M1244.7 830.8V1253" stroke="#222" stroke-width="1.1" stroke-dasharray="5.2 2.6" fill="none"/>
<path d="M876.5 1189.4V1182.7M872.7 1182.7h7.6M876.5 1234.4V1238.4M872.7 1238.4h7.6" stroke="#2c2c30" stroke-width="1.2" fill="none"/>
<rect x="869.7" y="1189.4" width="13.6" height="45" fill="#e4e1e7" stroke="#2c2c30" stroke-width="1.1" />
<line x1="869.7" y1="1222.8" x2="883.3" y2="1222.8" stroke="#2c2c30" stroke-width="1.1" />
<path d="M903.5 1063V975.7M899.7 975.7h7.6M903.5 1215.4V1228.4M899.7 1228.4h7.6" stroke="#2c2c30" stroke-width="1.2" fill="none"/>
<rect x="896.5" y="1063" width="14" height="152.4" fill="#cfcacf" stroke="#2c2c30" stroke-width="1.1" />
<line x1="896.5" y1="1200" x2="910.5" y2="1200" stroke="#2c2c30" stroke-width="1.1" />
<path d="M936.8 1214.5V1197.2M933 1197.2h7.6" stroke="#2c2c30" stroke-width="1.2" fill="none"/>
<rect x="930" y="1214.5" width="13.5" height="32.8" fill="#06914f" stroke="#2c2c30" stroke-width="1.1" />
<line x1="930" y1="1239" x2="943.5" y2="1239" stroke="#2c2c30" stroke-width="1.1" />
<path d="M956.5 1192.3V1180M952.8 1180h7.6M956.5 1241V1243.3M952.8 1243.3h7.6" stroke="#2c2c30" stroke-width="1.2" fill="none"/>
<rect x="949.5" y="1192.3" width="14.1" height="48.7" fill="#e03322" stroke="#2c2c30" stroke-width="1.1" />
<line x1="949.5" y1="1230.6" x2="963.6" y2="1230.6" stroke="#2c2c30" stroke-width="1.1" />
<path d="M990.5 1245V1247.3M986.7 1247.3h7.6" stroke="#2c2c30" stroke-width="1.2" fill="none"/>
<rect x="983.4" y="1226.8" width="14.1" height="18.2" fill="#06914f" stroke="#2c2c30" stroke-width="1.1" />
<line x1="983.4" y1="1230.6" x2="997.5" y2="1230.6" stroke="#2c2c30" stroke-width="1.1" />
<path d="M1010.2 1199.6V1188.7M1006.5 1188.7h7.6M1010.2 1244V1247.3M1006.5 1247.3h7.6" stroke="#2c2c30" stroke-width="1.2" fill="none"/>
<rect x="1003.5" y="1199.6" width="13.5" height="44.4" fill="#e03322" stroke="#2c2c30" stroke-width="1.1" />
<line x1="1003.5" y1="1232.8" x2="1017" y2="1232.8" stroke="#2c2c30" stroke-width="1.1" />
<path d="M1030.5 1183.8V1175.8M1026.8 1175.8h7.6" stroke="#2c2c30" stroke-width="1.2" fill="none"/>
<rect x="1023.5" y="1183.8" width="14.1" height="38.1" fill="#4987c6" stroke="#2c2c30" stroke-width="1.1" />
<line x1="1023.5" y1="1213.9" x2="1037.6" y2="1213.9" stroke="#2c2c30" stroke-width="1.1" />
<path d="M1070.6 1210.1V1207M1066.8 1207h7.6M1070.6 1240.3V1247.3M1066.8 1247.3h7.6" stroke="#2c2c30" stroke-width="1.2" fill="none"/>
<rect x="1063.7" y="1210.1" width="13.7" height="30.2" fill="#e4e1e7" stroke="#2c2c30" stroke-width="1.1" />
<line x1="1063.7" y1="1231.2" x2="1077.4" y2="1231.2" stroke="#2c2c30" stroke-width="1.1" />
<path d="M1097.5 1161.5V1103.6M1093.8 1103.6h7.6M1097.5 1234.4V1240M1093.8 1240h7.6" stroke="#2c2c30" stroke-width="1.2" fill="none"/>
<rect x="1090.5" y="1161.5" width="14.1" height="72.9" fill="#cfcacf" stroke="#2c2c30" stroke-width="1.1" />
<line x1="1090.5" y1="1199.3" x2="1104.6" y2="1199.3" stroke="#2c2c30" stroke-width="1.1" />
<path d="M1130.8 1220.6V1192.8M1127 1192.8h7.6" stroke="#2c2c30" stroke-width="1.2" fill="none"/>
<rect x="1123.9" y="1220.6" width="13.9" height="26.7" fill="#06914f" stroke="#2c2c30" stroke-width="1.1" />
<path d="M1151 1194.3V1184.4M1147.2 1184.4h7.6M1151 1243.1V1247.3M1147.2 1247.3h7.6" stroke="#2c2c30" stroke-width="1.2" fill="none"/>
<rect x="1144.2" y="1194.3" width="13.6" height="48.8" fill="#e03322" stroke="#2c2c30" stroke-width="1.1" />
<line x1="1144.2" y1="1226.3" x2="1157.8" y2="1226.3" stroke="#2c2c30" stroke-width="1.1" />
<path d="M1184.3 1187.1V1159.1M1180.5 1159.1h7.6M1184.3 1243.1V1247.3M1180.5 1247.3h7.6" stroke="#2c2c30" stroke-width="1.2" fill="none"/>
<rect x="1177.4" y="1187.1" width="13.9" height="56" fill="#06914f" stroke="#2c2c30" stroke-width="1.1" />
<line x1="1177.4" y1="1239.4" x2="1191.3" y2="1239.4" stroke="#2c2c30" stroke-width="1.1" />
<path d="M1204.4 1198.5V1184.4M1200.6 1184.4h7.6M1204.4 1246.1V1247.5M1200.6 1247.5h7.6" stroke="#2c2c30" stroke-width="1.2" fill="none"/>
<rect x="1197.5" y="1198.5" width="13.8" height="47.6" fill="#e03322" stroke="#2c2c30" stroke-width="1.1" />
<line x1="1197.5" y1="1241.4" x2="1211.3" y2="1241.4" stroke="#2c2c30" stroke-width="1.1" />
<path d="M1224.6 1180.4V1171.8M1220.8 1171.8h7.6M1224.6 1219.8V1222.3M1220.8 1222.3h7.6" stroke="#2c2c30" stroke-width="1.2" fill="none"/>
<rect x="1217.8" y="1180.4" width="13.6" height="39.4" fill="#4987c6" stroke="#2c2c30" stroke-width="1.1" />
<line x1="1217.8" y1="1209.7" x2="1231.4" y2="1209.7" stroke="#2c2c30" stroke-width="1.1" />
<path d="M1264.5 1189.4V1183.4M1260.8 1183.4h7.6M1264.5 1228.7V1234.4M1260.8 1234.4h7.6" stroke="#2c2c30" stroke-width="1.2" fill="none"/>
<rect x="1257.6" y="1189.4" width="13.9" height="39.3" fill="#e4e1e7" stroke="#2c2c30" stroke-width="1.1" />
<line x1="1257.6" y1="1222.5" x2="1271.5" y2="1222.5" stroke="#2c2c30" stroke-width="1.1" />
<path d="M1291.4 1125.4V1046.7M1287.6 1046.7h7.6M1291.4 1227.2V1241.9M1287.6 1241.9h7.6" stroke="#2c2c30" stroke-width="1.2" fill="none"/>
<rect x="1284.6" y="1125.4" width="13.7" height="101.8" fill="#cfcacf" stroke="#2c2c30" stroke-width="1.1" />
<line x1="1284.6" y1="1208.4" x2="1298.3" y2="1208.4" stroke="#2c2c30" stroke-width="1.1" />
<path d="M1324.8 1243.6V1239.1M1321 1239.1h7.6" stroke="#2c2c30" stroke-width="1.2" fill="none"/>
<rect x="1318" y="1243.6" width="13.7" height="4" fill="#06914f" stroke="#2c2c30" stroke-width="1.1" />
<path d="M1344.9 1192V1184.4M1341.1 1184.4h7.6M1344.9 1232V1235M1341.1 1235h7.6" stroke="#2c2c30" stroke-width="1.2" fill="none"/>
<rect x="1338.1" y="1192" width="13.7" height="40" fill="#e03322" stroke="#2c2c30" stroke-width="1.1" />
<line x1="1338.1" y1="1220" x2="1351.8" y2="1220" stroke="#2c2c30" stroke-width="1.1" />
<path d="M1378.2 1212.1V1188.6M1374.5 1188.6h7.6" stroke="#2c2c30" stroke-width="1.2" fill="none"/>
<rect x="1371.3" y="1212.1" width="13.9" height="35.2" fill="#06914f" stroke="#2c2c30" stroke-width="1.1" />
<line x1="1371.3" y1="1238.9" x2="1385.2" y2="1238.9" stroke="#2c2c30" stroke-width="1.1" />
<path d="M1398.5 1214.4V1209.7M1394.7 1209.7h7.6M1398.5 1246.1V1247.5M1394.7 1247.5h7.6" stroke="#2c2c30" stroke-width="1.2" fill="none"/>
<rect x="1391.4" y="1214.4" width="14.1" height="31.7" fill="#e03322" stroke="#2c2c30" stroke-width="1.1" />
<line x1="1391.4" y1="1235" x2="1405.5" y2="1235" stroke="#2c2c30" stroke-width="1.1" />
<path d="M1418.7 1188.1V1180M1414.9 1180h7.6M1418.7 1224.8V1226.3M1414.9 1226.3h7.6" stroke="#2c2c30" stroke-width="1.2" fill="none"/>
<rect x="1411.7" y="1188.1" width="13.9" height="36.7" fill="#4987c6" stroke="#2c2c30" stroke-width="1.1" />
<line x1="1411.7" y1="1215.9" x2="1425.6" y2="1215.9" stroke="#2c2c30" stroke-width="1.1" />
<circle cx="876.4" cy="902.9" r="2.7"/>
<circle cx="1070.4" cy="1142" r="2.7"/>
<circle cx="1264.4" cy="938.3" r="2.7"/>
<path d="M866.6 829.4V1252.2" stroke="#3c3c42" stroke-width="1.9" fill="none"/><path d="M861 1251.5H1434.6" stroke="#3c3c42" stroke-width="1.4" fill="none"/>
<path d="M861 830H866.6M861 914.3H866.6M861 998.6H866.6M861 1082.9H866.6M861 1167.2H866.6M861 1251.5H866.6" stroke="#3c3c42" stroke-width="1.4" fill="none"/>
<text x="858" y="835.6" font-size="22.4" text-anchor="end">1.0</text>
<text x="858" y="919.9" font-size="22.4" text-anchor="end">0.8</text>
<text x="858" y="1004.2" font-size="22.4" text-anchor="end">0.6</text>
<text x="858" y="1088.5" font-size="22.4" text-anchor="end">0.4</text>
<text x="858" y="1172.8" font-size="22.4" text-anchor="end">0.2</text>
<text x="858" y="1257.1" font-size="22.4" text-anchor="end">0.0</text>
<line x1="930" y1="1260.1" x2="958.5" y2="1260.1" stroke="#111" stroke-width="2.1" stroke-linecap="round"/>
<line x1="984" y1="1260.1" x2="1037" y2="1260.1" stroke="#111" stroke-width="2.1" stroke-linecap="round"/>
<line x1="1124" y1="1260.1" x2="1152" y2="1260.1" stroke="#111" stroke-width="2.1" stroke-linecap="round"/>
<line x1="1179" y1="1260.1" x2="1231.6" y2="1260.1" stroke="#111" stroke-width="2.1" stroke-linecap="round"/>
<line x1="1319.3" y1="1260.1" x2="1347.8" y2="1260.1" stroke="#111" stroke-width="2.1" stroke-linecap="round"/>
<line x1="1372" y1="1260.1" x2="1425.3" y2="1260.1" stroke="#111" stroke-width="2.1" stroke-linecap="round"/>
<text x="887" y="1272.5" font-size="31" text-anchor="end" textLength="79.5" lengthAdjust="spacingAndGlyphs" transform="rotate(-90 887 1272.5)">1st Ad</text>
<text x="917.2" y="1258.1" font-size="31" text-anchor="end" textLength="106" lengthAdjust="spacingAndGlyphs" transform="rotate(-90 917.2 1258.1)">1st MVA</text>
<text x="954" y="1270.5" font-size="31" text-anchor="end" textLength="90.5" lengthAdjust="spacingAndGlyphs" transform="rotate(-90 954 1270.5)">2nd Ad</text>
<text x="1018.2" y="1263" font-size="31" text-anchor="end" textLength="120" lengthAdjust="spacingAndGlyphs" transform="rotate(-90 1018.2 1263)">2nd MVA</text>
<text x="1081.8" y="1272.5" font-size="31" text-anchor="end" textLength="79.5" lengthAdjust="spacingAndGlyphs" transform="rotate(-90 1081.8 1272.5)">1st Ad</text>
<text x="1110.8" y="1258.1" font-size="31" text-anchor="end" textLength="106" lengthAdjust="spacingAndGlyphs" transform="rotate(-90 1110.8 1258.1)">1st MVA</text>
<text x="1151.6" y="1270.5" font-size="31" text-anchor="end" textLength="90.5" lengthAdjust="spacingAndGlyphs" transform="rotate(-90 1151.6 1270.5)">2nd Ad</text>
<text x="1216" y="1263" font-size="31" text-anchor="end" textLength="120" lengthAdjust="spacingAndGlyphs" transform="rotate(-90 1216 1263)">2nd MVA</text>
<text x="1273.5" y="1272.5" font-size="31" text-anchor="end" textLength="79.5" lengthAdjust="spacingAndGlyphs" transform="rotate(-90 1273.5 1272.5)">1st Ad</text>
<text x="1304.7" y="1258.1" font-size="31" text-anchor="end" textLength="106" lengthAdjust="spacingAndGlyphs" transform="rotate(-90 1304.7 1258.1)">1st MVA</text>
<text x="1346" y="1270.5" font-size="31" text-anchor="end" textLength="90.5" lengthAdjust="spacingAndGlyphs" transform="rotate(-90 1346 1270.5)">2nd Ad</text>
<text x="1409.2" y="1263" font-size="31" text-anchor="end" textLength="120" lengthAdjust="spacingAndGlyphs" transform="rotate(-90 1409.2 1263)">2nd MVA</text>
<text x="808" y="1041" font-size="31.5" text-anchor="middle" textLength="346" lengthAdjust="spacingAndGlyphs" transform="rotate(-90 808 1041)">% CD4 producing cytokine</text>
<text x="933.3" y="799.5" font-size="32">IFN</text>
<text x="983.6" y="802.4" font-size="25" font-family='"Liberation Serif", serif'>γ</text>
<text x="1098.3" y="800.5" font-size="32" textLength="54.8" lengthAdjust="spacingAndGlyphs">TNF</text>
<text x="1153" y="803.2" font-size="32.5" font-family='"Liberation Serif", serif'>α</text>
<text x="1300.2" y="799.7" font-size="32" textLength="51.8" lengthAdjust="spacingAndGlyphs">IL-2</text>
<line x1="1065.4" y1="821" x2="1104.4" y2="821" stroke="#222" stroke-width="1.6" />
<text x="1084.4" y="825.4" font-size="23" text-anchor="middle">*</text>
<line x1="1316.7" y1="821" x2="1355.3" y2="821" stroke="#222" stroke-width="1.6" />
<text x="1335.8" y="825.4" font-size="23" text-anchor="middle">*</text>
<text x="752.6" y="753.2" font-size="47.5" font-weight="bold">C</text>
<text x="1090.2" y="745.6" font-size="40" font-weight="bold">CD4</text>
<rect x="1437.8" y="837.7" width="19.6" height="13" fill="#cfcacf" stroke="#2c2c30" stroke-width="1" />
<text x="1468.2" y="850" font-size="22.4" textLength="116" lengthAdjust="spacingAndGlyphs">A2 Ad/MVA</text>
<rect x="1437.8" y="865.1" width="19.6" height="13" fill="#06914f" stroke="#2c2c30" stroke-width="1" />
<text x="1468.2" y="877.2" font-size="22.4" textLength="276.4" lengthAdjust="spacingAndGlyphs">A3 Ad/MVA/Ad/MVA (short)</text>
<rect x="1437.8" y="892.5" width="19.6" height="13" fill="#e03322" stroke="#2c2c30" stroke-width="1" />
<text x="1468.2" y="904.2" font-size="22.4" textLength="288" lengthAdjust="spacingAndGlyphs">A4 Ad/MVA__Ad/MVA (long)</text>
<rect x="1437.8" y="919.7" width="19.6" height="13" fill="#4987c6" stroke="#2c2c30" stroke-width="1" />
<text x="1468.2" y="931.3" font-size="22.4" textLength="190" lengthAdjust="spacingAndGlyphs">A5 Ad/MVA__MVA</text>
<path d="M287.7 1603.2H685V2270.5H287.7Z M487.3 2270.5V2494.2H684.6V2270.5" fill="none" stroke="#111" stroke-width="1.7"/>
<path d="M719.6 1605.3H1115.2V2269.6H719.6Z M920.9 2269.6V2489.4H1114.8V2269.6" fill="none" stroke="#111" stroke-width="1.7"/>
<g stroke="#505050" stroke-width="1.1" stroke-linejoin="round"><path fill="#000000" d="M388 1703.7L388 1616.1A87.6 87.6 0 0 1 399.7 1616.9Z"/><path fill="#e03526" d="M388 1703.7L399.7 1616.9A87.6 87.6 0 0 1 469.9 1672.7Z"/><path fill="#901b15" d="M388 1703.7L469.9 1672.7A87.6 87.6 0 0 1 475.5 1699.7Z"/><path fill="#86cde5" d="M388 1703.7L475.5 1699.7A87.6 87.6 0 0 1 475.6 1701.6Z"/><path fill="#579fd2" d="M388 1703.7L475.6 1701.6A87.6 87.6 0 0 1 475.5 1707.7Z"/><path fill="#2871a4" d="M388 1703.7L475.5 1707.7A87.6 87.6 0 1 1 388 1616.1Z"/></g>
<g stroke="#505050" stroke-width="1.1" stroke-linejoin="round"><path fill="#000000" d="M586.9 1703.7L586.9 1616.1A87.6 87.6 0 0 1 614.4 1620.5Z"/><path fill="#e03526" d="M586.9 1703.7L614.4 1620.5A87.6 87.6 0 0 1 674.1 1711.6Z"/><path fill="#901b15" d="M586.9 1703.7L674.1 1711.6A87.6 87.6 0 0 1 669.1 1733.9Z"/><path fill="#579fd2" d="M586.9 1703.7L669.1 1733.9A87.6 87.6 0 0 1 668.4 1735.8Z"/><path fill="#2871a4" d="M586.9 1703.7L668.4 1735.8A87.6 87.6 0 1 1 586.9 1616.1Z"/></g>
<g stroke="#505050" stroke-width="1.1" stroke-linejoin="round"><path fill="#000000" d="M388 1926.6L388 1839A87.6 87.6 0 0 1 434.4 1852.3Z"/><path fill="#e03526" d="M388 1926.6L434.4 1852.3A87.6 87.6 0 1 1 312.8 1971.5Z"/><path fill="#901b15" d="M388 1926.6L312.8 1971.5A87.6 87.6 0 0 1 304.8 1954Z"/><path fill="#86cde5" d="M388 1926.6L304.8 1954A87.6 87.6 0 0 1 302.2 1944.2Z"/><path fill="#579fd2" d="M388 1926.6L302.2 1944.2A87.6 87.6 0 0 1 301.1 1937.7Z"/><path fill="#2871a4" d="M388 1926.6L301.1 1937.7A87.6 87.6 0 0 1 388 1839Z"/></g>
<g stroke="#505050" stroke-width="1.1" stroke-linejoin="round"><path fill="#000000" d="M586.9 1926.6L586.9 1839A87.6 87.6 0 0 1 631.2 1851Z"/><path fill="#f28a94" d="M586.9 1926.6L631.2 1851A87.6 87.6 0 0 1 635.8 1853.9Z"/><path fill="#e03526" d="M586.9 1926.6L635.8 1853.9A87.6 87.6 0 1 1 530.4 1993.5Z"/><path fill="#901b15" d="M586.9 1926.6L530.4 1993.5A87.6 87.6 0 0 1 517 1979.4Z"/><path fill="#86cde5" d="M586.9 1926.6L517 1979.4A87.6 87.6 0 0 1 506.3 1961Z"/><path fill="#579fd2" d="M586.9 1926.6L506.3 1961A87.6 87.6 0 0 1 499.8 1936.4Z"/><path fill="#2871a4" d="M586.9 1926.6L499.8 1936.4A87.6 87.6 0 0 1 586.9 1839Z"/></g>
<g stroke="#505050" stroke-width="1.1" stroke-linejoin="round"><path fill="#000000" d="M388 2150.1L388 2062.5A87.6 87.6 0 0 1 440.1 2079.7Z"/><path fill="#e03526" d="M388 2150.1L440.1 2079.7A87.6 87.6 0 1 1 303.4 2172.8Z"/><path fill="#901b15" d="M388 2150.1L303.4 2172.8A87.6 87.6 0 0 1 301.1 2161.4Z"/><path fill="#86cde5" d="M388 2150.1L301.1 2161.4A87.6 87.6 0 0 1 300.4 2152.2Z"/><path fill="#579fd2" d="M388 2150.1L300.4 2152.2A87.6 87.6 0 0 1 301.6 2135.6Z"/><path fill="#2871a4" d="M388 2150.1L301.6 2135.6A87.6 87.6 0 0 1 388 2062.5Z"/></g>
<g stroke="#505050" stroke-width="1.1" stroke-linejoin="round"><path fill="#000000" d="M586.9 2150.1L586.9 2062.5A87.6 87.6 0 0 1 641.2 2081.4Z"/><path fill="#e03526" d="M586.9 2150.1L641.2 2081.4A87.6 87.6 0 1 1 505.6 2182.6Z"/><path fill="#901b15" d="M586.9 2150.1L505.6 2182.6A87.6 87.6 0 0 1 501.5 2169.5Z"/><path fill="#86cde5" d="M586.9 2150.1L501.5 2169.5A87.6 87.6 0 0 1 500.8 2166.1Z"/><path fill="#579fd2" d="M586.9 2150.1L500.8 2166.1A87.6 87.6 0 0 1 499.9 2139.7Z"/><path fill="#2871a4" d="M586.9 2150.1L499.9 2139.7A87.6 87.6 0 0 1 586.9 2062.5Z"/></g>
<g stroke="#505050" stroke-width="1.1" stroke-linejoin="round"><path fill="#000000" d="M583.8 2364.2L583.8 2275.9A88.3 88.3 0 0 1 625.1 2286.2Z"/><path fill="#e03526" d="M583.8 2364.2L625.1 2286.2A88.3 88.3 0 1 1 529.7 2434Z"/><path fill="#901b15" d="M583.8 2364.2L529.7 2434A88.3 88.3 0 0 1 514.8 2419.3Z"/><path fill="#86cde5" d="M583.8 2364.2L514.8 2419.3A88.3 88.3 0 0 1 510.1 2412.8Z"/><path fill="#579fd2" d="M583.8 2364.2L510.1 2412.8A88.3 88.3 0 0 1 502.9 2399.7Z"/><path fill="#2871a4" d="M583.8 2364.2L502.9 2399.7A88.3 88.3 0 0 1 583.8 2275.9Z"/></g>
<g stroke="#505050" stroke-width="1.1" stroke-linejoin="round"><path fill="#000000" d="M820.4 1703.4L820.4 1615.3A88.1 88.1 0 0 1 898 1661.8Z"/><path fill="#f28a94" d="M820.4 1703.4L898 1661.8A88.1 88.1 0 0 1 903.8 1675Z"/><path fill="#e03526" d="M820.4 1703.4L903.8 1675A88.1 88.1 0 0 1 906.8 1686Z"/><path fill="#901b15" d="M820.4 1703.4L906.8 1686A88.1 88.1 0 0 1 772.4 1777.3Z"/><path fill="#86cde5" d="M820.4 1703.4L772.4 1777.3A88.1 88.1 0 0 1 768.5 1774.6Z"/><path fill="#579fd2" d="M820.4 1703.4L768.5 1774.6A88.1 88.1 0 0 1 742.8 1661.8Z"/><path fill="#2871a4" d="M820.4 1703.4L742.8 1661.8A88.1 88.1 0 0 1 820.4 1615.3Z"/></g>
<g stroke="#505050" stroke-width="1.1" stroke-linejoin="round"><path fill="#000000" d="M1020.2 1704L1020.2 1615.9A88.1 88.1 0 0 1 1107.4 1691.7Z"/><path fill="#f28a94" d="M1020.2 1704L1107.4 1691.7A88.1 88.1 0 0 1 1108.1 1710.3Z"/><path fill="#e03526" d="M1020.2 1704L1108.1 1710.3A88.1 88.1 0 0 1 1092.5 1754.3Z"/><path fill="#901b15" d="M1020.2 1704L1092.5 1754.3A88.1 88.1 0 0 1 983.5 1784.1Z"/><path fill="#86cde5" d="M1020.2 1704L983.5 1784.1A88.1 88.1 0 0 1 967.9 1774.9Z"/><path fill="#579fd2" d="M1020.2 1704L967.9 1774.9A88.1 88.1 0 0 1 935.4 1728Z"/><path fill="#2871a4" d="M1020.2 1704L935.4 1728A88.1 88.1 0 0 1 1020.2 1615.9Z"/></g>
<g stroke="#505050" stroke-width="1.1" stroke-linejoin="round"><path fill="#000000" d="M819.9 1927.1L819.9 1839A88.1 88.1 0 0 1 905.3 1905.6Z"/><path fill="#f28a94" d="M819.9 1927.1L905.3 1905.6A88.1 88.1 0 0 1 907.5 1936.5Z"/><path fill="#e03526" d="M819.9 1927.1L907.5 1936.5A88.1 88.1 0 0 1 879.4 1992.1Z"/><path fill="#901b15" d="M819.9 1927.1L879.4 1992.1A88.1 88.1 0 0 1 789.9 2009.9Z"/><path fill="#86cde5" d="M819.9 1927.1L789.9 2009.9A88.1 88.1 0 0 1 739.9 1890.3Z"/><path fill="#579fd2" d="M819.9 1927.1L739.9 1890.3A88.1 88.1 0 0 1 761.5 1861.1Z"/><path fill="#2871a4" d="M819.9 1927.1L761.5 1861.1A88.1 88.1 0 0 1 819.9 1839Z"/></g>
<g stroke="#505050" stroke-width="1.1" stroke-linejoin="round"><path fill="#000000" d="M1019.3 1927.6L1019.3 1839.5A88.1 88.1 0 0 1 1095.4 1883.3Z"/><path fill="#f28a94" d="M1019.3 1927.6L1095.4 1883.3A88.1 88.1 0 0 1 1045.2 2011.8Z"/><path fill="#e03526" d="M1019.3 1927.6L1045.2 2011.8A88.1 88.1 0 0 1 1003.2 2014.2Z"/><path fill="#901b15" d="M1019.3 1927.6L1003.2 2014.2A88.1 88.1 0 0 1 994.9 2012.2Z"/><path fill="#86cde5" d="M1019.3 1927.6L994.9 2012.2A88.1 88.1 0 0 1 944.1 1881.7Z"/><path fill="#579fd2" d="M1019.3 1927.6L944.1 1881.7A88.1 88.1 0 0 1 1001 1841.4Z"/><path fill="#2871a4" d="M1019.3 1927.6L1001 1841.4A88.1 88.1 0 0 1 1019.3 1839.5Z"/></g>
<g stroke="#505050" stroke-width="1.1" stroke-linejoin="round"><path fill="#000000" d="M819.1 2150.8L819.1 2062.7A88.1 88.1 0 0 1 855.2 2231.2Z"/><path fill="#f28a94" d="M819.1 2150.8L855.2 2231.2A88.1 88.1 0 0 1 814.5 2238.8Z"/><path fill="#e03526" d="M819.1 2150.8L814.5 2238.8A88.1 88.1 0 0 1 740.1 2189.8Z"/><path fill="#901b15" d="M819.1 2150.8L740.1 2189.8A88.1 88.1 0 0 1 732.8 2133.2Z"/><path fill="#86cde5" d="M819.1 2150.8L732.8 2133.2A88.1 88.1 0 0 1 751.6 2094.2Z"/><path fill="#579fd2" d="M819.1 2150.8L751.6 2094.2A88.1 88.1 0 0 1 783.5 2070.2Z"/><path fill="#2871a4" d="M819.1 2150.8L783.5 2070.2A88.1 88.1 0 0 1 819.1 2062.7Z"/></g>
<g stroke="#505050" stroke-width="1.1" stroke-linejoin="round"><path fill="#000000" d="M1018.8 2151.6L1018.8 2063.5A88.1 88.1 0 0 1 1072.3 2221.6Z"/><path fill="#f28a94" d="M1018.8 2151.6L1072.3 2221.6A88.1 88.1 0 0 1 1043.8 2236.1Z"/><path fill="#e03526" d="M1018.8 2151.6L1043.8 2236.1A88.1 88.1 0 0 1 1010.7 2239.3Z"/><path fill="#901b15" d="M1018.8 2151.6L1010.7 2239.3A88.1 88.1 0 0 1 973.7 2227.3Z"/><path fill="#86cde5" d="M1018.8 2151.6L973.7 2227.3A88.1 88.1 0 0 1 939 2188.8Z"/><path fill="#579fd2" d="M1018.8 2151.6L939 2188.8A88.1 88.1 0 0 1 985.1 2070.2Z"/><path fill="#2871a4" d="M1018.8 2151.6L985.1 2070.2A88.1 88.1 0 0 1 1018.8 2063.5Z"/></g>
<g stroke="#505050" stroke-width="1.1" stroke-linejoin="round"><path fill="#000000" d="M1016.9 2364.6L1016.9 2276.7A86.4 87.9 0 0 1 1055.5 2443.3Z"/><path fill="#f28a94" d="M1016.9 2364.6L1055.5 2443.3A86.4 87.9 0 0 1 1008.6 2452.1Z"/><path fill="#e03526" d="M1016.9 2364.6L1008.6 2452.1A86.4 87.9 0 0 1 941.6 2407.6Z"/><path fill="#901b15" d="M1016.9 2364.6L941.6 2407.6A86.4 87.9 0 0 1 930.6 2368Z"/><path fill="#86cde5" d="M1016.9 2364.6L930.6 2368A86.4 87.9 0 0 1 949.3 2309.9Z"/><path fill="#579fd2" d="M1016.9 2364.6L949.3 2309.9A86.4 87.9 0 0 1 973.6 2288.6Z"/><path fill="#2871a4" d="M1016.9 2364.6L973.6 2288.6A86.4 87.9 0 0 1 1016.9 2276.7Z"/></g>
<text x="388" y="1811.6" font-size="12" text-anchor="middle" fill="#161616" stroke="#161616" stroke-width="0.25">TW: 4</text>
<text x="586.9" y="1811.6" font-size="12" text-anchor="middle" fill="#161616" stroke="#161616" stroke-width="0.25">TW: 9</text>
<text x="388" y="2035.3" font-size="12" text-anchor="middle" fill="#161616" stroke="#161616" stroke-width="0.25">TW: 18</text>
<text x="586.9" y="2035.3" font-size="12" text-anchor="middle" fill="#161616" stroke="#161616" stroke-width="0.25">TW: 25</text>
<text x="388" y="2258.6" font-size="12" text-anchor="middle" fill="#161616" stroke="#161616" stroke-width="0.25">TW: 2nd 4</text>
<text x="586.9" y="2258.6" font-size="12" text-anchor="middle" fill="#161616" stroke="#161616" stroke-width="0.25">TW: 2nd 9</text>
<text x="584.3" y="2472.9" font-size="12" text-anchor="middle" fill="#161616" stroke="#161616" stroke-width="0.25">TW: 41</text>
<text x="820.4" y="1812.4" font-size="12" text-anchor="middle" fill="#161616" stroke="#161616" stroke-width="0.25">TW: 4</text>
<text x="1020.2" y="1812.4" font-size="12" text-anchor="middle" fill="#161616" stroke="#161616" stroke-width="0.25">TW: 9</text>
<text x="819.9" y="2034.7" font-size="12" text-anchor="middle" fill="#161616" stroke="#161616" stroke-width="0.25">TW: 18</text>
<text x="1019.3" y="2035.5" font-size="12" text-anchor="middle" fill="#161616" stroke="#161616" stroke-width="0.25">TW: 25</text>
<text x="819.9" y="2259.3" font-size="12" text-anchor="middle" fill="#161616" stroke="#161616" stroke-width="0.25">TW: 2nd 4</text>
<text x="1019.3" y="2260.4" font-size="12" text-anchor="middle" fill="#161616" stroke="#161616" stroke-width="0.25">TW: 2nd 9</text>
<text x="1017.4" y="2471.4" font-size="12" text-anchor="middle" fill="#161616" stroke="#161616" stroke-width="0.25">TW: 41</text>
<text x="16.4" y="1480.8" font-size="44" font-weight="bold" fill="#161616" textLength="34.5" lengthAdjust="spacingAndGlyphs">D</text>
<text x="457.4" y="1540.4" font-size="40.5" font-weight="bold" fill="#161616">CD8</text>
<text x="886.6" y="1545.5" font-size="40" font-weight="bold" fill="#161616">CD4</text>
<text x="334" y="1590.4" font-size="30" fill="#161616" textLength="104" lengthAdjust="spacingAndGlyphs">ChAd3</text>
<text x="557.6" y="1595.6" font-size="30" fill="#161616" textLength="71" lengthAdjust="spacingAndGlyphs">MVA</text>
<text x="764.8" y="1595" font-size="30" fill="#161616" textLength="102" lengthAdjust="spacingAndGlyphs">ChAd3</text>
<text x="986.4" y="1599.3" font-size="30" fill="#161616" textLength="71.5" lengthAdjust="spacingAndGlyphs">MVA</text>
<text x="5.6" y="1695.7" font-size="31.7" fill="#161616" textLength="109.5" lengthAdjust="spacingAndGlyphs">Arm A2</text>
<text x="4.2" y="1731.5" font-size="29.4" font-weight="bold" fill="#161616" textLength="126.5" lengthAdjust="spacingAndGlyphs">Ad/MVA</text>
<text x="5.6" y="1908.4" font-size="31.7" fill="#161616" textLength="109.5" lengthAdjust="spacingAndGlyphs">Arm A3</text>
<text x="6.1" y="1944.2" font-size="29.4" fill="#161616" textLength="129.5" lengthAdjust="spacingAndGlyphs">Ad/MVA/</text>
<text x="134.6" y="1944.2" font-size="29.4" font-weight="bold" fill="#161616" textLength="126.5" lengthAdjust="spacingAndGlyphs">Ad/MVA</text>
<text x="5.6" y="2114.9" font-size="31.7" fill="#161616" textLength="109.5" lengthAdjust="spacingAndGlyphs">Arm A4</text>
<text x="6.1" y="2151.1" font-size="29.4" fill="#161616" textLength="138.5" lengthAdjust="spacingAndGlyphs">Ad/MVA_</text>
<text x="143" y="2151.1" font-size="29.4" font-weight="bold" fill="#161616" textLength="126.5" lengthAdjust="spacingAndGlyphs">Ad/MVA</text>
<text x="5.6" y="2357.9" font-size="31.7" fill="#161616" textLength="109.5" lengthAdjust="spacingAndGlyphs">Arm A5</text>
<text x="6.1" y="2394.1" font-size="29.4" fill="#161616" textLength="138.5" lengthAdjust="spacingAndGlyphs">Ad/MVA_</text>
<text x="142.6" y="2394.1" font-size="29.4" font-weight="bold" fill="#161616" textLength="74" lengthAdjust="spacingAndGlyphs">MVA</text>
<rect x="1173.2" y="2087.7" width="71.4" height="30.2" fill="#000000" stroke="#000" stroke-width="3" />
<text x="1208.6" y="2114.7" font-size="31.5" text-anchor="middle" fill="#fff" textLength="21" lengthAdjust="spacingAndGlyphs">1</text>
<text x="1255.4" y="2109.9" font-size="31" fill="#111" textLength="286.5" lengthAdjust="spacingAndGlyphs">IFNg+IL-2+TNFa+</text>
<rect x="1173.2" y="2144.8" width="71.4" height="30.2" fill="#f28a94" stroke="#000" stroke-width="3" />
<text x="1208.6" y="2171.8" font-size="31.5" text-anchor="middle" fill="#111" textLength="21" lengthAdjust="spacingAndGlyphs">2</text>
<text x="1255.4" y="2166.5" font-size="31" fill="#111" textLength="281" lengthAdjust="spacingAndGlyphs">IFNg-IL-2+TNFa+</text>
<rect x="1173.2" y="2202.5" width="71.4" height="30.2" fill="#e03526" stroke="#000" stroke-width="3" />
<text x="1208.6" y="2229.5" font-size="31.5" text-anchor="middle" fill="#111" textLength="21" lengthAdjust="spacingAndGlyphs">3</text>
<text x="1255.4" y="2224.1" font-size="31" fill="#111" textLength="281" lengthAdjust="spacingAndGlyphs">IFNg+IL-2-TNFa+</text>
<rect x="1173.2" y="2259.6" width="71.4" height="30.2" fill="#901b15" stroke="#000" stroke-width="3" />
<text x="1208.6" y="2286.6" font-size="31.5" text-anchor="middle" fill="#111" textLength="21" lengthAdjust="spacingAndGlyphs">4</text>
<text x="1255.4" y="2281.3" font-size="31" fill="#111" textLength="281" lengthAdjust="spacingAndGlyphs">IFNg+IL-2+TNFa-</text>
<rect x="1173.2" y="2316.4" width="71.4" height="30.2" fill="#86cde5" stroke="#000" stroke-width="3" />
<text x="1208.6" y="2343.4" font-size="31.5" text-anchor="middle" fill="#111" textLength="21" lengthAdjust="spacingAndGlyphs">5</text>
<text x="1255.4" y="2338.4" font-size="31" fill="#111" textLength="275" lengthAdjust="spacingAndGlyphs">IFNg-IL-2-TNFa+</text>
<rect x="1173.2" y="2373.4" width="71.4" height="30.2" fill="#579fd2" stroke="#000" stroke-width="3" />
<text x="1208.6" y="2400.4" font-size="31.5" text-anchor="middle" fill="#111" textLength="21" lengthAdjust="spacingAndGlyphs">6</text>
<text x="1255.4" y="2395.5" font-size="31" fill="#111" textLength="276" lengthAdjust="spacingAndGlyphs">IFNg-IL-2+TNFa-</text>
<rect x="1173.2" y="2430.9" width="71.4" height="30.2" fill="#2871a4" stroke="#000" stroke-width="3" />
<text x="1208.6" y="2457.9" font-size="31.5" text-anchor="middle" fill="#111" textLength="21" lengthAdjust="spacingAndGlyphs">7</text>
<text x="1265.2" y="2453" font-size="31" fill="#111" textLength="275.5" lengthAdjust="spacingAndGlyphs">IFNg+IL-2-TNFa-</text>
</svg>
</body></html>
